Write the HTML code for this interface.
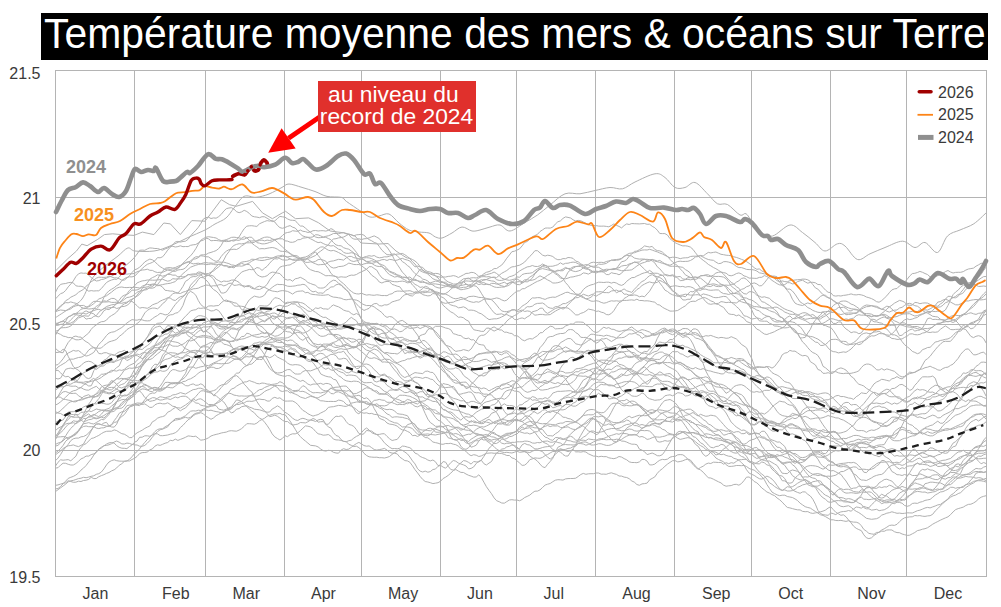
<!DOCTYPE html><html><head><meta charset="utf-8"><style>
html,body{margin:0;padding:0;background:#fff;width:1001px;height:607px;overflow:hidden;position:relative;font-family:"Liberation Sans",sans-serif}
.t{position:absolute;white-space:nowrap;line-height:1}
.m{font-size:16px;color:#3a3a3a;top:586px}
.yl{font-size:16px;color:#3a3a3a;right:960.5px}
.lg{font-size:16px;color:#3a3a3a;left:938px}
.b{font-weight:bold;font-size:18px}
</style></head><body>
<div style="position:absolute;left:41px;top:13px;width:947px;height:47px;background:#000"></div>
<div class="t" style="left:43.5px;top:11px;font-size:41px;color:#fff;line-height:47px;transform:scale(0.9965,1.04);transform-origin:0 37px">Température moyenne des mers &amp; océans sur Terre</div>
<svg width="1001" height="607" viewBox="0 0 1001 607" style="position:absolute;left:0;top:0">
<path d="M134.5 70.5V576.5 M205.5 70.5V576.5 M284.5 70.5V576.5 M361.5 70.5V576.5 M440.5 70.5V576.5 M516.5 70.5V576.5 M595.5 70.5V576.5 M674.5 70.5V576.5 M751.5 70.5V576.5 M830.5 70.5V576.5 M906.5 70.5V576.5 M55.5 197.5H986.5 M55.5 324.5H986.5 M55.5 450.5H986.5" stroke="#b4b4b4" stroke-width="1" fill="none"/>
<rect x="55.5" y="70.5" width="931" height="506" fill="none" stroke="#b4b4b4" stroke-width="1"/>
<g fill="none" stroke="#b0b0b0" stroke-width="1" stroke-linejoin="round">
<polyline points="55.5,298.9 58.0,296.2 60.6,293.6 63.1,292.8 65.7,290.4 68.2,286.9 70.8,284.0 73.3,280.9 75.9,276.6 78.5,273.8 81.0,272.9 83.5,273.3 86.1,273.1 88.7,275.2 91.2,277.5 93.8,279.5 96.3,281.0 98.8,280.6 101.4,279.5 103.9,279.1 106.5,278.1 109.0,276.9 111.6,276.1 114.2,274.7 116.7,273.3 119.2,270.7 121.8,269.0 124.3,266.7 126.9,264.5 129.4,262.4 132.0,260.0 134.6,257.2 137.1,254.0 139.6,250.3 142.2,250.1 144.8,250.3 147.3,248.9 149.8,247.9 152.4,248.1 154.9,248.5 157.5,248.5 160.1,249.4 162.6,250.2 165.1,248.9 167.7,248.0 170.2,246.5 172.8,246.3 175.3,247.0 177.9,246.6 180.4,245.8 183.0,246.7 185.5,246.5 188.1,246.6 190.6,245.3 193.2,244.8 195.8,244.5 198.3,242.9 200.8,240.9 203.4,240.1 205.9,238.2 208.5,238.8 211.0,240.8 213.6,240.5 216.1,240.5 218.7,240.8 221.2,241.2 223.8,241.2 226.3,241.6 228.9,241.3 231.4,240.5 234.0,239.9 236.5,240.2 239.1,240.3 241.6,239.2 244.2,239.2 246.8,237.9 249.3,237.2 251.8,237.3 254.4,240.1 256.9,242.6 259.5,243.2 262.0,243.9 264.6,243.8 267.1,243.3 269.7,242.4 272.2,241.6 274.8,240.0 277.4,238.7 279.9,238.8 282.4,238.8 285.0,240.8 287.5,241.1 290.1,242.2 292.6,242.3 295.2,241.6 297.8,239.7 300.3,239.6 302.9,238.1 305.4,237.9 307.9,237.4 310.5,238.8 313.0,240.0 315.6,241.5 318.1,242.6 320.7,242.2 323.2,243.5 325.8,244.7 328.3,245.3 330.9,246.0 333.4,245.6 336.0,247.3 338.5,249.2 341.1,249.8 343.6,252.4 346.2,253.3 348.8,253.3 351.3,252.7 353.8,253.2 356.4,254.4 358.9,256.6 361.5,257.6 364.0,257.9 366.6,257.7 369.1,257.9 371.7,258.7 374.2,259.8 376.8,261.4 379.3,263.5 381.9,264.8 384.4,265.7 387.0,268.7 389.5,271.0 392.1,272.2 394.6,273.0 397.2,274.8 399.8,275.5 402.3,277.0 404.8,277.2 407.4,277.5 409.9,277.0 412.5,279.3 415.0,279.2 417.6,280.6 420.1,281.4 422.7,281.0 425.2,282.7 427.8,283.9 430.3,284.5 432.9,283.9 435.4,283.9 438.0,284.3 440.5,284.8 443.1,285.3 445.6,285.9 448.2,286.5 450.8,287.2 453.3,286.7 455.8,284.6 458.4,282.9 460.9,280.8 463.5,278.8 466.0,278.6 468.6,278.7 471.1,277.9 473.7,277.7 476.2,278.0 478.8,276.7 481.3,276.0 483.9,273.7 486.4,272.3 489.0,271.6 491.5,270.5 494.1,268.6 496.6,268.5 499.2,266.7 501.7,265.1 504.3,261.9 506.8,258.2 509.4,255.0 511.9,251.7 514.5,251.2 517.0,250.1 519.6,248.8 522.1,245.9 524.7,242.4 527.2,241.5 529.8,239.1 532.3,236.7 534.9,235.6 537.5,234.3 540.0,231.5 542.5,229.9 545.1,228.1 547.6,228.0 550.2,228.1 552.8,227.1 555.3,224.1 557.8,221.8 560.4,220.9 563.0,218.4 565.5,216.9 568.0,217.4 570.6,218.0 573.1,219.8 575.7,221.0 578.2,220.4 580.8,220.8 583.3,222.0 585.9,223.2 588.4,224.7 591.0,225.3 593.5,225.6 596.1,225.6 598.6,226.1 601.2,226.2 603.8,226.1 606.3,226.4 608.8,226.8 611.4,225.5 613.9,223.9 616.5,225.4 619.0,226.4 621.6,227.9 624.1,225.6 626.7,223.9 629.2,224.5 631.8,223.5 634.3,223.7 636.9,223.8 639.4,223.9 642.0,223.7 644.5,223.5 647.1,224.3 649.6,224.2 652.2,226.3 654.8,227.7 657.3,230.2 659.8,233.5 662.4,233.6 664.9,233.6 667.5,235.1 670.0,238.7 672.6,240.8 675.1,242.7 677.7,243.9 680.2,245.0 682.8,245.9 685.3,245.8 687.9,246.2 690.4,247.1 693.0,249.4 695.5,252.8 698.1,256.1 700.6,258.2 703.2,260.3 705.8,262.2 708.3,264.4 710.8,265.8 713.4,267.5 715.9,268.7 718.5,270.3 721.0,272.1 723.6,272.6 726.1,273.2 728.7,275.3 731.2,275.8 733.8,275.0 736.3,273.6 738.9,272.9 741.4,273.9 744.0,275.9 746.5,276.6 749.1,278.1 751.6,278.1 754.2,278.3 756.8,278.4 759.3,277.4 761.8,277.3 764.4,275.6 766.9,276.5 769.5,278.1 772.0,280.4 774.6,282.0 777.1,283.7 779.7,284.9 782.2,285.0 784.8,284.6 787.3,282.7 789.9,282.7 792.4,283.9 795.0,283.5 797.5,281.6 800.1,280.8 802.6,280.2 805.2,281.9 807.8,283.2 810.3,282.4 812.8,282.3 815.4,282.8 817.9,284.5 820.5,284.6 823.0,287.4 825.6,290.2 828.1,292.3 830.7,292.6 833.2,295.6 835.8,296.1 838.3,295.7 840.9,296.0 843.4,295.4 846.0,295.1 848.5,294.6 851.1,293.9 853.6,294.7 856.2,294.9 858.8,294.5 861.3,294.9 863.8,295.6 866.4,297.0 868.9,297.7 871.5,298.6 874.0,299.9 876.6,301.7 879.1,302.2 881.7,300.6 884.2,298.3 886.8,295.8 889.3,292.7 891.9,289.9 894.4,288.9 897.0,288.5 899.5,285.9 902.1,283.9 904.6,282.0 907.2,279.3 909.7,276.0 912.3,273.6 914.8,273.3 917.4,272.5 919.9,271.4 922.5,272.3 925.0,273.5 927.6,274.6 930.1,276.9 932.7,277.5 935.2,276.8 937.8,275.6 940.3,274.5 942.9,273.4 945.4,271.6 948.0,270.5 950.5,272.0 953.1,273.0 955.6,272.4 958.2,272.3 960.7,272.3 963.3,271.6 965.8,270.1 968.4,269.0 970.9,268.6 973.5,268.1 976.0,266.2 978.6,264.8 981.1,263.3 983.7,263.4 986.2,262.7"/>
<polyline points="55.5,292.2 58.0,287.4 60.6,284.4 63.1,283.8 65.7,283.5 68.2,282.7 70.8,282.4 73.3,282.9 75.9,285.8 78.5,286.3 81.0,286.2 83.5,287.0 86.1,289.3 88.7,291.2 91.2,290.6 93.8,291.0 96.3,290.8 98.8,290.8 101.4,288.5 103.9,285.5 106.5,282.5 109.0,281.0 111.6,280.0 114.2,279.2 116.7,279.4 119.2,277.1 121.8,274.1 124.3,273.7 126.9,274.2 129.4,273.8 132.0,273.8 134.6,273.4 137.1,271.7 139.6,271.0 142.2,268.5 144.8,266.2 147.3,264.3 149.8,263.4 152.4,262.4 154.9,260.8 157.5,257.6 160.1,257.8 162.6,256.8 165.1,253.8 167.7,250.1 170.2,247.3 172.8,244.8 175.3,241.9 177.9,241.4 180.4,242.1 183.0,241.5 185.5,241.2 188.1,239.3 190.6,235.9 193.2,232.9 195.8,230.3 198.3,227.3 200.8,223.6 203.4,219.0 205.9,217.6 208.5,217.2 211.0,218.5 213.6,217.9 216.1,218.2 218.7,216.6 221.2,214.4 223.8,211.1 226.3,208.7 228.9,208.0 231.4,207.7 234.0,209.1 236.5,211.7 239.1,212.7 241.6,211.9 244.2,210.3 246.8,211.5 249.3,213.4 251.8,216.0 254.4,216.8 256.9,217.1 259.5,217.7 262.0,216.7 264.6,216.8 267.1,218.2 269.7,219.8 272.2,221.6 274.8,220.9 277.4,218.6 279.9,216.4 282.4,216.8 285.0,217.2 287.5,218.9 290.1,220.1 292.6,220.3 295.2,220.5 297.8,223.6 300.3,226.0 302.9,226.1 305.4,228.1 307.9,230.3 310.5,232.2 313.0,234.7 315.6,237.0 318.1,237.7 320.7,237.6 323.2,237.3 325.8,237.3 328.3,238.5 330.9,239.7 333.4,242.5 336.0,244.9 338.5,245.6 341.1,245.8 343.6,247.7 346.2,248.6 348.8,249.2 351.3,251.0 353.8,252.8 356.4,258.2 358.9,263.1 361.5,264.9 364.0,263.9 366.6,263.4 369.1,263.0 371.7,263.4 374.2,262.9 376.8,261.1 379.3,260.7 381.9,259.7 384.4,259.5 387.0,260.5 389.5,259.4 392.1,259.7 394.6,260.5 397.2,260.1 399.8,259.1 402.3,258.3 404.8,259.4 407.4,260.1 409.9,261.0 412.5,264.1 415.0,266.9 417.6,266.1 420.1,266.9 422.7,267.4 425.2,270.2 427.8,271.6 430.3,272.1 432.9,273.2 435.4,276.0 438.0,277.9 440.5,281.2 443.1,282.2 445.6,283.7 448.2,284.8 450.8,286.9 453.3,287.7 455.8,287.5 458.4,288.7 460.9,289.8 463.5,289.4 466.0,288.9 468.6,288.3 471.1,287.0 473.7,284.9 476.2,282.4 478.8,281.0 481.3,281.6 483.9,279.4 486.4,279.6 489.0,280.4 491.5,280.9 494.1,281.2 496.6,283.1 499.2,284.9 501.7,285.8 504.3,286.6 506.8,286.2 509.4,284.9 511.9,282.9 514.5,279.9 517.0,278.9 519.6,280.5 522.1,281.8 524.7,279.8 527.2,279.8 529.8,280.3 532.3,280.2 534.9,279.4 537.5,277.4 540.0,275.8 542.5,277.1 545.1,278.4 547.6,279.9 550.2,281.2 552.8,283.0 555.3,283.0 557.8,282.7 560.4,281.9 563.0,280.4 565.5,277.2 568.0,272.2 570.6,269.9 573.1,268.2 575.7,266.7 578.2,266.2 580.8,265.2 583.3,265.4 585.9,264.6 588.4,265.0 591.0,266.2 593.5,267.4 596.1,267.1 598.6,267.3 601.2,268.8 603.8,270.5 606.3,271.2 608.8,269.7 611.4,269.3 613.9,269.4 616.5,268.7 619.0,265.0 621.6,261.7 624.1,261.2 626.7,259.6 629.2,256.1 631.8,254.0 634.3,251.4 636.9,251.1 639.4,249.7 642.0,248.1 644.5,245.9 647.1,246.5 649.6,247.0 652.2,246.4 654.8,249.4 657.3,250.6 659.8,250.9 662.4,252.1 664.9,254.4 667.5,256.4 670.0,259.4 672.6,262.0 675.1,264.0 677.7,265.7 680.2,268.9 682.8,271.5 685.3,274.8 687.9,276.2 690.4,277.4 693.0,278.1 695.5,277.7 698.1,277.2 700.6,275.9 703.2,275.6 705.8,275.6 708.3,276.5 710.8,276.3 713.4,275.1 715.9,273.0 718.5,272.3 721.0,271.9 723.6,274.2 726.1,277.0 728.7,279.9 731.2,282.3 733.8,283.9 736.3,286.7 738.9,288.2 741.4,291.7 744.0,293.7 746.5,294.0 749.1,291.8 751.6,291.6 754.2,292.7 756.8,295.2 759.3,296.2 761.8,297.3 764.4,296.8 766.9,297.6 769.5,298.3 772.0,300.9 774.6,302.6 777.1,304.2 779.7,305.7 782.2,307.5 784.8,309.0 787.3,310.1 789.9,310.9 792.4,311.8 795.0,313.8 797.5,314.6 800.1,316.4 802.6,318.1 805.2,319.3 807.8,318.9 810.3,318.3 812.8,318.6 815.4,317.7 817.9,318.4 820.5,316.8 823.0,315.5 825.6,312.9 828.1,311.1 830.7,308.7 833.2,305.6 835.8,303.8 838.3,303.1 840.9,301.3 843.4,301.0 846.0,301.1 848.5,302.3 851.1,304.1 853.6,304.9 856.2,306.6 858.8,308.4 861.3,311.3 863.8,313.9 866.4,315.6 868.9,315.5 871.5,316.8 874.0,315.8 876.6,316.4 879.1,315.5 881.7,313.3 884.2,311.7 886.8,309.0 889.3,307.0 891.9,305.2 894.4,303.2 897.0,301.8 899.5,300.4 902.1,301.1 904.6,302.2 907.2,305.0 909.7,305.3 912.3,305.2 914.8,302.4 917.4,302.7 919.9,303.7 922.5,303.1 925.0,302.9 927.6,303.1 930.1,304.4 932.7,305.6 935.2,305.8 937.8,306.3 940.3,304.0 942.9,302.4 945.4,299.3 948.0,296.3 950.5,296.4 953.1,297.7 955.6,296.4 958.2,294.4 960.7,294.3 963.3,292.8 965.8,289.3 968.4,287.6 970.9,284.5 973.5,283.9 976.0,285.2 978.6,286.5 981.1,286.3 983.7,286.0 986.2,286.4"/>
<polyline points="55.5,311.1 58.0,309.1 60.6,306.9 63.1,304.0 65.7,300.7 68.2,299.3 70.8,297.2 73.3,296.0 75.9,294.7 78.5,292.3 81.0,290.8 83.5,289.4 86.1,286.2 88.7,284.2 91.2,281.7 93.8,280.2 96.3,278.2 98.8,277.2 101.4,277.3 103.9,277.4 106.5,277.2 109.0,276.0 111.6,277.0 114.2,277.9 116.7,277.8 119.2,278.7 121.8,280.2 124.3,280.1 126.9,278.1 129.4,275.8 132.0,272.5 134.6,269.8 137.1,268.9 139.6,267.2 142.2,264.8 144.8,261.9 147.3,260.4 149.8,259.1 152.4,259.8 154.9,261.7 157.5,264.4 160.1,266.6 162.6,268.1 165.1,269.7 167.7,268.9 170.2,269.4 172.8,268.9 175.3,268.8 177.9,267.9 180.4,266.4 183.0,263.1 185.5,260.8 188.1,257.9 190.6,255.8 193.2,252.6 195.8,248.7 198.3,244.1 200.8,240.2 203.4,238.5 205.9,237.3 208.5,236.7 211.0,237.1 213.6,237.5 216.1,238.0 218.7,239.6 221.2,240.6 223.8,240.3 226.3,240.4 228.9,241.4 231.4,240.6 234.0,241.1 236.5,239.3 239.1,236.9 241.6,232.6 244.2,228.7 246.8,226.2 249.3,225.8 251.8,225.7 254.4,226.1 256.9,226.4 259.5,223.8 262.0,222.6 264.6,221.5 267.1,220.6 269.7,221.1 272.2,220.5 274.8,222.0 277.4,225.4 279.9,227.6 282.4,228.3 285.0,227.5 287.5,226.4 290.1,225.6 292.6,227.2 295.2,228.0 297.8,230.9 300.3,234.1 302.9,236.0 305.4,236.8 307.9,237.3 310.5,237.3 313.0,236.9 315.6,234.7 318.1,234.9 320.7,235.9 323.2,237.1 325.8,236.3 328.3,235.8 330.9,234.8 333.4,233.5 336.0,233.5 338.5,233.7 341.1,233.0 343.6,232.6 346.2,233.9 348.8,234.5 351.3,237.6 353.8,239.0 356.4,239.3 358.9,238.8 361.5,239.6 364.0,238.8 366.6,238.6 369.1,237.9 371.7,236.8 374.2,235.9 376.8,237.2 379.3,238.6 381.9,242.1 384.4,244.8 387.0,247.1 389.5,250.8 392.1,254.9 394.6,260.2 397.2,264.3 399.8,268.2 402.3,272.2 404.8,274.5 407.4,277.8 409.9,281.4 412.5,285.1 415.0,287.4 417.6,290.8 420.1,292.9 422.7,292.8 425.2,292.5 427.8,292.1 430.3,292.2 432.9,291.8 435.4,292.1 438.0,293.7 440.5,293.9 443.1,294.2 445.6,293.4 448.2,291.9 450.8,289.2 453.3,287.3 455.8,286.8 458.4,287.3 460.9,285.0 463.5,281.5 466.0,278.5 468.6,278.1 471.1,279.9 473.7,281.4 476.2,280.9 478.8,282.1 481.3,282.9 483.9,282.6 486.4,283.9 489.0,284.8 491.5,283.4 494.1,283.4 496.6,284.1 499.2,284.0 501.7,283.2 504.3,282.2 506.8,283.7 509.4,283.0 511.9,282.6 514.5,282.3 517.0,281.8 519.6,281.6 522.1,282.8 524.7,281.6 527.2,281.9 529.8,280.4 532.3,278.1 534.9,273.8 537.5,271.5 540.0,268.3 542.5,265.6 545.1,265.3 547.6,266.7 550.2,269.1 552.8,271.0 555.3,271.4 557.8,270.1 560.4,270.8 563.0,270.7 565.5,268.4 568.0,268.5 570.6,268.4 573.1,266.9 575.7,266.4 578.2,266.4 580.8,266.5 583.3,268.1 585.9,269.1 588.4,269.3 591.0,271.5 593.5,272.4 596.1,271.2 598.6,271.5 601.2,270.4 603.8,269.9 606.3,269.2 608.8,269.4 611.4,269.6 613.9,269.5 616.5,268.1 619.0,267.8 621.6,266.1 624.1,265.5 626.7,265.4 629.2,263.9 631.8,263.3 634.3,262.2 636.9,262.6 639.4,264.3 642.0,266.9 644.5,269.2 647.1,271.8 649.6,273.6 652.2,273.3 654.8,273.2 657.3,273.3 659.8,274.4 662.4,275.3 664.9,274.8 667.5,274.9 670.0,275.9 672.6,275.7 675.1,277.2 677.7,276.7 680.2,276.5 682.8,279.0 685.3,279.2 687.9,277.7 690.4,277.7 693.0,277.2 695.5,276.8 698.1,277.8 700.6,278.2 703.2,280.2 705.8,282.5 708.3,284.6 710.8,284.3 713.4,283.8 715.9,284.4 718.5,285.3 721.0,284.8 723.6,285.2 726.1,286.2 728.7,288.6 731.2,291.1 733.8,293.6 736.3,292.4 738.9,291.2 741.4,289.4 744.0,288.6 746.5,286.7 749.1,285.9 751.6,283.7 754.2,282.9 756.8,283.9 759.3,285.8 761.8,285.7 764.4,282.8 766.9,279.6 769.5,276.5 772.0,276.1 774.6,276.1 777.1,276.8 779.7,279.4 782.2,283.2 784.8,287.6 787.3,290.5 789.9,293.7 792.4,299.2 795.0,303.1 797.5,304.4 800.1,305.0 802.6,305.5 805.2,304.0 807.8,302.9 810.3,303.9 812.8,302.6 815.4,300.9 817.9,298.8 820.5,296.4 823.0,295.1 825.6,295.2 828.1,297.7 830.7,298.7 833.2,300.3 835.8,302.0 838.3,304.2 840.9,309.1 843.4,312.3 846.0,314.7 848.5,314.5 851.1,314.2 853.6,313.4 856.2,312.7 858.8,310.9 861.3,309.2 863.8,307.8 866.4,306.7 868.9,306.5 871.5,305.7 874.0,306.0 876.6,306.3 879.1,307.6 881.7,309.4 884.2,307.8 886.8,306.2 889.3,306.7 891.9,309.0 894.4,311.4 897.0,312.9 899.5,313.3 902.1,313.7 904.6,314.0 907.2,313.8 909.7,313.7 912.3,315.0 914.8,316.0 917.4,315.6 919.9,314.6 922.5,313.7 925.0,312.7 927.6,311.9 930.1,312.8 932.7,310.3 935.2,307.8 937.8,307.2 940.3,306.9 942.9,305.3 945.4,302.7 948.0,301.8 950.5,299.1 953.1,297.6 955.6,297.8 958.2,296.3 960.7,292.5 963.3,289.5 965.8,285.8 968.4,282.7 970.9,282.7 973.5,280.4 976.0,278.9 978.6,277.0 981.1,274.4 983.7,270.3 986.2,267.0"/>
<polyline points="55.5,311.2 58.0,308.5 60.6,305.7 63.1,304.1 65.7,302.6 68.2,302.8 70.8,301.9 73.3,302.7 75.9,303.3 78.5,304.8 81.0,307.3 83.5,308.1 86.1,308.1 88.7,306.2 91.2,303.3 93.8,301.4 96.3,301.3 98.8,301.5 101.4,302.3 103.9,302.0 106.5,302.0 109.0,301.7 111.6,302.4 114.2,302.4 116.7,302.2 119.2,302.9 121.8,301.3 124.3,299.5 126.9,297.5 129.4,297.2 132.0,296.3 134.6,294.7 137.1,292.2 139.6,291.2 142.2,290.5 144.8,290.0 147.3,289.5 149.8,287.2 152.4,286.8 154.9,283.7 157.5,279.3 160.1,274.6 162.6,271.3 165.1,268.3 167.7,267.7 170.2,267.6 172.8,268.1 175.3,267.5 177.9,266.3 180.4,265.4 183.0,264.1 185.5,262.5 188.1,261.8 190.6,262.9 193.2,263.9 195.8,263.5 198.3,263.2 200.8,263.8 203.4,262.9 205.9,262.6 208.5,263.0 211.0,263.0 213.6,263.3 216.1,262.8 218.7,261.9 221.2,262.3 223.8,262.1 226.3,262.9 228.9,263.6 231.4,264.9 234.0,265.2 236.5,266.3 239.1,265.9 241.6,266.2 244.2,265.5 246.8,264.1 249.3,262.9 251.8,261.1 254.4,259.9 256.9,258.9 259.5,257.8 262.0,257.9 264.6,257.4 267.1,257.2 269.7,257.8 272.2,258.1 274.8,257.9 277.4,257.4 279.9,258.6 282.4,259.8 285.0,260.1 287.5,260.0 290.1,258.9 292.6,260.1 295.2,260.4 297.8,260.4 300.3,260.1 302.9,259.8 305.4,259.8 307.9,258.1 310.5,257.8 313.0,256.6 315.6,255.5 318.1,252.9 320.7,251.1 323.2,249.2 325.8,246.6 328.3,244.9 330.9,241.3 333.4,239.0 336.0,238.7 338.5,237.9 341.1,237.6 343.6,237.0 346.2,235.7 348.8,234.1 351.3,234.7 353.8,235.9 356.4,234.8 358.9,234.6 361.5,234.3 364.0,235.2 366.6,237.7 369.1,239.6 371.7,240.8 374.2,242.4 376.8,243.3 379.3,246.5 381.9,250.2 384.4,252.5 387.0,254.7 389.5,254.7 392.1,254.2 394.6,253.9 397.2,255.9 399.8,258.3 402.3,261.6 404.8,263.1 407.4,265.5 409.9,267.3 412.5,270.8 415.0,273.6 417.6,275.5 420.1,276.7 422.7,279.1 425.2,279.7 427.8,281.0 430.3,283.3 432.9,285.0 435.4,286.8 438.0,287.8 440.5,288.1 443.1,287.3 445.6,286.6 448.2,285.1 450.8,284.8 453.3,286.5 455.8,287.0 458.4,288.0 460.9,287.8 463.5,287.3 466.0,287.2 468.6,286.1 471.1,285.4 473.7,284.6 476.2,283.3 478.8,284.6 481.3,283.9 483.9,284.7 486.4,284.3 489.0,284.4 491.5,285.6 494.1,286.9 496.6,287.4 499.2,287.4 501.7,287.1 504.3,287.0 506.8,285.1 509.4,282.6 511.9,281.5 514.5,283.4 517.0,284.5 519.6,284.7 522.1,283.1 524.7,281.5 527.2,279.3 529.8,277.1 532.3,275.6 534.9,273.0 537.5,270.5 540.0,269.3 542.5,268.6 545.1,269.2 547.6,269.8 550.2,270.4 552.8,271.5 555.3,273.8 557.8,275.2 560.4,278.1 563.0,278.5 565.5,278.8 568.0,278.1 570.6,277.1 573.1,276.9 575.7,276.2 578.2,275.6 580.8,274.8 583.3,272.9 585.9,273.3 588.4,274.1 591.0,272.7 593.5,271.2 596.1,271.7 598.6,271.8 601.2,271.8 603.8,271.2 606.3,270.9 608.8,269.5 611.4,269.3 613.9,268.4 616.5,269.3 619.0,270.0 621.6,270.7 624.1,270.7 626.7,270.3 629.2,270.2 631.8,269.8 634.3,268.0 636.9,266.0 639.4,264.4 642.0,263.1 644.5,262.4 647.1,261.3 649.6,261.2 652.2,259.6 654.8,260.1 657.3,261.1 659.8,260.4 662.4,262.2 664.9,263.7 667.5,264.5 670.0,265.3 672.6,263.9 675.1,262.6 677.7,261.5 680.2,261.2 682.8,261.5 685.3,261.4 687.9,261.3 690.4,260.5 693.0,259.0 695.5,256.9 698.1,256.6 700.6,255.4 703.2,256.0 705.8,254.0 708.3,252.4 710.8,252.9 713.4,252.4 715.9,252.0 718.5,253.2 721.0,254.3 723.6,254.7 726.1,255.2 728.7,255.4 731.2,255.8 733.8,256.8 736.3,257.4 738.9,258.3 741.4,259.3 744.0,260.3 746.5,261.6 749.1,263.3 751.6,265.4 754.2,267.7 756.8,269.3 759.3,268.9 761.8,270.9 764.4,272.2 766.9,275.0 769.5,275.8 772.0,276.4 774.6,277.0 777.1,278.7 779.7,282.0 782.2,285.6 784.8,286.5 787.3,289.2 789.9,289.1 792.4,291.0 795.0,294.2 797.5,298.0 800.1,301.9 802.6,303.5 805.2,305.2 807.8,307.6 810.3,308.7 812.8,310.4 815.4,311.4 817.9,312.3 820.5,312.5 823.0,312.0 825.6,311.6 828.1,311.4 830.7,311.5 833.2,310.3 835.8,309.6 838.3,307.5 840.9,307.6 843.4,307.2 846.0,308.4 848.5,310.7 851.1,310.9 853.6,309.5 856.2,309.9 858.8,310.1 861.3,310.6 863.8,313.2 866.4,313.7 868.9,313.7 871.5,314.2 874.0,315.6 876.6,316.0 879.1,315.8 881.7,314.5 884.2,314.3 886.8,315.4 889.3,317.1 891.9,319.2 894.4,320.8 897.0,321.9 899.5,323.3 902.1,322.7 904.6,323.0 907.2,325.1 909.7,325.5 912.3,326.6 914.8,326.5 917.4,326.5 919.9,327.6 922.5,328.9 925.0,330.7 927.6,332.2 930.1,332.5 932.7,332.0 935.2,332.3 937.8,331.8 940.3,329.4 942.9,327.5 945.4,325.9 948.0,327.6 950.5,329.5 953.1,329.7 955.6,329.4 958.2,329.3 960.7,329.5 963.3,328.4 965.8,327.3 968.4,325.1 970.9,323.3 973.5,323.3 976.0,321.4 978.6,319.0 981.1,314.8 983.7,310.8 986.2,309.9"/>
<polyline points="55.5,323.4 58.0,323.1 60.6,322.0 63.1,320.8 65.7,318.8 68.2,317.0 70.8,315.8 73.3,313.7 75.9,313.5 78.5,311.7 81.0,309.2 83.5,308.6 86.1,308.5 88.7,309.0 91.2,308.8 93.8,308.3 96.3,308.9 98.8,306.6 101.4,303.3 103.9,297.5 106.5,293.3 109.0,290.8 111.6,289.2 114.2,287.7 116.7,285.6 119.2,284.3 121.8,280.6 124.3,278.7 126.9,277.4 129.4,276.8 132.0,276.9 134.6,276.1 137.1,273.8 139.6,270.8 142.2,270.0 144.8,269.8 147.3,269.2 149.8,270.3 152.4,270.4 154.9,271.8 157.5,272.5 160.1,272.3 162.6,272.3 165.1,271.2 167.7,270.1 170.2,270.5 172.8,271.1 175.3,271.4 177.9,270.0 180.4,269.6 183.0,269.3 185.5,267.9 188.1,264.9 190.6,262.4 193.2,259.2 195.8,258.8 198.3,257.6 200.8,255.7 203.4,256.1 205.9,256.7 208.5,256.9 211.0,258.6 213.6,260.4 216.1,261.4 218.7,260.4 221.2,256.5 223.8,253.4 226.3,251.2 228.9,249.7 231.4,249.6 234.0,249.2 236.5,249.5 239.1,248.1 241.6,245.9 244.2,244.3 246.8,242.1 249.3,240.8 251.8,241.0 254.4,240.8 256.9,241.2 259.5,240.4 262.0,240.1 264.6,240.9 267.1,240.1 269.7,240.5 272.2,239.9 274.8,239.4 277.4,239.2 279.9,237.8 282.4,235.6 285.0,233.2 287.5,232.5 290.1,232.0 292.6,230.7 295.2,231.1 297.8,231.3 300.3,230.0 302.9,231.3 305.4,231.6 307.9,232.5 310.5,231.9 313.0,230.7 315.6,230.5 318.1,231.0 320.7,230.7 323.2,230.7 325.8,231.1 328.3,230.4 330.9,228.6 333.4,229.7 336.0,232.6 338.5,235.4 341.1,237.0 343.6,238.9 346.2,242.1 348.8,244.7 351.3,246.3 353.8,249.1 356.4,252.3 358.9,256.1 361.5,258.1 364.0,260.1 366.6,261.4 369.1,261.4 371.7,260.7 374.2,261.5 376.8,262.1 379.3,263.8 381.9,266.4 384.4,268.9 387.0,272.4 389.5,274.6 392.1,275.9 394.6,277.1 397.2,276.5 399.8,277.2 402.3,277.9 404.8,277.5 407.4,278.1 409.9,279.4 412.5,280.2 415.0,280.3 417.6,280.8 420.1,282.4 422.7,282.3 425.2,282.5 427.8,283.2 430.3,282.8 432.9,282.0 435.4,281.1 438.0,281.4 440.5,282.8 443.1,282.2 445.6,282.3 448.2,284.4 450.8,284.5 453.3,285.6 455.8,285.8 458.4,286.0 460.9,285.5 463.5,285.0 466.0,284.3 468.6,284.9 471.1,284.6 473.7,281.9 476.2,279.9 478.8,278.0 481.3,276.8 483.9,276.6 486.4,276.9 489.0,276.6 491.5,277.4 494.1,277.4 496.6,279.7 499.2,280.4 501.7,280.4 504.3,279.7 506.8,278.5 509.4,276.7 511.9,276.1 514.5,275.0 517.0,273.0 519.6,271.0 522.1,269.5 524.7,268.2 527.2,266.9 529.8,266.5 532.3,265.5 534.9,266.4 537.5,266.5 540.0,265.8 542.5,264.0 545.1,265.3 547.6,266.3 550.2,266.3 552.8,266.2 555.3,265.5 557.8,264.7 560.4,262.8 563.0,264.4 565.5,263.3 568.0,263.2 570.6,262.5 573.1,262.1 575.7,262.5 578.2,263.8 580.8,264.7 583.3,266.8 585.9,268.2 588.4,267.7 591.0,266.3 593.5,266.3 596.1,265.9 598.6,264.0 601.2,264.4 603.8,264.0 606.3,263.4 608.8,261.7 611.4,260.1 613.9,260.5 616.5,260.2 619.0,259.9 621.6,258.7 624.1,256.5 626.7,255.3 629.2,255.5 631.8,256.1 634.3,258.0 636.9,258.7 639.4,259.1 642.0,259.0 644.5,259.2 647.1,260.3 649.6,259.8 652.2,259.4 654.8,261.1 657.3,261.7 659.8,262.4 662.4,263.3 664.9,264.0 667.5,265.3 670.0,266.2 672.6,266.3 675.1,266.2 677.7,266.6 680.2,266.9 682.8,267.4 685.3,269.5 687.9,271.0 690.4,273.1 693.0,277.2 695.5,282.1 698.1,284.9 700.6,288.4 703.2,289.2 705.8,289.1 708.3,290.0 710.8,290.3 713.4,290.1 715.9,289.9 718.5,290.0 721.0,292.3 723.6,293.6 726.1,293.8 728.7,294.5 731.2,293.5 733.8,293.4 736.3,293.6 738.9,294.1 741.4,297.0 744.0,297.8 746.5,298.1 749.1,299.5 751.6,299.9 754.2,301.6 756.8,303.5 759.3,305.8 761.8,307.7 764.4,308.1 766.9,309.1 769.5,310.6 772.0,311.6 774.6,312.3 777.1,314.2 779.7,316.9 782.2,317.6 784.8,319.5 787.3,322.4 789.9,325.6 792.4,329.8 795.0,332.4 797.5,333.5 800.1,333.7 802.6,334.5 805.2,335.3 807.8,336.1 810.3,336.4 812.8,336.8 815.4,338.0 817.9,339.1 820.5,341.0 823.0,343.1 825.6,344.7 828.1,347.9 830.7,350.5 833.2,351.6 835.8,351.9 838.3,352.9 840.9,352.4 843.4,351.9 846.0,352.3 848.5,350.8 851.1,349.0 853.6,346.3 856.2,343.8 858.8,342.4 861.3,341.8 863.8,340.8 866.4,339.6 868.9,337.2 871.5,335.8 874.0,336.0 876.6,335.0 879.1,333.5 881.7,333.7 884.2,333.7 886.8,336.0 889.3,336.6 891.9,338.5 894.4,338.7 897.0,339.4 899.5,339.3 902.1,338.9 904.6,337.4 907.2,336.1 909.7,334.0 912.3,333.8 914.8,334.6 917.4,334.8 919.9,334.4 922.5,333.1 925.0,332.6 927.6,331.2 930.1,328.8 932.7,326.8 935.2,324.9 937.8,323.2 940.3,323.2 942.9,322.4 945.4,321.8 948.0,321.4 950.5,321.5 953.1,322.5 955.6,321.2 958.2,318.9 960.7,316.8 963.3,315.0 965.8,312.8 968.4,310.5 970.9,308.5 973.5,306.6 976.0,303.7 978.6,300.4 981.1,296.7 983.7,293.8 986.2,291.5"/>
<polyline points="55.5,331.6 58.0,333.3 60.6,334.4 63.1,336.1 65.7,336.6 68.2,337.6 70.8,337.5 73.3,338.6 75.9,339.8 78.5,339.8 81.0,339.3 83.5,337.3 86.1,335.1 88.7,333.0 91.2,329.3 93.8,326.6 96.3,324.9 98.8,322.9 101.4,321.7 103.9,321.5 106.5,320.1 109.0,317.2 111.6,315.5 114.2,314.0 116.7,312.0 119.2,309.0 121.8,305.6 124.3,303.9 126.9,303.1 129.4,300.3 132.0,299.2 134.6,297.8 137.1,296.1 139.6,294.4 142.2,291.1 144.8,289.1 147.3,288.2 149.8,288.1 152.4,288.2 154.9,287.4 157.5,284.5 160.1,281.3 162.6,277.7 165.1,276.5 167.7,274.1 170.2,273.0 172.8,271.1 175.3,269.8 177.9,268.7 180.4,265.7 183.0,264.0 185.5,263.2 188.1,262.0 190.6,261.0 193.2,258.4 195.8,256.8 198.3,256.8 200.8,255.0 203.4,254.8 205.9,254.6 208.5,253.1 211.0,252.4 213.6,251.5 216.1,250.6 218.7,248.6 221.2,245.4 223.8,240.6 226.3,239.6 228.9,238.6 231.4,237.4 234.0,237.2 236.5,237.5 239.1,238.0 241.6,238.3 244.2,236.6 246.8,237.9 249.3,240.1 251.8,243.1 254.4,245.3 256.9,246.9 259.5,248.9 262.0,248.6 264.6,248.8 267.1,248.3 269.7,247.8 272.2,247.5 274.8,248.0 277.4,249.2 279.9,251.0 282.4,251.4 285.0,251.4 287.5,252.2 290.1,253.5 292.6,254.8 295.2,256.2 297.8,258.0 300.3,258.0 302.9,257.4 305.4,257.0 307.9,256.0 310.5,254.2 313.0,252.5 315.6,250.4 318.1,248.7 320.7,247.0 323.2,246.9 325.8,248.7 328.3,250.2 330.9,250.9 333.4,250.4 336.0,251.3 338.5,252.5 341.1,253.9 343.6,255.3 346.2,256.5 348.8,259.3 351.3,260.9 353.8,261.5 356.4,260.8 358.9,260.1 361.5,258.6 364.0,257.1 366.6,256.4 369.1,255.7 371.7,256.2 374.2,255.5 376.8,257.1 379.3,257.8 381.9,257.5 384.4,256.8 387.0,256.9 389.5,256.2 392.1,255.4 394.6,254.6 397.2,254.1 399.8,254.0 402.3,253.4 404.8,254.7 407.4,256.5 409.9,258.6 412.5,261.8 415.0,264.0 417.6,267.8 420.1,270.7 422.7,272.0 425.2,272.9 427.8,273.2 430.3,273.8 432.9,273.9 435.4,273.4 438.0,273.6 440.5,274.7 443.1,277.2 445.6,280.2 448.2,281.9 450.8,282.9 453.3,284.1 455.8,284.0 458.4,284.1 460.9,283.6 463.5,281.6 466.0,280.9 468.6,281.1 471.1,281.3 473.7,281.1 476.2,280.7 478.8,281.1 481.3,279.7 483.9,280.2 486.4,279.5 489.0,278.2 491.5,277.5 494.1,277.1 496.6,277.6 499.2,275.3 501.7,273.3 504.3,271.9 506.8,270.5 509.4,268.4 511.9,266.9 514.5,266.6 517.0,265.8 519.6,265.2 522.1,263.8 524.7,262.0 527.2,259.2 529.8,256.4 532.3,253.9 534.9,250.7 537.5,250.7 540.0,252.9 542.5,255.1 545.1,256.0 547.6,255.2 550.2,255.6 552.8,256.5 555.3,258.6 557.8,259.7 560.4,259.6 563.0,258.6 565.5,258.7 568.0,257.5 570.6,257.7 573.1,258.4 575.7,261.1 578.2,261.8 580.8,263.9 583.3,265.1 585.9,267.6 588.4,269.0 591.0,270.3 593.5,272.0 596.1,273.0 598.6,271.8 601.2,271.5 603.8,272.3 606.3,274.5 608.8,274.6 611.4,272.7 613.9,273.4 616.5,273.7 619.0,274.8 621.6,273.2 624.1,270.2 626.7,268.1 629.2,264.9 631.8,263.5 634.3,262.1 636.9,262.2 639.4,262.0 642.0,260.0 644.5,259.4 647.1,259.3 649.6,259.7 652.2,260.9 654.8,262.9 657.3,266.8 659.8,268.8 662.4,271.9 664.9,274.5 667.5,275.9 670.0,275.5 672.6,274.8 675.1,275.9 677.7,278.2 680.2,280.6 682.8,280.5 685.3,279.6 687.9,279.3 690.4,279.8 693.0,279.3 695.5,279.5 698.1,278.3 700.6,275.6 703.2,275.5 705.8,274.8 708.3,274.8 710.8,276.1 713.4,277.9 715.9,280.0 718.5,282.3 721.0,284.2 723.6,285.1 726.1,287.6 728.7,291.5 731.2,294.0 733.8,296.0 736.3,298.0 738.9,300.4 741.4,301.7 744.0,302.6 746.5,303.1 749.1,304.0 751.6,305.5 754.2,306.6 756.8,306.7 759.3,307.1 761.8,307.6 764.4,308.1 766.9,308.0 769.5,307.8 772.0,308.1 774.6,307.2 777.1,307.2 779.7,308.8 782.2,310.1 784.8,312.1 787.3,313.1 789.9,314.2 792.4,314.4 795.0,314.4 797.5,317.2 800.1,318.6 802.6,319.6 805.2,320.5 807.8,322.2 810.3,323.8 812.8,323.7 815.4,323.2 817.9,323.5 820.5,323.5 823.0,323.3 825.6,321.8 828.1,320.2 830.7,318.7 833.2,318.9 835.8,319.8 838.3,320.5 840.9,320.4 843.4,319.7 846.0,318.9 848.5,319.5 851.1,318.7 853.6,318.1 856.2,315.7 858.8,314.7 861.3,315.2 863.8,315.1 866.4,315.5 868.9,315.8 871.5,316.4 874.0,315.7 876.6,315.8 879.1,315.5 881.7,315.1 884.2,315.4 886.8,317.6 889.3,317.8 891.9,317.7 894.4,317.0 897.0,316.5 899.5,315.3 902.1,314.4 904.6,313.0 907.2,312.2 909.7,311.9 912.3,311.3 914.8,312.0 917.4,311.6 919.9,309.9 922.5,309.9 925.0,309.9 927.6,310.1 930.1,308.8 932.7,307.4 935.2,305.5 937.8,302.1 940.3,301.6 942.9,300.1 945.4,299.2 948.0,300.2 950.5,302.0 953.1,303.5 955.6,304.8 958.2,304.9 960.7,303.8 963.3,303.7 965.8,300.9 968.4,301.0 970.9,300.2 973.5,299.8 976.0,299.5 978.6,299.8 981.1,299.9 983.7,299.6 986.2,299.0"/>
<polyline points="55.5,311.8 58.0,310.7 60.6,310.0 63.1,310.3 65.7,310.6 68.2,309.8 70.8,308.8 73.3,306.8 75.9,305.8 78.5,305.4 81.0,305.6 83.5,305.4 86.1,306.8 88.7,306.8 91.2,305.5 93.8,303.6 96.3,301.3 98.8,299.0 101.4,298.0 103.9,296.6 106.5,295.8 109.0,293.9 111.6,292.1 114.2,289.9 116.7,288.2 119.2,287.3 121.8,287.0 124.3,287.5 126.9,287.6 129.4,287.4 132.0,287.5 134.6,287.2 137.1,287.6 139.6,288.0 142.2,287.7 144.8,287.4 147.3,286.8 149.8,285.8 152.4,284.8 154.9,284.8 157.5,285.2 160.1,285.1 162.6,284.6 165.1,284.0 167.7,283.6 170.2,283.3 172.8,282.4 175.3,281.6 177.9,278.7 180.4,276.2 183.0,273.6 185.5,271.5 188.1,269.3 190.6,267.2 193.2,266.2 195.8,265.2 198.3,264.5 200.8,264.0 203.4,264.1 205.9,264.6 208.5,264.5 211.0,263.9 213.6,264.5 216.1,264.8 218.7,264.5 221.2,264.8 223.8,265.5 226.3,265.5 228.9,266.4 231.4,266.8 234.0,266.3 236.5,265.1 239.1,263.6 241.6,262.2 244.2,261.7 246.8,261.4 249.3,260.7 251.8,259.2 254.4,259.4 256.9,259.7 259.5,260.3 262.0,260.5 264.6,260.2 267.1,259.5 269.7,259.1 272.2,258.1 274.8,256.9 277.4,256.0 279.9,255.8 282.4,255.2 285.0,256.4 287.5,257.3 290.1,259.0 292.6,259.5 295.2,259.1 297.8,259.2 300.3,258.5 302.9,258.1 305.4,258.2 307.9,259.3 310.5,261.0 313.0,262.8 315.6,263.8 318.1,264.9 320.7,264.6 323.2,264.5 325.8,264.1 328.3,262.1 330.9,261.2 333.4,260.9 336.0,260.1 338.5,259.3 341.1,259.6 343.6,260.1 346.2,257.9 348.8,256.4 351.3,256.4 353.8,257.7 356.4,258.1 358.9,258.7 361.5,259.0 364.0,259.7 366.6,261.9 369.1,262.8 371.7,263.3 374.2,265.1 376.8,266.2 379.3,266.5 381.9,266.6 384.4,268.4 387.0,269.5 389.5,271.8 392.1,273.0 394.6,274.4 397.2,275.1 399.8,276.8 402.3,278.7 404.8,279.8 407.4,281.6 409.9,281.5 412.5,282.0 415.0,284.4 417.6,285.6 420.1,287.4 422.7,286.9 425.2,288.1 427.8,288.6 430.3,289.4 432.9,290.5 435.4,291.7 438.0,292.3 440.5,293.3 443.1,293.8 445.6,294.2 448.2,295.3 450.8,297.0 453.3,298.3 455.8,298.8 458.4,298.3 460.9,297.3 463.5,298.3 466.0,298.4 468.6,296.7 471.1,296.4 473.7,296.2 476.2,296.6 478.8,297.4 481.3,297.5 483.9,297.8 486.4,298.4 489.0,299.4 491.5,299.2 494.1,298.6 496.6,297.9 499.2,298.5 501.7,299.9 504.3,300.9 506.8,300.2 509.4,297.5 511.9,295.3 514.5,293.0 517.0,291.1 519.6,290.8 522.1,288.8 524.7,288.6 527.2,286.9 529.8,285.6 532.3,284.2 534.9,282.6 537.5,281.3 540.0,280.4 542.5,279.0 545.1,277.2 547.6,275.3 550.2,273.8 552.8,271.9 555.3,271.3 557.8,270.9 560.4,270.2 563.0,269.1 565.5,267.4 568.0,268.6 570.6,270.0 573.1,271.1 575.7,271.6 578.2,271.0 580.8,270.0 583.3,267.8 585.9,266.1 588.4,264.4 591.0,262.7 593.5,262.2 596.1,262.7 598.6,262.4 601.2,262.3 603.8,262.6 606.3,261.5 608.8,260.9 611.4,260.3 613.9,259.7 616.5,259.5 619.0,259.2 621.6,258.3 624.1,256.2 626.7,254.7 629.2,253.4 631.8,253.0 634.3,252.8 636.9,251.8 639.4,251.0 642.0,250.1 644.5,249.9 647.1,250.0 649.6,249.3 652.2,250.1 654.8,251.1 657.3,251.9 659.8,253.0 662.4,254.0 664.9,255.3 667.5,256.6 670.0,257.8 672.6,257.2 675.1,257.3 677.7,257.8 680.2,258.7 682.8,258.0 685.3,257.8 687.9,257.7 690.4,256.5 693.0,256.2 695.5,256.2 698.1,255.9 700.6,255.8 703.2,257.2 705.8,258.5 708.3,259.5 710.8,260.0 713.4,260.3 715.9,262.1 718.5,263.6 721.0,263.3 723.6,261.7 726.1,261.6 728.7,262.1 731.2,262.9 733.8,264.4 736.3,266.4 738.9,267.6 741.4,267.6 744.0,268.4 746.5,269.4 749.1,269.6 751.6,269.6 754.2,270.0 756.8,271.0 759.3,272.8 761.8,273.3 764.4,273.9 766.9,274.0 769.5,275.5 772.0,276.1 774.6,278.6 777.1,280.7 779.7,281.7 782.2,280.9 784.8,281.6 787.3,281.8 789.9,280.6 792.4,280.4 795.0,280.0 797.5,279.7 800.1,279.6 802.6,279.1 805.2,279.2 807.8,279.8 810.3,281.4 812.8,284.6 815.4,287.9 817.9,289.1 820.5,292.0 823.0,294.6 825.6,296.6 828.1,297.7 830.7,298.4 833.2,300.8 835.8,302.6 838.3,303.3 840.9,303.9 843.4,305.5 846.0,306.9 848.5,307.9 851.1,308.8 853.6,309.0 856.2,309.3 858.8,310.4 861.3,312.2 863.8,313.4 866.4,315.5 868.9,317.6 871.5,320.1 874.0,321.8 876.6,321.9 879.1,322.7 881.7,323.2 884.2,324.8 886.8,325.8 889.3,325.7 891.9,325.2 894.4,325.3 897.0,324.7 899.5,324.6 902.1,325.2 904.6,326.1 907.2,326.8 909.7,327.1 912.3,327.3 914.8,327.9 917.4,328.6 919.9,329.4 922.5,329.1 925.0,328.5 927.6,328.6 930.1,328.0 932.7,327.2 935.2,324.9 937.8,324.0 940.3,323.2 942.9,321.8 945.4,320.1 948.0,318.4 950.5,316.4 953.1,315.6 955.6,315.2 958.2,315.6 960.7,315.5 963.3,314.3 965.8,312.9 968.4,310.4 970.9,307.1 973.5,304.3 976.0,302.0 978.6,299.3 981.1,298.4 983.7,296.5 986.2,293.7"/>
<polyline points="55.5,325.3 58.0,325.3 60.6,324.4 63.1,324.1 65.7,321.2 68.2,316.8 70.8,315.8 73.3,314.6 75.9,314.0 78.5,313.3 81.0,313.2 83.5,313.4 86.1,314.1 88.7,312.7 91.2,311.6 93.8,310.5 96.3,309.7 98.8,309.3 101.4,310.4 103.9,308.6 106.5,306.5 109.0,305.7 111.6,304.8 114.2,304.5 116.7,303.8 119.2,302.8 121.8,300.2 124.3,297.3 126.9,293.9 129.4,290.5 132.0,288.1 134.6,285.8 137.1,282.9 139.6,281.8 142.2,280.9 144.8,280.6 147.3,280.0 149.8,280.0 152.4,280.2 154.9,280.2 157.5,279.9 160.1,279.7 162.6,279.2 165.1,280.3 167.7,281.2 170.2,280.6 172.8,278.7 175.3,279.0 177.9,278.9 180.4,278.8 183.0,278.0 185.5,276.7 188.1,274.8 190.6,274.3 193.2,273.9 195.8,273.8 198.3,272.0 200.8,272.2 203.4,273.9 205.9,273.8 208.5,273.5 211.0,272.2 213.6,270.9 216.1,268.8 218.7,266.8 221.2,264.4 223.8,260.0 226.3,255.1 228.9,251.8 231.4,247.7 234.0,245.4 236.5,244.4 239.1,243.7 241.6,243.9 244.2,243.4 246.8,242.8 249.3,242.8 251.8,242.8 254.4,242.3 256.9,240.6 259.5,239.5 262.0,238.2 264.6,237.3 267.1,237.0 269.7,237.4 272.2,238.8 274.8,239.9 277.4,242.3 279.9,244.6 282.4,246.9 285.0,249.4 287.5,251.3 290.1,253.5 292.6,256.0 295.2,256.9 297.8,258.2 300.3,259.4 302.9,261.0 305.4,264.6 307.9,267.9 310.5,269.7 313.0,270.6 315.6,271.5 318.1,271.7 320.7,272.9 323.2,274.4 325.8,275.8 328.3,275.6 330.9,275.7 333.4,276.0 336.0,276.6 338.5,279.3 341.1,281.9 343.6,283.7 346.2,286.4 348.8,289.4 351.3,291.3 353.8,293.1 356.4,293.8 358.9,294.0 361.5,293.2 364.0,294.3 366.6,295.1 369.1,294.7 371.7,295.1 374.2,295.3 376.8,294.8 379.3,295.1 381.9,295.6 384.4,295.5 387.0,295.7 389.5,294.3 392.1,293.7 394.6,291.8 397.2,291.1 399.8,291.1 402.3,291.3 404.8,291.1 407.4,290.9 409.9,290.7 412.5,291.6 415.0,292.9 417.6,293.2 420.1,292.6 422.7,294.6 425.2,295.3 427.8,295.9 430.3,295.6 432.9,293.5 435.4,293.9 438.0,294.4 440.5,296.6 443.1,297.6 445.6,299.6 448.2,303.1 450.8,304.9 453.3,305.7 455.8,306.2 458.4,307.8 460.9,307.5 463.5,306.8 466.0,308.0 468.6,310.2 471.1,310.1 473.7,310.4 476.2,311.3 478.8,312.9 481.3,313.8 483.9,315.7 486.4,317.7 489.0,319.6 491.5,319.2 494.1,318.8 496.6,318.8 499.2,318.1 501.7,316.9 504.3,315.6 506.8,312.9 509.4,311.9 511.9,309.7 514.5,309.8 517.0,310.4 519.6,308.9 522.1,306.1 524.7,304.6 527.2,303.0 529.8,300.1 532.3,297.9 534.9,298.0 537.5,297.6 540.0,297.7 542.5,298.6 545.1,299.4 547.6,298.2 550.2,297.5 552.8,297.1 555.3,297.3 557.8,296.2 560.4,294.9 563.0,293.8 565.5,292.5 568.0,292.2 570.6,293.5 573.1,293.9 575.7,294.5 578.2,295.2 580.8,296.6 583.3,297.7 585.9,298.8 588.4,299.8 591.0,301.1 593.5,301.3 596.1,300.7 598.6,301.2 601.2,302.4 603.8,303.2 606.3,302.7 608.8,301.6 611.4,300.8 613.9,301.1 616.5,300.8 619.0,301.2 621.6,300.7 624.1,300.4 626.7,300.4 629.2,300.1 631.8,299.9 634.3,300.3 636.9,299.2 639.4,300.5 642.0,300.5 644.5,300.9 647.1,300.8 649.6,301.1 652.2,301.7 654.8,302.2 657.3,304.5 659.8,305.1 662.4,307.2 664.9,308.6 667.5,309.8 670.0,311.1 672.6,311.1 675.1,310.9 677.7,310.5 680.2,308.9 682.8,307.3 685.3,305.9 687.9,303.4 690.4,301.7 693.0,301.2 695.5,301.4 698.1,299.7 700.6,298.7 703.2,297.4 705.8,298.0 708.3,299.3 710.8,300.9 713.4,301.8 715.9,303.9 718.5,304.5 721.0,306.1 723.6,307.4 726.1,310.8 728.7,313.8 731.2,314.4 733.8,314.5 736.3,315.8 738.9,314.9 741.4,316.8 744.0,318.3 746.5,321.5 749.1,322.5 751.6,323.5 754.2,326.0 756.8,329.1 759.3,330.2 761.8,332.3 764.4,334.0 766.9,334.5 769.5,333.5 772.0,332.7 774.6,331.6 777.1,330.2 779.7,329.0 782.2,328.0 784.8,326.2 787.3,323.3 789.9,321.0 792.4,319.0 795.0,317.8 797.5,315.4 800.1,314.0 802.6,312.9 805.2,312.7 807.8,313.7 810.3,315.8 812.8,317.5 815.4,318.3 817.9,319.0 820.5,318.9 823.0,317.1 825.6,315.8 828.1,314.0 830.7,312.3 833.2,312.5 835.8,312.3 838.3,313.8 840.9,314.6 843.4,314.0 846.0,313.1 848.5,313.0 851.1,313.0 853.6,313.1 856.2,313.6 858.8,311.7 861.3,307.9 863.8,306.1 866.4,305.0 868.9,305.3 871.5,305.7 874.0,306.6 876.6,307.4 879.1,308.4 881.7,309.2 884.2,309.8 886.8,311.2 889.3,312.1 891.9,310.9 894.4,310.2 897.0,310.0 899.5,308.0 902.1,307.3 904.6,305.4 907.2,303.7 909.7,303.3 912.3,304.3 914.8,305.7 917.4,306.2 919.9,308.0 922.5,310.5 925.0,312.1 927.6,313.2 930.1,314.6 932.7,316.3 935.2,316.6 937.8,317.0 940.3,319.2 942.9,320.1 945.4,321.1 948.0,321.9 950.5,321.0 953.1,319.9 955.6,319.4 958.2,317.6 960.7,315.6 963.3,314.3 965.8,314.6 968.4,313.4 970.9,312.8 973.5,313.8 976.0,314.4 978.6,313.3 981.1,313.0 983.7,312.5 986.2,310.5"/>
<polyline points="55.5,324.5 58.0,323.2 60.6,321.8 63.1,321.6 65.7,321.8 68.2,323.4 70.8,323.1 73.3,321.7 75.9,319.2 78.5,316.6 81.0,315.0 83.5,312.1 86.1,310.9 88.7,312.1 91.2,313.0 93.8,313.9 96.3,316.3 98.8,317.0 101.4,314.4 103.9,310.7 106.5,309.3 109.0,309.6 111.6,307.7 114.2,307.2 116.7,308.5 119.2,307.8 121.8,306.6 124.3,306.4 126.9,305.4 129.4,303.5 132.0,299.5 134.6,297.9 137.1,295.1 139.6,292.1 142.2,288.7 144.8,285.3 147.3,282.9 149.8,279.2 152.4,277.6 154.9,276.5 157.5,274.8 160.1,275.4 162.6,276.2 165.1,275.5 167.7,274.4 170.2,274.4 172.8,275.2 175.3,275.1 177.9,276.9 180.4,276.4 183.0,277.0 185.5,276.3 188.1,274.4 190.6,275.0 193.2,274.9 195.8,274.7 198.3,273.5 200.8,272.9 203.4,273.3 205.9,275.4 208.5,275.4 211.0,275.2 213.6,276.2 216.1,279.2 218.7,280.6 221.2,282.1 223.8,281.0 226.3,281.4 228.9,281.2 231.4,280.1 234.0,280.0 236.5,280.9 239.1,282.4 241.6,285.1 244.2,287.2 246.8,285.8 249.3,285.5 251.8,286.9 254.4,288.7 256.9,289.3 259.5,289.5 262.0,288.3 264.6,286.7 267.1,284.4 269.7,279.9 272.2,276.9 274.8,274.0 277.4,270.4 279.9,267.2 282.4,266.2 285.0,265.8 287.5,265.2 290.1,264.9 292.6,263.3 295.2,262.2 297.8,259.5 300.3,258.4 302.9,259.3 305.4,260.1 307.9,257.4 310.5,256.0 313.0,253.4 315.6,251.9 318.1,255.3 320.7,258.6 323.2,262.1 325.8,265.6 328.3,268.7 330.9,273.3 333.4,275.6 336.0,276.6 338.5,277.3 341.1,276.8 343.6,277.1 346.2,277.2 348.8,275.8 351.3,275.1 353.8,275.3 356.4,274.5 358.9,273.0 361.5,271.8 364.0,270.6 366.6,269.3 369.1,266.7 371.7,266.7 374.2,268.5 376.8,270.2 379.3,274.5 381.9,277.9 384.4,279.4 387.0,280.1 389.5,280.4 392.1,281.4 394.6,281.7 397.2,281.8 399.8,281.4 402.3,281.1 404.8,281.6 407.4,282.8 409.9,282.5 412.5,279.6 415.0,276.2 417.6,272.8 420.1,269.1 422.7,270.5 425.2,271.8 427.8,272.6 430.3,274.0 432.9,275.0 435.4,275.8 438.0,276.6 440.5,277.3 443.1,277.0 445.6,277.0 448.2,276.4 450.8,276.2 453.3,275.6 455.8,276.2 458.4,277.5 460.9,276.2 463.5,274.8 466.0,273.4 468.6,273.3 471.1,272.4 473.7,272.6 476.2,273.9 478.8,276.5 481.3,275.6 483.9,275.4 486.4,274.7 489.0,274.0 491.5,273.3 494.1,272.0 496.6,273.5 499.2,275.5 501.7,278.2 504.3,279.1 506.8,279.9 509.4,280.3 511.9,279.8 514.5,279.0 517.0,276.9 519.6,277.3 522.1,274.6 524.7,273.7 527.2,273.4 529.8,273.2 532.3,272.7 534.9,270.7 537.5,268.9 540.0,267.6 542.5,266.6 545.1,267.0 547.6,268.0 550.2,270.2 552.8,270.4 555.3,272.5 557.8,274.1 560.4,276.4 563.0,278.7 565.5,282.6 568.0,285.3 570.6,289.0 573.1,291.0 575.7,293.9 578.2,294.4 580.8,293.3 583.3,289.6 585.9,287.3 588.4,285.9 591.0,284.9 593.5,284.3 596.1,283.1 598.6,282.2 601.2,282.3 603.8,282.5 606.3,282.2 608.8,282.2 611.4,283.1 613.9,282.3 616.5,283.1 619.0,284.6 621.6,285.4 624.1,284.2 626.7,281.3 629.2,279.4 631.8,277.6 634.3,277.5 636.9,276.0 639.4,274.9 642.0,273.6 644.5,272.8 647.1,272.2 649.6,270.4 652.2,272.2 654.8,275.4 657.3,279.6 659.8,283.0 662.4,286.3 664.9,290.1 667.5,291.5 670.0,293.5 672.6,294.8 675.1,295.5 677.7,296.3 680.2,295.4 682.8,294.9 685.3,294.2 687.9,294.6 690.4,295.1 693.0,295.1 695.5,294.8 698.1,294.7 700.6,295.6 703.2,293.9 705.8,294.5 708.3,295.2 710.8,296.1 713.4,297.4 715.9,297.7 718.5,297.5 721.0,296.9 723.6,296.4 726.1,296.6 728.7,299.1 731.2,302.3 733.8,304.0 736.3,306.5 738.9,308.7 741.4,311.9 744.0,315.8 746.5,316.3 749.1,317.5 751.6,319.1 754.2,318.6 756.8,317.9 759.3,318.4 761.8,319.6 764.4,317.7 766.9,316.6 769.5,316.6 772.0,318.3 774.6,319.0 777.1,320.6 779.7,320.8 782.2,321.8 784.8,321.6 787.3,322.0 789.9,321.6 792.4,322.0 795.0,322.7 797.5,325.2 800.1,326.6 802.6,329.8 805.2,334.0 807.8,335.6 810.3,338.1 812.8,340.0 815.4,342.1 817.9,342.5 820.5,345.5 823.0,345.4 825.6,344.4 828.1,342.2 830.7,339.6 833.2,339.4 835.8,339.3 838.3,340.0 840.9,342.1 843.4,343.5 846.0,344.7 848.5,345.0 851.1,343.9 853.6,342.5 856.2,340.7 858.8,337.6 861.3,334.7 863.8,333.4 866.4,332.9 868.9,333.6 871.5,333.6 874.0,331.1 876.6,330.0 879.1,329.5 881.7,328.9 884.2,328.1 886.8,329.0 889.3,331.9 891.9,334.8 894.4,334.8 897.0,335.9 899.5,337.9 902.1,341.6 904.6,344.7 907.2,346.8 909.7,348.7 912.3,351.4 914.8,352.4 917.4,353.7 919.9,352.8 922.5,349.6 925.0,348.8 927.6,347.5 930.1,347.3 932.7,344.8 935.2,342.0 937.8,341.5 940.3,340.5 942.9,340.0 945.4,339.3 948.0,338.9 950.5,337.6 953.1,335.4 955.6,332.5 958.2,331.4 960.7,331.1 963.3,328.4 965.8,326.2 968.4,324.5 970.9,322.9 973.5,322.0 976.0,320.8 978.6,320.1 981.1,318.4 983.7,315.5 986.2,314.1"/>
<polyline points="55.5,331.2 58.0,330.4 60.6,327.9 63.1,327.7 65.7,327.6 68.2,327.1 70.8,326.0 73.3,323.2 75.9,320.6 78.5,318.0 81.0,317.0 83.5,315.6 86.1,316.0 88.7,316.2 91.2,312.6 93.8,308.8 96.3,306.4 98.8,305.0 101.4,302.1 103.9,300.8 106.5,301.3 109.0,299.7 111.6,298.4 114.2,298.5 116.7,300.1 119.2,303.0 121.8,303.3 124.3,302.5 126.9,302.2 129.4,301.1 132.0,301.4 134.6,303.5 137.1,305.7 139.6,308.2 142.2,307.5 144.8,307.8 147.3,308.3 149.8,307.0 152.4,304.9 154.9,303.9 157.5,303.0 160.1,301.2 162.6,300.0 165.1,299.1 167.7,297.7 170.2,298.0 172.8,299.9 175.3,300.5 177.9,298.3 180.4,296.7 183.0,296.1 185.5,294.3 188.1,290.5 190.6,285.2 193.2,282.3 195.8,279.7 198.3,277.2 200.8,274.9 203.4,273.3 205.9,274.5 208.5,275.3 211.0,276.7 213.6,279.0 216.1,284.1 218.7,288.6 221.2,293.0 223.8,293.0 226.3,291.9 228.9,288.1 231.4,284.6 234.0,280.7 236.5,277.2 239.1,274.8 241.6,272.1 244.2,271.0 246.8,270.3 249.3,269.4 251.8,269.7 254.4,269.3 256.9,267.5 259.5,268.2 262.0,270.4 264.6,268.2 267.1,266.3 269.7,263.2 272.2,260.4 274.8,258.7 277.4,259.0 279.9,256.6 282.4,256.5 285.0,256.2 287.5,256.9 290.1,256.5 292.6,255.9 295.2,255.4 297.8,256.1 300.3,258.8 302.9,260.1 305.4,262.3 307.9,262.4 310.5,261.9 313.0,262.1 315.6,261.3 318.1,259.6 320.7,259.3 323.2,260.1 325.8,261.2 328.3,264.5 330.9,267.0 333.4,268.0 336.0,267.7 338.5,266.6 341.1,266.4 343.6,266.0 346.2,264.8 348.8,263.1 351.3,263.7 353.8,264.5 356.4,264.6 358.9,264.5 361.5,265.5 364.0,267.7 366.6,269.4 369.1,272.0 371.7,275.2 374.2,276.9 376.8,278.9 379.3,282.0 381.9,283.0 384.4,281.9 387.0,281.4 389.5,281.6 392.1,284.4 394.6,285.2 397.2,286.2 399.8,286.8 402.3,290.2 404.8,292.7 407.4,294.2 409.9,295.6 412.5,296.0 415.0,293.6 417.6,292.0 420.1,290.5 422.7,288.6 425.2,286.1 427.8,287.2 430.3,289.5 432.9,291.3 435.4,293.0 438.0,297.3 440.5,301.0 443.1,302.7 445.6,303.4 448.2,302.7 450.8,302.4 453.3,302.2 455.8,300.9 458.4,300.3 460.9,299.4 463.5,299.0 466.0,299.9 468.6,301.1 471.1,301.9 473.7,302.4 476.2,301.7 478.8,302.2 481.3,300.8 483.9,299.2 486.4,299.2 489.0,298.9 491.5,299.8 494.1,302.1 496.6,305.1 499.2,308.4 501.7,310.9 504.3,311.6 506.8,311.7 509.4,310.9 511.9,310.1 514.5,309.8 517.0,311.8 519.6,310.8 522.1,310.0 524.7,311.5 527.2,310.9 529.8,311.4 532.3,313.1 534.9,315.2 537.5,314.8 540.0,314.4 542.5,314.4 545.1,314.9 547.6,314.8 550.2,314.6 552.8,312.8 555.3,311.2 557.8,309.8 560.4,308.5 563.0,307.4 565.5,307.8 568.0,308.0 570.6,310.0 573.1,312.4 575.7,314.9 578.2,314.9 580.8,313.3 583.3,312.6 585.9,311.1 588.4,309.1 591.0,309.6 593.5,310.2 596.1,311.4 598.6,311.0 601.2,312.2 603.8,312.8 606.3,314.5 608.8,314.8 611.4,313.4 613.9,310.6 616.5,306.4 619.0,302.7 621.6,301.4 624.1,298.5 626.7,297.0 629.2,295.2 631.8,294.6 634.3,292.3 636.9,289.5 639.4,288.0 642.0,285.5 644.5,284.1 647.1,282.8 649.6,281.9 652.2,282.7 654.8,282.9 657.3,282.3 659.8,280.4 662.4,281.7 664.9,283.0 667.5,283.7 670.0,286.6 672.6,286.2 675.1,285.7 677.7,286.2 680.2,286.7 682.8,286.4 685.3,287.2 687.9,286.6 690.4,286.8 693.0,287.8 695.5,289.7 698.1,292.8 700.6,295.6 703.2,298.5 705.8,301.7 708.3,303.7 710.8,304.3 713.4,303.8 715.9,303.7 718.5,303.3 721.0,301.6 723.6,302.0 726.1,302.6 728.7,302.3 731.2,302.5 733.8,302.7 736.3,303.0 738.9,301.3 741.4,299.4 744.0,299.5 746.5,302.5 749.1,304.8 751.6,307.3 754.2,308.4 756.8,310.1 759.3,310.8 761.8,313.3 764.4,314.9 766.9,316.0 769.5,316.5 772.0,319.9 774.6,321.6 777.1,322.1 779.7,321.8 782.2,322.0 784.8,319.3 787.3,317.2 789.9,315.9 792.4,318.4 795.0,318.8 797.5,317.9 800.1,317.3 802.6,316.6 805.2,315.0 807.8,314.9 810.3,315.3 812.8,314.5 815.4,316.4 817.9,318.5 820.5,322.5 823.0,325.2 825.6,325.6 828.1,326.8 830.7,327.4 833.2,330.3 835.8,334.3 838.3,338.5 840.9,341.3 843.4,341.3 846.0,341.6 848.5,343.9 851.1,344.5 853.6,344.1 856.2,343.6 858.8,344.7 861.3,343.8 863.8,341.4 866.4,338.1 868.9,335.6 871.5,333.2 874.0,332.0 876.6,331.9 879.1,331.2 881.7,333.0 884.2,334.3 886.8,334.9 889.3,335.3 891.9,333.9 894.4,331.4 897.0,328.3 899.5,325.0 902.1,321.9 904.6,319.9 907.2,318.8 909.7,319.6 912.3,319.1 914.8,318.1 917.4,317.4 919.9,315.4 922.5,314.4 925.0,313.2 927.6,311.6 930.1,311.5 932.7,311.3 935.2,311.6 937.8,311.2 940.3,311.4 942.9,311.6 945.4,310.0 948.0,305.4 950.5,299.9 953.1,294.6 955.6,292.0 958.2,290.1 960.7,287.2 963.3,285.2 965.8,284.8 968.4,283.3 970.9,282.9 973.5,281.6 976.0,281.6 978.6,279.9 981.1,278.1 983.7,276.6 986.2,276.5"/>
<polyline points="55.5,335.0 58.0,331.1 60.6,328.0 63.1,325.6 65.7,324.3 68.2,322.5 70.8,319.8 73.3,317.4 75.9,314.7 78.5,315.2 81.0,315.8 83.5,316.6 86.1,319.1 88.7,318.5 91.2,318.4 93.8,316.4 96.3,315.7 98.8,312.3 101.4,310.1 103.9,308.6 106.5,308.1 109.0,307.8 111.6,307.5 114.2,306.2 116.7,303.2 119.2,300.2 121.8,296.7 124.3,295.2 126.9,294.5 129.4,292.9 132.0,290.1 134.6,290.2 137.1,289.9 139.6,288.9 142.2,286.1 144.8,285.2 147.3,284.3 149.8,284.7 152.4,284.1 154.9,283.9 157.5,285.7 160.1,285.5 162.6,287.2 165.1,290.3 167.7,290.6 170.2,291.1 172.8,291.1 175.3,292.3 177.9,293.0 180.4,290.3 183.0,286.3 185.5,281.3 188.1,279.8 190.6,277.3 193.2,276.6 195.8,276.6 198.3,275.1 200.8,274.8 203.4,277.0 205.9,276.3 208.5,275.2 211.0,273.0 213.6,269.6 216.1,266.5 218.7,264.2 221.2,264.2 223.8,266.0 226.3,266.1 228.9,267.7 231.4,267.2 234.0,267.9 236.5,265.6 239.1,264.6 241.6,263.3 244.2,264.4 246.8,264.4 249.3,264.6 251.8,267.0 254.4,271.0 256.9,274.5 259.5,276.2 262.0,277.0 264.6,276.6 267.1,275.7 269.7,273.3 272.2,272.1 274.8,272.4 277.4,273.1 279.9,273.6 282.4,276.4 285.0,279.1 287.5,280.1 290.1,279.6 292.6,281.2 295.2,278.8 297.8,278.3 300.3,277.3 302.9,278.6 305.4,280.1 307.9,282.5 310.5,283.5 313.0,284.5 315.6,285.2 318.1,287.8 320.7,288.1 323.2,288.0 325.8,286.7 328.3,283.7 330.9,281.6 333.4,280.2 336.0,280.7 338.5,283.3 341.1,284.5 343.6,288.0 346.2,289.9 348.8,292.2 351.3,296.5 353.8,301.2 356.4,303.8 358.9,306.6 361.5,308.6 364.0,310.4 366.6,309.4 369.1,308.3 371.7,305.3 374.2,303.7 376.8,303.5 379.3,305.6 381.9,306.0 384.4,304.8 387.0,305.0 389.5,303.8 392.1,301.9 394.6,301.2 397.2,300.4 399.8,299.7 402.3,296.6 404.8,294.8 407.4,294.2 409.9,293.8 412.5,293.9 415.0,291.8 417.6,292.0 420.1,292.1 422.7,291.4 425.2,291.1 427.8,291.5 430.3,289.1 432.9,289.8 435.4,292.6 438.0,297.3 440.5,301.0 443.1,305.2 445.6,307.5 448.2,309.8 450.8,311.9 453.3,313.1 455.8,315.1 458.4,317.3 460.9,317.0 463.5,317.8 466.0,319.9 468.6,321.1 471.1,326.1 473.7,329.7 476.2,330.3 478.8,330.7 481.3,331.4 483.9,331.3 486.4,328.2 489.0,328.1 491.5,329.6 494.1,331.1 496.6,329.9 499.2,328.7 501.7,326.1 504.3,324.3 506.8,321.1 509.4,318.8 511.9,317.0 514.5,315.5 517.0,314.3 519.6,312.1 522.1,311.3 524.7,308.7 527.2,306.7 529.8,306.8 532.3,306.2 534.9,304.2 537.5,303.4 540.0,303.3 542.5,303.0 545.1,304.5 547.6,307.1 550.2,308.1 552.8,308.4 555.3,306.7 557.8,306.6 560.4,305.3 563.0,303.6 565.5,303.6 568.0,302.3 570.6,300.5 573.1,299.7 575.7,297.7 578.2,297.6 580.8,296.0 583.3,294.2 585.9,295.2 588.4,296.0 591.0,294.9 593.5,293.9 596.1,291.9 598.6,291.8 601.2,291.7 603.8,292.6 606.3,292.6 608.8,292.7 611.4,291.0 613.9,290.6 616.5,290.1 619.0,291.3 621.6,290.4 624.1,288.9 626.7,290.8 629.2,291.5 631.8,292.4 634.3,289.3 636.9,286.7 639.4,283.8 642.0,281.5 644.5,280.4 647.1,277.7 649.6,275.7 652.2,274.6 654.8,276.4 657.3,276.5 659.8,277.5 662.4,279.2 664.9,282.1 667.5,285.7 670.0,288.1 672.6,291.3 675.1,292.2 677.7,294.3 680.2,296.5 682.8,296.0 685.3,296.8 687.9,294.0 690.4,291.5 693.0,291.9 695.5,290.2 698.1,288.9 700.6,288.6 703.2,286.8 705.8,285.6 708.3,286.4 710.8,286.5 713.4,285.1 715.9,286.3 718.5,286.6 721.0,286.5 723.6,285.3 726.1,285.1 728.7,285.4 731.2,284.3 733.8,284.4 736.3,282.2 738.9,280.8 741.4,278.5 744.0,277.9 746.5,279.3 749.1,282.0 751.6,284.6 754.2,289.5 756.8,293.5 759.3,298.1 761.8,301.7 764.4,302.3 766.9,304.0 769.5,305.5 772.0,307.6 774.6,309.6 777.1,311.8 779.7,316.3 782.2,317.8 784.8,321.0 787.3,324.6 789.9,326.2 792.4,328.9 795.0,331.5 797.5,333.5 800.1,337.8 802.6,342.0 805.2,344.3 807.8,347.7 810.3,350.5 812.8,352.6 815.4,353.6 817.9,355.5 820.5,359.7 823.0,366.3 825.6,367.9 828.1,370.1 830.7,372.4 833.2,371.8 835.8,371.6 838.3,372.8 840.9,373.4 843.4,373.6 846.0,373.2 848.5,373.5 851.1,373.3 853.6,372.7 856.2,372.0 858.8,370.9 861.3,367.7 863.8,365.1 866.4,364.1 868.9,364.1 871.5,365.2 874.0,367.1 876.6,369.8 879.1,370.0 881.7,368.6 884.2,370.1 886.8,368.9 889.3,369.6 891.9,370.5 894.4,371.3 897.0,373.7 899.5,375.8 902.1,377.0 904.6,376.4 907.2,374.2 909.7,372.1 912.3,372.6 914.8,372.3 917.4,371.1 919.9,369.7 922.5,365.1 925.0,360.5 927.6,358.6 930.1,356.3 932.7,352.8 935.2,349.8 937.8,346.6 940.3,344.4 942.9,341.8 945.4,341.3 948.0,341.4 950.5,341.3 953.1,338.4 955.6,335.3 958.2,331.7 960.7,327.9 963.3,325.3 965.8,326.7 968.4,326.6 970.9,328.9 973.5,327.9 976.0,325.5 978.6,322.6 981.1,319.3 983.7,313.8 986.2,310.3"/>
<polyline points="55.5,370.0 58.0,367.0 60.6,365.4 63.1,363.9 65.7,362.4 68.2,360.1 70.8,359.1 73.3,359.2 75.9,358.3 78.5,357.5 81.0,357.2 83.5,356.3 86.1,353.5 88.7,350.1 91.2,348.3 93.8,347.7 96.3,348.0 98.8,348.3 101.4,348.0 103.9,345.5 106.5,343.6 109.0,341.9 111.6,341.1 114.2,340.4 116.7,339.3 119.2,336.5 121.8,334.5 124.3,332.4 126.9,329.6 129.4,328.0 132.0,326.9 134.6,325.3 137.1,323.5 139.6,321.5 142.2,317.5 144.8,312.9 147.3,310.4 149.8,308.9 152.4,308.1 154.9,308.1 157.5,308.8 160.1,306.7 162.6,303.6 165.1,301.8 167.7,298.4 170.2,296.5 172.8,293.6 175.3,293.0 177.9,293.2 180.4,293.5 183.0,292.1 185.5,291.5 188.1,290.1 190.6,290.0 193.2,288.8 195.8,288.6 198.3,288.2 200.8,286.9 203.4,286.0 205.9,285.0 208.5,285.3 211.0,286.3 213.6,285.7 216.1,285.9 218.7,284.8 221.2,284.6 223.8,285.9 226.3,285.0 228.9,283.4 231.4,283.2 234.0,285.4 236.5,285.2 239.1,284.6 241.6,285.6 244.2,285.9 246.8,286.6 249.3,286.5 251.8,288.3 254.4,288.9 256.9,287.0 259.5,286.1 262.0,287.1 264.6,287.3 267.1,288.7 269.7,290.1 272.2,291.0 274.8,291.4 277.4,291.8 279.9,291.0 282.4,290.6 285.0,290.9 287.5,291.4 290.1,292.6 292.6,294.1 295.2,292.2 297.8,291.3 300.3,291.1 302.9,290.9 305.4,292.7 307.9,292.4 310.5,293.9 313.0,294.5 315.6,294.7 318.1,295.0 320.7,295.2 323.2,295.3 325.8,295.0 328.3,294.6 330.9,296.2 333.4,297.1 336.0,297.3 338.5,297.8 341.1,298.2 343.6,299.4 346.2,299.8 348.8,299.4 351.3,299.1 353.8,299.8 356.4,300.1 358.9,301.2 361.5,303.5 364.0,304.7 366.6,305.6 369.1,305.5 371.7,305.8 374.2,306.9 376.8,308.9 379.3,310.6 381.9,312.6 384.4,315.6 387.0,317.4 389.5,316.5 392.1,317.0 394.6,319.1 397.2,321.6 399.8,323.6 402.3,325.6 404.8,326.8 407.4,326.5 409.9,325.7 412.5,325.5 415.0,325.4 417.6,325.7 420.1,324.7 422.7,325.3 425.2,325.7 427.8,327.5 430.3,328.8 432.9,329.4 435.4,331.3 438.0,334.2 440.5,337.7 443.1,341.0 445.6,344.7 448.2,348.0 450.8,351.7 453.3,355.6 455.8,358.7 458.4,360.0 460.9,360.5 463.5,359.4 466.0,359.6 468.6,359.1 471.1,358.5 473.7,357.4 476.2,355.2 478.8,354.4 481.3,353.3 483.9,353.0 486.4,353.1 489.0,353.0 491.5,352.5 494.1,352.3 496.6,351.7 499.2,352.1 501.7,352.4 504.3,351.2 506.8,350.9 509.4,352.2 511.9,354.5 514.5,355.6 517.0,358.5 519.6,359.7 522.1,359.6 524.7,358.8 527.2,358.5 529.8,357.3 532.3,354.6 534.9,353.0 537.5,354.3 540.0,358.3 542.5,360.2 545.1,360.1 547.6,359.8 550.2,359.2 552.8,358.5 555.3,357.2 557.8,355.0 560.4,353.5 563.0,351.8 565.5,351.1 568.0,351.1 570.6,350.9 573.1,351.8 575.7,351.5 578.2,350.1 580.8,347.1 583.3,342.6 585.9,338.9 588.4,336.2 591.0,334.2 593.5,334.3 596.1,335.0 598.6,335.3 601.2,335.5 603.8,336.2 606.3,335.2 608.8,335.7 611.4,336.6 613.9,337.0 616.5,338.3 619.0,337.8 621.6,337.7 624.1,337.3 626.7,335.7 629.2,333.8 631.8,334.0 634.3,333.4 636.9,332.2 639.4,330.7 642.0,329.6 644.5,330.2 647.1,331.1 649.6,332.1 652.2,334.3 654.8,334.7 657.3,333.6 659.8,332.2 662.4,333.0 664.9,332.1 667.5,330.9 670.0,329.4 672.6,329.0 675.1,329.5 677.7,332.0 680.2,333.6 682.8,333.4 685.3,334.0 687.9,334.6 690.4,334.2 693.0,333.7 695.5,334.7 698.1,335.4 700.6,337.2 703.2,339.5 705.8,342.3 708.3,345.5 710.8,348.7 713.4,351.6 715.9,354.8 718.5,356.9 721.0,357.7 723.6,359.2 726.1,360.9 728.7,362.0 731.2,363.1 733.8,364.4 736.3,365.9 738.9,367.2 741.4,368.9 744.0,369.7 746.5,373.1 749.1,375.3 751.6,376.6 754.2,377.6 756.8,378.1 759.3,379.4 761.8,379.8 764.4,379.4 766.9,381.9 769.5,383.9 772.0,386.5 774.6,387.6 777.1,388.3 779.7,387.1 782.2,386.6 784.8,387.3 787.3,388.0 789.9,388.4 792.4,389.5 795.0,389.7 797.5,390.2 800.1,391.4 802.6,392.5 805.2,391.9 807.8,391.5 810.3,392.0 812.8,393.1 815.4,393.7 817.9,394.4 820.5,393.6 823.0,393.1 825.6,392.9 828.1,393.5 830.7,395.8 833.2,398.4 835.8,401.0 838.3,403.5 840.9,406.1 843.4,408.3 846.0,410.1 848.5,411.8 851.1,414.0 853.6,416.2 856.2,416.5 858.8,415.5 861.3,414.9 863.8,414.6 866.4,413.4 868.9,411.7 871.5,409.1 874.0,407.2 876.6,406.6 879.1,405.9 881.7,407.2 884.2,407.3 886.8,408.7 889.3,410.7 891.9,411.9 894.4,412.0 897.0,413.3 899.5,414.9 902.1,415.2 904.6,416.0 907.2,416.6 909.7,415.4 912.3,415.0 914.8,415.8 917.4,417.4 919.9,416.9 922.5,417.9 925.0,418.8 927.6,417.3 930.1,416.2 932.7,415.1 935.2,415.9 937.8,417.9 940.3,417.7 942.9,415.4 945.4,414.1 948.0,412.9 950.5,411.5 953.1,409.6 955.6,408.6 958.2,408.7 960.7,407.5 963.3,406.4 965.8,405.8 968.4,403.6 970.9,400.3 973.5,398.8 976.0,397.5 978.6,396.4 981.1,396.3 983.7,397.6 986.2,398.5"/>
<polyline points="55.5,365.1 58.0,364.6 60.6,361.8 63.1,358.8 65.7,354.8 68.2,353.0 70.8,351.8 73.3,350.4 75.9,351.1 78.5,350.6 81.0,352.4 83.5,354.9 86.1,356.1 88.7,355.4 91.2,354.0 93.8,352.4 96.3,348.5 98.8,344.3 101.4,341.9 103.9,338.9 106.5,335.5 109.0,333.1 111.6,332.2 114.2,331.8 116.7,330.5 119.2,329.0 121.8,327.5 124.3,325.4 126.9,323.0 129.4,321.3 132.0,319.6 134.6,320.0 137.1,320.2 139.6,319.4 142.2,319.9 144.8,320.7 147.3,320.9 149.8,320.7 152.4,318.7 154.9,316.9 157.5,315.5 160.1,313.4 162.6,313.9 165.1,314.9 167.7,314.4 170.2,312.0 172.8,307.9 175.3,304.5 177.9,301.5 180.4,299.1 183.0,296.8 185.5,294.5 188.1,290.0 190.6,288.7 193.2,286.0 195.8,283.3 198.3,279.5 200.8,277.3 203.4,277.8 205.9,279.8 208.5,282.7 211.0,286.9 213.6,289.6 216.1,291.1 218.7,293.6 221.2,296.8 223.8,300.4 226.3,301.4 228.9,301.5 231.4,302.6 234.0,305.7 236.5,306.3 239.1,306.0 241.6,306.3 244.2,306.7 246.8,308.4 249.3,308.7 251.8,309.7 254.4,308.0 256.9,310.1 259.5,310.6 262.0,311.3 264.6,314.5 267.1,315.6 269.7,318.2 272.2,322.5 274.8,324.6 277.4,325.9 279.9,326.7 282.4,327.2 285.0,326.8 287.5,327.5 290.1,327.9 292.6,328.8 295.2,330.0 297.8,330.3 300.3,331.7 302.9,333.2 305.4,332.5 307.9,331.2 310.5,329.3 313.0,326.4 315.6,325.4 318.1,325.7 320.7,324.2 323.2,322.9 325.8,323.8 328.3,324.0 330.9,324.6 333.4,325.4 336.0,327.7 338.5,329.0 341.1,329.1 343.6,328.5 346.2,327.7 348.8,327.4 351.3,327.2 353.8,327.7 356.4,329.0 358.9,329.7 361.5,329.7 364.0,330.6 366.6,332.1 369.1,334.4 371.7,336.1 374.2,338.9 376.8,342.2 379.3,344.9 381.9,345.4 384.4,344.4 387.0,343.9 389.5,344.6 392.1,344.6 394.6,343.7 397.2,343.3 399.8,342.7 402.3,342.2 404.8,343.9 407.4,344.7 409.9,343.3 412.5,343.3 415.0,343.5 417.6,344.3 420.1,346.6 422.7,348.5 425.2,349.3 427.8,351.5 430.3,353.1 432.9,354.9 435.4,356.3 438.0,357.3 440.5,358.3 443.1,360.5 445.6,362.1 448.2,362.5 450.8,363.8 453.3,363.9 455.8,362.1 458.4,361.1 460.9,359.0 463.5,356.8 466.0,357.3 468.6,359.2 471.1,360.8 473.7,361.6 476.2,361.5 478.8,361.3 481.3,360.4 483.9,359.5 486.4,359.3 489.0,360.8 491.5,362.3 494.1,361.6 496.6,361.3 499.2,360.4 501.7,359.5 504.3,358.0 506.8,357.1 509.4,356.6 511.9,358.6 514.5,361.1 517.0,365.0 519.6,367.2 522.1,368.6 524.7,369.3 527.2,369.1 529.8,367.0 532.3,364.9 534.9,361.9 537.5,357.4 540.0,356.8 542.5,355.2 545.1,353.4 547.6,351.5 550.2,350.9 552.8,350.3 555.3,348.3 557.8,346.4 560.4,342.7 563.0,341.3 565.5,339.7 568.0,338.5 570.6,338.6 573.1,340.7 575.7,343.8 578.2,344.4 580.8,345.1 583.3,344.0 585.9,342.4 588.4,340.5 591.0,339.3 593.5,341.0 596.1,343.1 598.6,342.1 601.2,338.8 603.8,339.0 606.3,338.3 608.8,339.8 611.4,341.5 613.9,340.1 616.5,338.4 619.0,335.5 621.6,333.8 624.1,331.3 626.7,330.1 629.2,328.1 631.8,326.9 634.3,329.0 636.9,330.9 639.4,332.4 642.0,332.8 644.5,335.3 647.1,336.2 649.6,336.1 652.2,335.2 654.8,335.3 657.3,334.5 659.8,333.2 662.4,332.0 664.9,330.5 667.5,332.4 670.0,333.8 672.6,334.7 675.1,333.5 677.7,330.9 680.2,330.3 682.8,328.6 685.3,328.5 687.9,328.9 690.4,331.0 693.0,332.9 695.5,332.6 698.1,334.0 700.6,336.3 703.2,336.7 705.8,335.7 708.3,336.0 710.8,335.4 713.4,336.4 715.9,337.3 718.5,338.0 721.0,337.4 723.6,337.7 726.1,338.3 728.7,338.0 731.2,336.7 733.8,337.8 736.3,338.9 738.9,341.4 741.4,344.4 744.0,346.0 746.5,347.8 749.1,353.6 751.6,358.2 754.2,365.2 756.8,370.7 759.3,375.0 761.8,376.9 764.4,379.3 766.9,383.3 769.5,385.0 772.0,386.4 774.6,390.3 777.1,392.2 779.7,392.9 782.2,392.8 784.8,392.3 787.3,391.5 789.9,390.2 792.4,388.7 795.0,389.8 797.5,392.1 800.1,393.7 802.6,395.2 805.2,395.6 807.8,395.6 810.3,397.5 812.8,398.9 815.4,399.8 817.9,400.4 820.5,401.7 823.0,400.9 825.6,399.8 828.1,399.8 830.7,398.6 833.2,397.6 835.8,395.9 838.3,395.4 840.9,396.6 843.4,396.5 846.0,397.2 848.5,398.0 851.1,398.3 853.6,399.4 856.2,396.7 858.8,395.2 861.3,392.8 863.8,393.3 866.4,393.6 868.9,390.9 871.5,387.5 874.0,383.9 876.6,382.0 879.1,380.9 881.7,379.3 884.2,379.7 886.8,380.4 889.3,381.0 891.9,378.8 894.4,378.2 897.0,376.6 899.5,378.2 902.1,378.9 904.6,376.9 907.2,374.9 909.7,373.6 912.3,373.0 914.8,372.3 917.4,370.5 919.9,369.4 922.5,368.9 925.0,367.7 927.6,367.2 930.1,366.2 932.7,367.5 935.2,368.4 937.8,369.9 940.3,370.3 942.9,368.5 945.4,367.5 948.0,367.1 950.5,365.4 953.1,364.1 955.6,361.3 958.2,358.3 960.7,354.3 963.3,351.4 965.8,349.2 968.4,348.9 970.9,351.8 973.5,354.8 976.0,354.8 978.6,353.8 981.1,352.7 983.7,352.1 986.2,354.8"/>
<polyline points="55.5,348.4 58.0,350.7 60.6,352.5 63.1,352.7 65.7,346.9 68.2,342.5 70.8,339.5 73.3,336.7 75.9,336.1 78.5,337.0 81.0,337.1 83.5,339.9 86.1,341.7 88.7,343.1 91.2,345.9 93.8,347.5 96.3,349.6 98.8,353.5 101.4,353.8 103.9,352.8 106.5,352.7 109.0,353.9 111.6,354.3 114.2,355.1 116.7,356.2 119.2,357.4 121.8,358.3 124.3,358.4 126.9,357.9 129.4,357.3 132.0,356.2 134.6,354.0 137.1,350.9 139.6,348.7 142.2,344.5 144.8,340.3 147.3,337.0 149.8,334.5 152.4,330.4 154.9,327.5 157.5,326.7 160.1,326.0 162.6,328.9 165.1,330.4 167.7,330.6 170.2,331.0 172.8,331.1 175.3,333.2 177.9,332.3 180.4,330.8 183.0,328.1 185.5,327.4 188.1,327.1 190.6,327.7 193.2,325.2 195.8,324.0 198.3,324.9 200.8,328.1 203.4,332.1 205.9,331.0 208.5,332.6 211.0,334.6 213.6,337.5 216.1,339.0 218.7,339.9 221.2,339.8 223.8,339.2 226.3,340.8 228.9,341.2 231.4,341.4 234.0,340.5 236.5,336.1 239.1,330.0 241.6,327.3 244.2,324.1 246.8,321.5 249.3,321.4 251.8,319.7 254.4,317.6 256.9,316.4 259.5,313.7 262.0,312.5 264.6,313.3 267.1,313.2 269.7,314.6 272.2,318.5 274.8,319.1 277.4,316.5 279.9,312.7 282.4,307.9 285.0,303.9 287.5,303.2 290.1,302.3 292.6,301.9 295.2,301.7 297.8,302.1 300.3,306.1 302.9,307.3 305.4,309.1 307.9,311.0 310.5,311.5 313.0,310.1 315.6,307.9 318.1,308.5 320.7,307.5 323.2,308.9 325.8,308.9 328.3,309.3 330.9,306.7 333.4,304.9 336.0,306.0 338.5,306.8 341.1,308.3 343.6,310.1 346.2,311.0 348.8,311.4 351.3,313.5 353.8,314.8 356.4,313.5 358.9,314.8 361.5,319.0 364.0,321.6 366.6,322.8 369.1,324.0 371.7,323.4 374.2,323.6 376.8,324.0 379.3,324.6 381.9,324.1 384.4,325.5 387.0,326.2 389.5,328.8 392.1,329.4 394.6,328.9 397.2,330.0 399.8,331.8 402.3,331.2 404.8,329.1 407.4,327.5 409.9,328.3 412.5,328.2 415.0,327.8 417.6,327.1 420.1,328.6 422.7,327.4 425.2,326.3 427.8,325.9 430.3,326.7 432.9,328.9 435.4,333.4 438.0,336.9 440.5,339.4 443.1,342.5 445.6,345.2 448.2,346.0 450.8,347.0 453.3,349.7 455.8,351.4 458.4,350.9 460.9,350.6 463.5,349.6 466.0,350.2 468.6,350.9 471.1,349.0 473.7,345.0 476.2,341.1 478.8,336.6 481.3,335.3 483.9,335.2 486.4,333.6 489.0,330.6 491.5,328.0 494.1,326.9 496.6,328.4 499.2,329.9 501.7,330.0 504.3,332.2 506.8,332.2 509.4,333.2 511.9,333.5 514.5,335.7 517.0,335.7 519.6,337.5 522.1,339.8 524.7,340.8 527.2,339.4 529.8,338.6 532.3,339.0 534.9,337.3 537.5,335.7 540.0,332.8 542.5,332.6 545.1,329.8 547.6,328.2 550.2,326.2 552.8,326.7 555.3,328.9 557.8,328.7 560.4,328.6 563.0,328.1 565.5,326.0 568.0,325.0 570.6,323.9 573.1,324.2 575.7,322.1 578.2,322.0 580.8,322.1 583.3,322.3 585.9,324.8 588.4,326.3 591.0,329.3 593.5,331.5 596.1,332.5 598.6,331.8 601.2,329.2 603.8,327.2 606.3,328.3 608.8,327.6 611.4,329.2 613.9,329.4 616.5,330.7 619.0,331.4 621.6,331.0 624.1,330.2 626.7,330.1 629.2,329.8 631.8,329.9 634.3,331.5 636.9,334.5 639.4,335.2 642.0,338.4 644.5,336.9 647.1,336.7 649.6,335.9 652.2,333.8 654.8,333.3 657.3,331.9 659.8,330.1 662.4,328.6 664.9,328.1 667.5,330.1 670.0,331.7 672.6,332.0 675.1,330.4 677.7,331.7 680.2,333.3 682.8,334.1 685.3,332.3 687.9,334.1 690.4,334.4 693.0,335.4 695.5,338.1 698.1,338.6 700.6,339.6 703.2,340.9 705.8,344.1 708.3,348.5 710.8,350.6 713.4,354.2 715.9,357.8 718.5,362.6 721.0,365.9 723.6,370.0 726.1,371.8 728.7,372.9 731.2,372.9 733.8,373.8 736.3,373.6 738.9,372.9 741.4,373.1 744.0,372.9 746.5,375.9 749.1,378.8 751.6,380.5 754.2,383.5 756.8,386.4 759.3,388.5 761.8,390.7 764.4,395.8 766.9,398.4 769.5,401.5 772.0,405.0 774.6,407.6 777.1,411.6 779.7,414.1 782.2,415.5 784.8,416.1 787.3,416.5 789.9,416.8 792.4,415.7 795.0,414.8 797.5,415.0 800.1,415.3 802.6,414.2 805.2,412.2 807.8,410.7 810.3,410.5 812.8,410.9 815.4,410.2 817.9,410.0 820.5,410.0 823.0,410.6 825.6,412.3 828.1,411.2 830.7,408.4 833.2,406.4 835.8,407.1 838.3,409.2 840.9,408.9 843.4,406.6 846.0,407.0 848.5,409.8 851.1,411.2 853.6,413.9 856.2,416.0 858.8,417.2 861.3,417.5 863.8,414.8 866.4,411.1 868.9,405.8 871.5,403.4 874.0,400.1 876.6,397.8 879.1,395.7 881.7,394.1 884.2,393.3 886.8,394.9 889.3,396.5 891.9,396.8 894.4,396.7 897.0,396.8 899.5,397.1 902.1,399.5 904.6,400.6 907.2,401.8 909.7,400.5 912.3,398.7 914.8,397.6 917.4,398.7 919.9,396.9 922.5,395.8 925.0,394.7 927.6,391.7 930.1,388.7 932.7,386.9 935.2,385.3 937.8,385.5 940.3,386.9 942.9,388.7 945.4,387.6 948.0,386.9 950.5,386.7 953.1,384.2 955.6,380.7 958.2,378.1 960.7,376.6 963.3,372.9 965.8,373.4 968.4,372.1 970.9,369.9 973.5,369.5 976.0,366.4 978.6,364.7 981.1,362.3 983.7,362.1 986.2,362.5"/>
<polyline points="55.5,352.5 58.0,352.4 60.6,351.6 63.1,349.2 65.7,350.7 68.2,356.3 70.8,361.4 73.3,366.6 75.9,368.8 78.5,370.2 81.0,373.0 83.5,374.7 86.1,377.8 88.7,378.6 91.2,377.4 93.8,370.6 96.3,367.9 98.8,365.3 101.4,364.1 103.9,360.2 106.5,359.0 109.0,356.1 111.6,354.8 114.2,355.3 116.7,353.4 119.2,351.9 121.8,351.5 124.3,350.3 126.9,352.3 129.4,352.3 132.0,351.5 134.6,350.4 137.1,349.4 139.6,345.8 142.2,343.1 144.8,340.9 147.3,337.3 149.8,332.2 152.4,327.4 154.9,324.9 157.5,323.3 160.1,323.1 162.6,322.6 165.1,320.1 167.7,316.0 170.2,314.9 172.8,314.6 175.3,313.2 177.9,312.6 180.4,310.0 183.0,305.4 185.5,298.2 188.1,293.2 190.6,291.4 193.2,292.8 195.8,295.2 198.3,300.5 200.8,304.6 203.4,306.7 205.9,307.8 208.5,306.1 211.0,305.8 213.6,306.1 216.1,305.7 218.7,305.5 221.2,302.8 223.8,300.8 226.3,300.0 228.9,301.1 231.4,301.6 234.0,302.8 236.5,303.1 239.1,305.8 241.6,309.6 244.2,310.1 246.8,310.0 249.3,312.3 251.8,315.8 254.4,321.8 256.9,327.1 259.5,330.4 262.0,331.9 264.6,333.2 267.1,332.5 269.7,333.6 272.2,335.1 274.8,336.3 277.4,335.8 279.9,334.7 282.4,332.9 285.0,329.6 287.5,327.9 290.1,327.9 292.6,330.5 295.2,333.2 297.8,336.4 300.3,339.1 302.9,340.3 305.4,338.3 307.9,337.4 310.5,339.7 313.0,343.1 315.6,344.0 318.1,344.7 320.7,344.2 323.2,346.1 325.8,347.9 328.3,345.5 330.9,345.0 333.4,342.9 336.0,345.7 338.5,345.8 341.1,346.7 343.6,346.3 346.2,345.3 348.8,345.7 351.3,347.4 353.8,348.1 356.4,346.7 358.9,342.5 361.5,341.2 364.0,337.8 366.6,333.4 369.1,329.3 371.7,327.5 374.2,326.7 376.8,328.1 379.3,329.0 381.9,330.2 384.4,333.0 387.0,338.2 389.5,342.2 392.1,344.3 394.6,344.0 397.2,341.7 399.8,341.4 402.3,339.8 404.8,339.9 407.4,341.3 409.9,340.7 412.5,341.4 415.0,341.0 417.6,340.2 420.1,335.6 422.7,334.6 425.2,333.9 427.8,329.7 430.3,328.2 432.9,328.4 435.4,326.3 438.0,326.3 440.5,326.2 443.1,327.0 445.6,328.0 448.2,328.5 450.8,329.8 453.3,333.7 455.8,334.3 458.4,335.3 460.9,335.6 463.5,337.8 466.0,338.7 468.6,338.1 471.1,339.9 473.7,339.7 476.2,342.3 478.8,344.3 481.3,344.8 483.9,345.1 486.4,349.4 489.0,350.5 491.5,353.0 494.1,356.1 496.6,360.8 499.2,364.2 501.7,367.3 504.3,368.8 506.8,368.2 509.4,366.9 511.9,366.4 514.5,366.3 517.0,365.1 519.6,365.6 522.1,369.9 524.7,372.1 527.2,376.5 529.8,378.9 532.3,379.2 534.9,379.2 537.5,379.8 540.0,377.9 542.5,373.8 545.1,370.4 547.6,368.9 550.2,370.3 552.8,371.6 555.3,372.6 557.8,374.2 560.4,376.5 563.0,376.5 565.5,379.0 568.0,382.8 570.6,386.2 573.1,389.0 575.7,391.3 578.2,392.4 580.8,390.6 583.3,389.3 585.9,385.1 588.4,380.7 591.0,376.2 593.5,372.5 596.1,367.1 598.6,367.2 601.2,365.2 603.8,363.3 606.3,360.2 608.8,357.8 611.4,356.2 613.9,352.7 616.5,350.3 619.0,346.5 621.6,344.8 624.1,345.5 626.7,345.1 629.2,345.6 631.8,345.9 634.3,348.2 636.9,350.5 639.4,352.2 642.0,353.3 644.5,353.1 647.1,354.0 649.6,354.6 652.2,352.8 654.8,351.6 657.3,351.1 659.8,348.0 662.4,345.6 664.9,343.8 667.5,341.5 670.0,339.5 672.6,339.6 675.1,337.3 677.7,334.3 680.2,333.9 682.8,335.1 685.3,335.7 687.9,334.3 690.4,331.8 693.0,329.0 695.5,328.9 698.1,330.2 700.6,334.4 703.2,339.0 705.8,343.3 708.3,347.4 710.8,350.0 713.4,352.7 715.9,355.9 718.5,355.7 721.0,357.2 723.6,358.7 726.1,359.0 728.7,362.3 731.2,363.4 733.8,364.2 736.3,361.5 738.9,360.6 741.4,362.7 744.0,364.5 746.5,366.2 749.1,367.4 751.6,369.0 754.2,368.8 756.8,367.5 759.3,367.2 761.8,367.4 764.4,367.3 766.9,366.6 769.5,366.8 772.0,368.1 774.6,366.5 777.1,363.2 779.7,359.8 782.2,354.8 784.8,353.1 787.3,352.6 789.9,350.4 792.4,351.2 795.0,351.1 797.5,352.8 800.1,354.7 802.6,355.8 805.2,355.4 807.8,356.5 810.3,361.6 812.8,363.2 815.4,364.9 817.9,369.5 820.5,370.4 823.0,373.3 825.6,373.3 828.1,372.7 830.7,373.5 833.2,373.1 835.8,370.3 838.3,368.7 840.9,367.9 843.4,368.7 846.0,370.1 848.5,372.9 851.1,376.4 853.6,378.0 856.2,381.7 858.8,384.2 861.3,385.0 863.8,386.0 866.4,388.3 868.9,389.8 871.5,391.5 874.0,392.8 876.6,395.6 879.1,394.2 881.7,392.2 884.2,390.4 886.8,389.2 889.3,389.8 891.9,392.8 894.4,395.0 897.0,397.7 899.5,398.6 902.1,400.1 904.6,401.9 907.2,402.1 909.7,401.3 912.3,398.7 914.8,398.8 917.4,396.9 919.9,398.0 922.5,398.3 925.0,398.8 927.6,397.4 930.1,396.7 932.7,394.7 935.2,394.1 937.8,391.2 940.3,389.4 942.9,389.2 945.4,388.7 948.0,391.0 950.5,392.6 953.1,391.2 955.6,387.8 958.2,385.1 960.7,384.0 963.3,380.6 965.8,376.5 968.4,374.5 970.9,374.2 973.5,372.8 976.0,372.4 978.6,373.8 981.1,376.0 983.7,374.2 986.2,372.8"/>
<polyline points="55.5,390.2 58.0,388.2 60.6,386.5 63.1,384.4 65.7,382.5 68.2,384.0 70.8,384.2 73.3,382.7 75.9,382.0 78.5,379.2 81.0,375.5 83.5,372.7 86.1,371.7 88.7,368.7 91.2,367.8 93.8,368.1 96.3,369.5 98.8,367.5 101.4,365.7 103.9,363.5 106.5,361.6 109.0,361.5 111.6,362.3 114.2,362.6 116.7,359.5 119.2,356.7 121.8,357.1 124.3,358.0 126.9,360.6 129.4,359.4 132.0,357.6 134.6,355.2 137.1,354.0 139.6,354.8 142.2,353.0 144.8,352.5 147.3,353.4 149.8,352.6 152.4,349.8 154.9,345.9 157.5,343.9 160.1,342.3 162.6,340.2 165.1,337.9 167.7,337.5 170.2,335.7 172.8,335.9 175.3,334.4 177.9,334.4 180.4,331.4 183.0,330.3 185.5,328.9 188.1,327.9 190.6,327.9 193.2,327.2 195.8,327.2 198.3,327.4 200.8,325.7 203.4,322.7 205.9,322.1 208.5,321.0 211.0,322.8 213.6,323.4 216.1,325.6 218.7,328.3 221.2,329.0 223.8,328.9 226.3,327.7 228.9,327.7 231.4,328.2 234.0,327.9 236.5,329.6 239.1,330.2 241.6,328.1 244.2,325.1 246.8,321.9 249.3,318.5 251.8,315.8 254.4,312.5 256.9,308.8 259.5,305.7 262.0,305.8 264.6,306.0 267.1,306.0 269.7,304.2 272.2,300.5 274.8,297.7 277.4,298.1 279.9,299.0 282.4,301.4 285.0,303.2 287.5,302.2 290.1,302.4 292.6,304.1 295.2,304.0 297.8,306.4 300.3,307.5 302.9,310.4 305.4,313.1 307.9,315.5 310.5,319.2 313.0,321.1 315.6,321.8 318.1,324.7 320.7,325.7 323.2,325.9 325.8,326.6 328.3,329.4 330.9,333.8 333.4,334.6 336.0,334.4 338.5,334.8 341.1,336.2 343.6,340.0 346.2,343.0 348.8,344.1 351.3,346.8 353.8,347.2 356.4,347.3 358.9,345.1 361.5,344.0 364.0,340.2 366.6,334.5 369.1,330.6 371.7,328.5 374.2,328.6 376.8,329.4 379.3,329.0 381.9,329.9 384.4,332.1 387.0,335.6 389.5,338.3 392.1,339.1 394.6,339.8 397.2,342.6 399.8,345.7 402.3,349.7 404.8,353.7 407.4,352.5 409.9,352.8 412.5,352.5 415.0,354.6 417.6,356.5 420.1,356.6 422.7,355.3 425.2,351.7 427.8,353.3 430.3,355.2 432.9,357.0 435.4,357.0 438.0,357.7 440.5,358.9 443.1,358.5 445.6,356.8 448.2,355.9 450.8,358.5 453.3,362.1 455.8,363.6 458.4,366.4 460.9,367.7 463.5,366.3 466.0,364.2 468.6,362.9 471.1,362.4 473.7,358.5 476.2,355.7 478.8,353.5 481.3,353.9 483.9,353.2 486.4,352.3 489.0,351.9 491.5,351.9 494.1,351.2 496.6,351.6 499.2,354.2 501.7,354.8 504.3,353.1 506.8,352.7 509.4,355.0 511.9,357.7 514.5,359.0 517.0,360.8 519.6,359.9 522.1,361.3 524.7,361.2 527.2,359.6 529.8,358.3 532.3,357.0 534.9,355.9 537.5,352.6 540.0,347.7 542.5,345.0 545.1,341.5 547.6,337.5 550.2,336.6 552.8,336.4 555.3,335.0 557.8,334.1 560.4,333.5 563.0,333.5 565.5,332.7 568.0,329.9 570.6,329.5 573.1,329.9 575.7,332.6 578.2,334.0 580.8,337.3 583.3,337.5 585.9,337.4 588.4,338.7 591.0,338.7 593.5,341.5 596.1,340.3 598.6,340.1 601.2,340.0 603.8,342.7 606.3,346.9 608.8,349.7 611.4,349.6 613.9,348.9 616.5,350.9 619.0,351.9 621.6,351.4 624.1,352.7 626.7,356.2 629.2,356.2 631.8,356.6 634.3,355.8 636.9,358.3 639.4,360.4 642.0,359.1 644.5,357.7 647.1,357.6 649.6,359.7 652.2,360.6 654.8,360.8 657.3,363.7 659.8,363.9 662.4,362.5 664.9,359.8 667.5,356.0 670.0,354.2 672.6,351.5 675.1,351.8 677.7,351.6 680.2,353.7 682.8,354.4 685.3,356.1 687.9,357.2 690.4,355.7 693.0,355.7 695.5,355.0 698.1,354.8 700.6,358.2 703.2,363.6 705.8,371.0 708.3,375.7 710.8,379.5 713.4,382.4 715.9,382.7 718.5,384.4 721.0,387.4 723.6,390.1 726.1,393.3 728.7,391.8 731.2,389.6 733.8,386.7 736.3,385.5 738.9,384.9 741.4,384.7 744.0,385.7 746.5,387.6 749.1,389.9 751.6,391.8 754.2,392.2 756.8,391.5 759.3,392.2 761.8,391.8 764.4,390.4 766.9,390.3 769.5,390.4 772.0,388.3 774.6,387.7 777.1,390.0 779.7,391.6 782.2,392.4 784.8,396.3 787.3,398.5 789.9,401.3 792.4,403.6 795.0,406.7 797.5,410.5 800.1,415.3 802.6,420.7 805.2,425.8 807.8,430.3 810.3,433.5 812.8,435.9 815.4,436.2 817.9,434.4 820.5,431.1 823.0,429.6 825.6,430.6 828.1,431.6 830.7,431.9 833.2,431.6 835.8,432.7 838.3,434.6 840.9,438.0 843.4,440.3 846.0,444.1 848.5,448.1 851.1,449.7 853.6,447.1 856.2,444.5 858.8,443.5 861.3,443.2 863.8,443.8 866.4,444.0 868.9,444.6 871.5,446.0 874.0,446.7 876.6,445.5 879.1,445.0 881.7,444.8 884.2,444.6 886.8,440.3 889.3,436.7 891.9,437.7 894.4,438.4 897.0,435.0 899.5,430.1 902.1,425.4 904.6,420.4 907.2,417.7 909.7,416.2 912.3,412.7 914.8,409.1 917.4,407.3 919.9,404.6 922.5,402.8 925.0,399.8 927.6,399.7 930.1,399.3 932.7,396.9 935.2,396.9 937.8,396.0 940.3,394.8 942.9,394.3 945.4,393.9 948.0,392.3 950.5,389.8 953.1,388.0 955.6,385.8 958.2,385.7 960.7,380.6 963.3,378.3 965.8,376.2 968.4,375.6 970.9,375.4 973.5,376.0 976.0,376.4 978.6,375.6 981.1,374.7 983.7,377.1 986.2,378.1"/>
<polyline points="55.5,378.2 58.0,379.0 60.6,378.1 63.1,374.0 65.7,369.3 68.2,368.5 70.8,368.1 73.3,368.8 75.9,367.9 78.5,367.2 81.0,365.6 83.5,363.0 86.1,361.7 88.7,361.3 91.2,361.8 93.8,363.6 96.3,365.9 98.8,365.6 101.4,366.2 103.9,365.9 106.5,363.2 109.0,362.7 111.6,361.2 114.2,361.3 116.7,361.0 119.2,359.9 121.8,358.8 124.3,358.1 126.9,357.0 129.4,354.5 132.0,352.9 134.6,350.2 137.1,349.0 139.6,349.2 142.2,349.5 144.8,347.2 147.3,345.6 149.8,343.6 152.4,340.3 154.9,337.2 157.5,335.9 160.1,336.4 162.6,335.8 165.1,334.1 167.7,334.0 170.2,331.4 172.8,327.8 175.3,324.9 177.9,325.7 180.4,326.5 183.0,327.3 185.5,324.9 188.1,323.6 190.6,321.2 193.2,319.8 195.8,317.5 198.3,315.8 200.8,315.7 203.4,316.3 205.9,317.2 208.5,320.4 211.0,321.6 213.6,322.0 216.1,322.9 218.7,324.7 221.2,326.4 223.8,326.2 226.3,326.7 228.9,327.5 231.4,326.3 234.0,324.7 236.5,321.5 239.1,318.3 241.6,315.1 244.2,308.1 246.8,303.5 249.3,299.8 251.8,297.8 254.4,296.1 256.9,296.8 259.5,297.3 262.0,296.7 264.6,295.1 267.1,291.1 269.7,289.5 272.2,287.4 274.8,285.5 277.4,284.3 279.9,284.6 282.4,284.5 285.0,285.2 287.5,286.2 290.1,286.4 292.6,286.2 295.2,285.9 297.8,285.2 300.3,285.0 302.9,284.3 305.4,284.9 307.9,287.6 310.5,290.5 313.0,291.9 315.6,291.3 318.1,293.1 320.7,292.9 323.2,293.3 325.8,290.4 328.3,289.1 330.9,287.0 333.4,286.8 336.0,284.8 338.5,284.2 341.1,285.3 343.6,287.1 346.2,289.6 348.8,292.7 351.3,297.7 353.8,301.4 356.4,308.5 358.9,313.8 361.5,319.3 364.0,324.0 366.6,327.6 369.1,330.2 371.7,332.6 374.2,334.0 376.8,334.3 379.3,334.7 381.9,333.3 384.4,333.3 387.0,332.9 389.5,330.9 392.1,328.9 394.6,325.2 397.2,322.6 399.8,321.0 402.3,320.4 404.8,322.0 407.4,324.1 409.9,325.5 412.5,328.2 415.0,331.7 417.6,335.1 420.1,339.8 422.7,343.9 425.2,346.2 427.8,349.2 430.3,349.8 432.9,350.7 435.4,355.1 438.0,359.2 440.5,364.9 443.1,368.4 445.6,372.3 448.2,376.9 450.8,379.0 453.3,382.0 455.8,383.2 458.4,383.0 460.9,382.4 463.5,382.2 466.0,382.1 468.6,385.0 471.1,389.4 473.7,392.1 476.2,392.8 478.8,392.7 481.3,393.7 483.9,396.7 486.4,396.1 489.0,394.6 491.5,392.5 494.1,390.8 496.6,389.7 499.2,387.8 501.7,385.3 504.3,384.8 506.8,383.0 509.4,382.2 511.9,380.7 514.5,381.2 517.0,383.1 519.6,385.7 522.1,388.9 524.7,391.0 527.2,392.3 529.8,391.7 532.3,390.4 534.9,390.6 537.5,389.4 540.0,386.7 542.5,385.5 545.1,383.4 547.6,383.3 550.2,381.1 552.8,379.6 555.3,376.9 557.8,374.2 560.4,368.3 563.0,364.4 565.5,362.0 568.0,359.8 570.6,357.6 573.1,357.2 575.7,359.1 578.2,357.6 580.8,355.2 583.3,353.8 585.9,350.9 588.4,350.2 591.0,352.3 593.5,356.5 596.1,358.8 598.6,360.9 601.2,362.0 603.8,363.2 606.3,363.6 608.8,364.6 611.4,363.3 613.9,361.5 616.5,361.3 619.0,364.3 621.6,364.8 624.1,365.8 626.7,368.0 629.2,369.0 631.8,371.3 634.3,372.4 636.9,373.8 639.4,376.8 642.0,379.4 644.5,382.1 647.1,384.4 649.6,382.3 652.2,377.5 654.8,375.5 657.3,373.6 659.8,371.8 662.4,373.1 664.9,375.7 667.5,375.7 670.0,376.7 672.6,378.6 675.1,379.0 677.7,380.0 680.2,377.3 682.8,376.9 685.3,378.0 687.9,379.9 690.4,382.4 693.0,385.2 695.5,387.5 698.1,390.4 700.6,394.4 703.2,397.8 705.8,403.0 708.3,405.6 710.8,406.4 713.4,407.0 715.9,408.6 718.5,407.2 721.0,407.0 723.6,407.5 726.1,408.8 728.7,410.5 731.2,411.9 733.8,411.9 736.3,412.7 738.9,416.0 741.4,414.4 744.0,414.3 746.5,413.6 749.1,411.8 751.6,411.5 754.2,413.7 756.8,414.3 759.3,413.5 761.8,413.1 764.4,414.1 766.9,412.4 769.5,410.2 772.0,407.1 774.6,404.8 777.1,403.0 779.7,401.1 782.2,401.7 784.8,402.1 787.3,404.1 789.9,405.1 792.4,405.3 795.0,408.6 797.5,411.5 800.1,415.1 802.6,418.9 805.2,422.3 807.8,425.4 810.3,428.1 812.8,429.0 815.4,429.2 817.9,430.6 820.5,430.4 823.0,431.9 825.6,432.5 828.1,432.5 830.7,432.5 833.2,432.0 835.8,432.3 838.3,433.2 840.9,432.9 843.4,432.2 846.0,431.3 848.5,429.5 851.1,426.7 853.6,425.3 856.2,421.3 858.8,419.1 861.3,417.7 863.8,417.2 866.4,417.7 868.9,419.1 871.5,420.9 874.0,422.3 876.6,422.8 879.1,424.6 881.7,426.3 884.2,426.3 886.8,426.4 889.3,424.6 891.9,422.8 894.4,419.1 897.0,418.5 899.5,416.9 902.1,417.9 904.6,419.5 907.2,419.0 909.7,415.8 912.3,413.8 914.8,415.0 917.4,414.9 919.9,414.1 922.5,413.7 925.0,413.8 927.6,412.3 930.1,409.3 932.7,407.2 935.2,404.9 937.8,401.7 940.3,400.3 942.9,399.3 945.4,397.2 948.0,392.5 950.5,388.6 953.1,385.8 955.6,384.0 958.2,382.6 960.7,382.0 963.3,380.0 965.8,378.5 968.4,374.9 970.9,371.4 973.5,369.7 976.0,370.9 978.6,370.6 981.1,370.7 983.7,372.2 986.2,375.2"/>
<polyline points="55.5,399.8 58.0,396.3 60.6,391.8 63.1,387.7 65.7,385.6 68.2,385.5 70.8,386.2 73.3,386.2 75.9,386.1 78.5,387.9 81.0,387.6 83.5,389.1 86.1,390.0 88.7,390.2 91.2,388.7 93.8,387.4 96.3,386.3 98.8,388.7 101.4,390.8 103.9,392.6 106.5,393.2 109.0,393.9 111.6,393.3 114.2,393.9 116.7,391.8 119.2,390.7 121.8,390.6 124.3,391.5 126.9,388.3 129.4,386.1 132.0,384.3 134.6,384.5 137.1,383.4 139.6,382.1 142.2,379.6 144.8,376.3 147.3,375.0 149.8,372.5 152.4,371.3 154.9,369.3 157.5,367.5 160.1,365.2 162.6,359.7 165.1,354.8 167.7,353.6 170.2,352.6 172.8,352.9 175.3,353.1 177.9,354.1 180.4,352.9 183.0,351.3 185.5,346.6 188.1,342.1 190.6,338.3 193.2,336.2 195.8,333.5 198.3,331.5 200.8,329.9 203.4,331.8 205.9,330.7 208.5,329.1 211.0,326.1 213.6,323.9 216.1,324.3 218.7,323.5 221.2,321.5 223.8,321.0 226.3,320.8 228.9,320.7 231.4,320.2 234.0,319.0 236.5,316.8 239.1,316.8 241.6,315.6 244.2,316.0 246.8,318.6 249.3,317.1 251.8,317.5 254.4,315.3 256.9,316.3 259.5,318.8 262.0,320.0 264.6,321.8 267.1,320.0 269.7,318.0 272.2,315.9 274.8,317.4 277.4,316.9 279.9,316.4 282.4,313.6 285.0,312.6 287.5,312.2 290.1,313.2 292.6,314.3 295.2,316.4 297.8,320.2 300.3,321.5 302.9,322.1 305.4,321.8 307.9,322.5 310.5,324.1 313.0,325.0 315.6,325.6 318.1,327.9 320.7,328.9 323.2,328.2 325.8,326.5 328.3,326.4 330.9,326.4 333.4,327.2 336.0,326.3 338.5,325.8 341.1,324.9 343.6,323.7 346.2,322.1 348.8,319.2 351.3,317.4 353.8,319.1 356.4,320.8 358.9,325.0 361.5,325.9 364.0,324.1 366.6,326.1 369.1,328.8 371.7,329.5 374.2,331.6 376.8,333.8 379.3,338.4 381.9,341.7 384.4,344.0 387.0,344.7 389.5,344.5 392.1,343.3 394.6,342.7 397.2,344.1 399.8,348.4 402.3,349.4 404.8,349.8 407.4,351.1 409.9,351.3 412.5,351.3 415.0,351.6 417.6,352.5 420.1,352.2 422.7,351.5 425.2,352.1 427.8,353.5 430.3,352.6 432.9,354.8 435.4,354.9 438.0,354.9 440.5,354.2 443.1,351.8 445.6,352.0 448.2,353.5 450.8,354.4 453.3,354.4 455.8,354.0 458.4,355.4 460.9,358.0 463.5,362.7 466.0,364.7 468.6,368.3 471.1,370.4 473.7,372.7 476.2,373.9 478.8,375.6 481.3,375.0 483.9,373.1 486.4,372.7 489.0,371.6 491.5,369.6 494.1,369.7 496.6,369.1 499.2,369.3 501.7,366.7 504.3,366.0 506.8,365.4 509.4,366.8 511.9,366.5 514.5,365.7 517.0,365.9 519.6,366.7 522.1,366.5 524.7,368.1 527.2,372.3 529.8,376.5 532.3,381.6 534.9,385.3 537.5,387.5 540.0,389.9 542.5,390.1 545.1,389.7 547.6,389.4 550.2,388.2 552.8,387.9 555.3,387.0 557.8,386.6 560.4,385.2 563.0,381.8 565.5,379.4 568.0,377.1 570.6,374.9 573.1,374.6 575.7,375.1 578.2,375.9 580.8,376.0 583.3,376.3 585.9,376.1 588.4,377.3 591.0,377.7 593.5,379.9 596.1,378.5 598.6,375.8 601.2,372.3 603.8,369.1 606.3,365.4 608.8,361.4 611.4,359.4 613.9,354.6 616.5,353.8 619.0,352.6 621.6,352.4 624.1,351.7 626.7,351.4 629.2,350.8 631.8,352.4 634.3,352.8 636.9,355.2 639.4,355.5 642.0,353.0 644.5,351.4 647.1,351.8 649.6,348.7 652.2,347.2 654.8,344.1 657.3,338.4 659.8,333.9 662.4,330.5 664.9,329.6 667.5,330.4 670.0,330.8 672.6,330.6 675.1,332.0 677.7,333.6 680.2,335.4 682.8,337.4 685.3,336.6 687.9,337.0 690.4,339.5 693.0,344.0 695.5,350.1 698.1,356.0 700.6,360.7 703.2,362.5 705.8,361.6 708.3,360.8 710.8,362.0 713.4,364.5 715.9,366.9 718.5,366.9 721.0,365.9 723.6,361.4 726.1,358.8 728.7,358.6 731.2,357.4 733.8,358.3 736.3,359.1 738.9,358.5 741.4,358.7 744.0,359.5 746.5,362.4 749.1,366.3 751.6,368.2 754.2,367.7 756.8,366.7 759.3,366.8 761.8,367.0 764.4,367.4 766.9,366.5 769.5,369.7 772.0,372.6 774.6,374.1 777.1,375.1 779.7,376.7 782.2,379.4 784.8,381.7 787.3,382.4 789.9,383.1 792.4,386.1 795.0,390.3 797.5,394.2 800.1,393.3 802.6,392.8 805.2,392.7 807.8,392.3 810.3,394.2 812.8,394.4 815.4,396.4 817.9,398.3 820.5,400.3 823.0,402.1 825.6,402.8 828.1,406.7 830.7,408.0 833.2,409.2 835.8,410.8 838.3,412.6 840.9,413.2 843.4,414.4 846.0,413.2 848.5,412.4 851.1,411.8 853.6,411.5 856.2,409.4 858.8,408.5 861.3,406.2 863.8,403.6 866.4,400.3 868.9,397.1 871.5,393.6 874.0,392.2 876.6,393.2 879.1,394.4 881.7,393.5 884.2,393.6 886.8,393.2 889.3,391.0 891.9,388.5 894.4,388.4 897.0,386.8 899.5,384.8 902.1,384.4 904.6,385.9 907.2,387.8 909.7,390.4 912.3,389.2 914.8,385.3 917.4,382.6 919.9,379.3 922.5,376.9 925.0,376.8 927.6,376.9 930.1,376.8 932.7,376.1 935.2,378.2 937.8,385.6 940.3,389.0 942.9,390.4 945.4,392.3 948.0,393.5 950.5,391.8 953.1,391.7 955.6,393.1 958.2,395.2 960.7,399.0 963.3,400.3 965.8,401.6 968.4,399.7 970.9,400.9 973.5,401.0 976.0,401.2 978.6,402.6 981.1,404.2 983.7,406.0 986.2,406.2"/>
<polyline points="55.5,405.0 58.0,403.8 60.6,401.8 63.1,399.6 65.7,397.1 68.2,394.7 70.8,392.1 73.3,390.8 75.9,390.3 78.5,388.7 81.0,387.4 83.5,385.2 86.1,383.0 88.7,382.1 91.2,381.3 93.8,380.7 96.3,379.7 98.8,378.9 101.4,377.4 103.9,375.4 106.5,374.0 109.0,372.0 111.6,370.3 114.2,370.7 116.7,371.1 119.2,369.9 121.8,370.4 124.3,369.4 126.9,367.1 129.4,365.4 132.0,364.2 134.6,363.0 137.1,360.2 139.6,357.9 142.2,354.6 144.8,351.4 147.3,349.3 149.8,348.5 152.4,346.4 154.9,345.4 157.5,345.2 160.1,343.8 162.6,341.6 165.1,338.6 167.7,336.8 170.2,335.2 172.8,335.0 175.3,334.7 177.9,334.1 180.4,333.8 183.0,333.5 185.5,332.6 188.1,330.5 190.6,329.2 193.2,328.1 195.8,327.2 198.3,325.5 200.8,324.8 203.4,324.7 205.9,324.5 208.5,324.2 211.0,323.8 213.6,324.3 216.1,325.3 218.7,325.9 221.2,327.0 223.8,327.4 226.3,326.4 228.9,323.8 231.4,322.1 234.0,319.3 236.5,317.1 239.1,316.4 241.6,316.5 244.2,315.0 246.8,313.8 249.3,312.7 251.8,313.5 254.4,314.7 256.9,313.8 259.5,312.4 262.0,312.9 264.6,312.6 267.1,311.2 269.7,310.9 272.2,309.2 274.8,307.2 277.4,305.9 279.9,305.2 282.4,306.0 285.0,306.5 287.5,306.0 290.1,304.7 292.6,303.1 295.2,302.7 297.8,302.0 300.3,302.5 302.9,303.1 305.4,304.6 307.9,306.9 310.5,308.8 313.0,310.8 315.6,312.4 318.1,314.2 320.7,316.1 323.2,317.4 325.8,317.3 328.3,319.1 330.9,320.7 333.4,321.8 336.0,323.5 338.5,325.5 341.1,326.1 343.6,326.5 346.2,326.2 348.8,325.6 351.3,325.9 353.8,325.3 356.4,324.3 358.9,323.7 361.5,323.4 364.0,323.1 366.6,323.0 369.1,322.9 371.7,324.0 374.2,323.7 376.8,323.3 379.3,324.7 381.9,326.1 384.4,326.9 387.0,329.4 389.5,331.7 392.1,333.3 394.6,335.0 397.2,337.8 399.8,340.7 402.3,342.7 404.8,344.8 407.4,347.6 409.9,350.1 412.5,352.0 415.0,352.6 417.6,352.0 420.1,351.5 422.7,350.6 425.2,350.2 427.8,348.6 430.3,348.0 432.9,350.2 435.4,352.6 438.0,354.6 440.5,355.4 443.1,356.8 445.6,359.7 448.2,361.5 450.8,362.8 453.3,363.7 455.8,364.3 458.4,366.0 460.9,366.8 463.5,365.2 466.0,364.6 468.6,366.4 471.1,367.3 473.7,368.3 476.2,369.3 478.8,368.8 481.3,367.4 483.9,366.5 486.4,365.7 489.0,364.9 491.5,365.3 494.1,364.3 496.6,363.8 499.2,362.8 501.7,362.7 504.3,363.1 506.8,364.2 509.4,366.2 511.9,366.2 514.5,365.8 517.0,366.8 519.6,366.6 522.1,364.9 524.7,362.6 527.2,361.2 529.8,359.8 532.3,357.8 534.9,355.9 537.5,354.6 540.0,353.1 542.5,351.4 545.1,351.6 547.6,351.7 550.2,351.9 552.8,351.7 555.3,350.6 557.8,349.2 560.4,349.1 563.0,348.4 565.5,346.9 568.0,348.2 570.6,349.7 573.1,351.0 575.7,352.9 578.2,353.2 580.8,352.8 583.3,352.5 585.9,351.3 588.4,350.7 591.0,350.5 593.5,350.3 596.1,349.8 598.6,350.0 601.2,349.2 603.8,348.3 606.3,347.2 608.8,347.5 611.4,347.1 613.9,345.8 616.5,345.3 619.0,344.2 621.6,344.3 624.1,346.1 626.7,348.9 629.2,350.9 631.8,353.2 634.3,355.1 636.9,356.0 639.4,357.1 642.0,358.1 644.5,358.3 647.1,359.0 649.6,358.7 652.2,358.5 654.8,359.4 657.3,359.4 659.8,359.4 662.4,356.9 664.9,355.4 667.5,354.9 670.0,355.7 672.6,357.3 675.1,359.6 677.7,362.2 680.2,362.7 682.8,363.7 685.3,365.1 687.9,368.4 690.4,370.0 693.0,372.8 695.5,374.7 698.1,376.6 700.6,377.8 703.2,379.7 705.8,381.2 708.3,381.5 710.8,381.3 713.4,382.3 715.9,384.1 718.5,384.1 721.0,384.2 723.6,385.1 726.1,386.5 728.7,388.7 731.2,390.7 733.8,392.3 736.3,394.6 738.9,396.7 741.4,400.4 744.0,403.8 746.5,406.0 749.1,409.7 751.6,413.7 754.2,416.5 756.8,417.8 759.3,417.7 761.8,418.8 764.4,419.2 766.9,420.4 769.5,421.1 772.0,421.0 774.6,422.8 777.1,423.6 779.7,423.8 782.2,424.0 784.8,424.7 787.3,426.6 789.9,428.1 792.4,427.9 795.0,428.2 797.5,428.6 800.1,428.9 802.6,429.0 805.2,429.3 807.8,428.8 810.3,429.5 812.8,430.0 815.4,431.8 817.9,433.2 820.5,433.0 823.0,435.4 825.6,436.4 828.1,436.3 830.7,437.6 833.2,438.9 835.8,438.8 838.3,439.3 840.9,438.8 843.4,438.3 846.0,438.7 848.5,437.5 851.1,436.7 853.6,435.5 856.2,435.4 858.8,435.7 861.3,436.7 863.8,437.5 866.4,437.8 868.9,438.1 871.5,437.2 874.0,437.2 876.6,437.9 879.1,438.8 881.7,438.3 884.2,437.2 886.8,436.4 889.3,436.1 891.9,435.9 894.4,434.7 897.0,433.1 899.5,430.5 902.1,429.4 904.6,430.1 907.2,431.8 909.7,432.8 912.3,433.8 914.8,433.6 917.4,433.5 919.9,432.3 922.5,432.8 925.0,434.1 927.6,435.3 930.1,435.9 932.7,435.8 935.2,434.4 937.8,432.4 940.3,431.6 942.9,430.6 945.4,430.2 948.0,430.0 950.5,428.9 953.1,427.8 955.6,426.5 958.2,425.4 960.7,424.2 963.3,422.9 965.8,421.1 968.4,420.0 970.9,417.3 973.5,415.1 976.0,414.2 978.6,414.0 981.1,413.7 983.7,414.1 986.2,415.1"/>
<polyline points="55.5,387.6 58.0,387.4 60.6,386.7 63.1,386.9 65.7,386.0 68.2,382.4 70.8,380.3 73.3,379.5 75.9,379.8 78.5,382.1 81.0,382.2 83.5,382.3 86.1,381.6 88.7,381.7 91.2,380.0 93.8,378.2 96.3,380.7 98.8,382.9 101.4,385.4 103.9,388.0 106.5,388.8 109.0,389.9 111.6,389.8 114.2,387.7 116.7,384.4 119.2,382.6 121.8,380.1 124.3,378.5 126.9,378.4 129.4,377.5 132.0,376.2 134.6,375.1 137.1,373.6 139.6,369.9 142.2,365.1 144.8,360.5 147.3,359.3 149.8,357.1 152.4,355.1 154.9,353.0 157.5,350.0 160.1,346.7 162.6,343.9 165.1,342.2 167.7,341.0 170.2,340.8 172.8,341.6 175.3,342.0 177.9,342.6 180.4,343.9 183.0,346.5 185.5,348.7 188.1,349.8 190.6,351.9 193.2,352.5 195.8,352.2 198.3,350.6 200.8,350.9 203.4,351.3 205.9,350.9 208.5,349.1 211.0,346.1 213.6,341.9 216.1,338.2 218.7,336.4 221.2,333.3 223.8,330.7 226.3,329.0 228.9,328.0 231.4,325.9 234.0,323.8 236.5,321.8 239.1,322.0 241.6,321.9 244.2,319.7 246.8,318.0 249.3,316.8 251.8,316.1 254.4,317.1 256.9,316.7 259.5,316.2 262.0,315.8 264.6,315.3 267.1,314.4 269.7,314.2 272.2,313.2 274.8,313.0 277.4,314.5 279.9,316.2 282.4,316.3 285.0,317.2 287.5,318.6 290.1,318.2 292.6,317.2 295.2,317.1 297.8,317.1 300.3,315.8 302.9,314.0 305.4,315.6 307.9,319.5 310.5,322.4 313.0,326.1 315.6,326.8 318.1,325.2 320.7,325.0 323.2,327.5 325.8,329.6 328.3,330.2 330.9,329.7 333.4,329.1 336.0,329.4 338.5,328.2 341.1,328.0 343.6,327.0 346.2,327.2 348.8,326.2 351.3,325.0 353.8,325.0 356.4,324.6 358.9,325.2 361.5,326.4 364.0,324.9 366.6,325.2 369.1,325.0 371.7,327.1 374.2,328.8 376.8,333.8 379.3,336.1 381.9,337.6 384.4,338.1 387.0,337.9 389.5,338.3 392.1,339.1 394.6,337.8 397.2,337.8 399.8,337.5 402.3,337.3 404.8,338.8 407.4,339.5 409.9,340.7 412.5,340.9 415.0,341.0 417.6,342.6 420.1,343.0 422.7,340.4 425.2,340.9 427.8,343.5 430.3,346.3 432.9,349.9 435.4,352.8 438.0,357.6 440.5,361.2 443.1,364.8 445.6,366.5 448.2,368.8 450.8,369.0 453.3,368.8 455.8,367.7 458.4,368.8 460.9,371.1 463.5,375.3 466.0,377.4 468.6,379.0 471.1,382.0 473.7,383.8 476.2,386.0 478.8,388.9 481.3,392.7 483.9,394.2 486.4,394.1 489.0,394.7 491.5,394.8 494.1,397.9 496.6,398.9 499.2,398.4 501.7,398.3 504.3,399.3 506.8,397.7 509.4,394.7 511.9,389.6 514.5,383.9 517.0,380.5 519.6,377.7 522.1,374.6 524.7,371.6 527.2,372.2 529.8,374.4 532.3,378.6 534.9,381.6 537.5,383.1 540.0,382.7 542.5,381.4 545.1,380.3 547.6,381.7 550.2,380.9 552.8,377.4 555.3,377.1 557.8,376.4 560.4,375.1 563.0,375.7 565.5,376.3 568.0,376.6 570.6,375.4 573.1,373.6 575.7,371.7 578.2,371.8 580.8,370.1 583.3,369.5 585.9,369.3 588.4,370.3 591.0,370.8 593.5,373.7 596.1,373.8 598.6,374.2 601.2,374.1 603.8,373.2 606.3,373.6 608.8,375.1 611.4,377.4 613.9,379.5 616.5,378.0 619.0,375.8 621.6,373.9 624.1,375.1 626.7,375.6 629.2,374.8 631.8,373.8 634.3,373.5 636.9,373.7 639.4,373.6 642.0,372.9 644.5,370.5 647.1,368.4 649.6,365.5 652.2,364.2 654.8,363.6 657.3,363.4 659.8,363.5 662.4,362.1 664.9,362.5 667.5,362.6 670.0,362.6 672.6,363.7 675.1,364.1 677.7,362.7 680.2,362.2 682.8,364.1 685.3,365.8 687.9,366.7 690.4,368.1 693.0,368.9 695.5,367.5 698.1,368.8 700.6,369.5 703.2,368.6 705.8,369.9 708.3,370.7 710.8,371.1 713.4,372.0 715.9,372.6 718.5,373.2 721.0,373.9 723.6,373.9 726.1,371.2 728.7,369.6 731.2,369.7 733.8,369.9 736.3,371.4 738.9,370.5 741.4,371.2 744.0,372.5 746.5,374.1 749.1,374.5 751.6,376.4 754.2,376.8 756.8,375.5 759.3,375.9 761.8,377.3 764.4,378.2 766.9,376.9 769.5,377.5 772.0,379.5 774.6,383.0 777.1,386.0 779.7,387.6 782.2,390.2 784.8,393.2 787.3,395.2 789.9,395.7 792.4,393.5 795.0,392.5 797.5,392.0 800.1,390.8 802.6,390.6 805.2,391.9 807.8,393.6 810.3,396.5 812.8,396.3 815.4,396.8 817.9,396.8 820.5,397.3 823.0,398.9 825.6,401.2 828.1,404.7 830.7,408.0 833.2,408.4 835.8,408.8 838.3,409.6 840.9,410.8 843.4,411.1 846.0,411.1 848.5,411.1 851.1,411.2 853.6,412.2 856.2,413.8 858.8,414.8 861.3,412.1 863.8,409.7 866.4,407.1 868.9,405.1 871.5,403.1 874.0,403.4 876.6,403.0 879.1,403.5 881.7,403.9 884.2,403.4 886.8,401.8 889.3,403.0 891.9,404.4 894.4,403.0 897.0,404.0 899.5,402.7 902.1,400.6 904.6,398.7 907.2,397.2 909.7,396.3 912.3,393.2 914.8,390.8 917.4,389.1 919.9,390.1 922.5,389.6 925.0,390.2 927.6,391.7 930.1,392.3 932.7,392.0 935.2,393.4 937.8,393.7 940.3,395.6 942.9,396.6 945.4,394.5 948.0,392.1 950.5,389.0 953.1,388.1 955.6,388.9 958.2,387.9 960.7,387.5 963.3,387.3 965.8,387.6 968.4,387.5 970.9,385.5 973.5,385.9 976.0,384.5 978.6,383.4 981.1,382.7 983.7,383.0 986.2,381.7"/>
<polyline points="55.5,398.4 58.0,396.7 60.6,394.0 63.1,391.9 65.7,391.5 68.2,392.5 70.8,393.5 73.3,393.4 75.9,393.2 78.5,395.8 81.0,397.2 83.5,398.5 86.1,398.2 88.7,397.4 91.2,396.4 93.8,395.3 96.3,394.1 98.8,392.6 101.4,390.5 103.9,391.3 106.5,392.1 109.0,393.0 111.6,392.1 114.2,390.3 116.7,389.3 119.2,385.5 121.8,384.4 124.3,383.6 126.9,380.8 129.4,378.6 132.0,374.2 134.6,369.4 137.1,364.4 139.6,363.1 142.2,360.4 144.8,355.7 147.3,352.7 149.8,350.2 152.4,348.6 154.9,347.6 157.5,347.8 160.1,347.2 162.6,347.0 165.1,346.3 167.7,344.7 170.2,344.7 172.8,346.1 175.3,346.2 177.9,346.3 180.4,345.0 183.0,344.2 185.5,342.5 188.1,340.1 190.6,341.0 193.2,340.2 195.8,338.7 198.3,336.6 200.8,336.0 203.4,335.4 205.9,335.8 208.5,336.2 211.0,336.5 213.6,339.4 216.1,339.2 218.7,337.4 221.2,335.5 223.8,333.0 226.3,332.2 228.9,334.1 231.4,337.3 234.0,338.4 236.5,340.9 239.1,339.6 241.6,339.1 244.2,338.7 246.8,337.5 249.3,336.7 251.8,335.5 254.4,335.0 256.9,334.6 259.5,334.1 262.0,332.8 264.6,333.5 267.1,332.7 269.7,334.8 272.2,333.7 274.8,330.2 277.4,326.3 279.9,324.4 282.4,321.9 285.0,319.5 287.5,317.8 290.1,317.2 292.6,317.5 295.2,319.3 297.8,322.0 300.3,323.2 302.9,322.8 305.4,324.3 307.9,325.7 310.5,327.0 313.0,329.5 315.6,332.2 318.1,334.7 320.7,336.2 323.2,336.3 325.8,335.7 328.3,334.1 330.9,334.3 333.4,335.1 336.0,336.1 338.5,338.0 341.1,338.0 343.6,337.3 346.2,338.6 348.8,340.2 351.3,342.1 353.8,342.0 356.4,340.6 358.9,339.2 361.5,339.8 364.0,343.2 366.6,345.9 369.1,347.7 371.7,348.3 374.2,346.3 376.8,345.2 379.3,347.8 381.9,350.9 384.4,353.3 387.0,354.1 389.5,356.3 392.1,358.6 394.6,361.5 397.2,362.9 399.8,361.8 402.3,360.8 404.8,360.4 407.4,358.9 409.9,358.9 412.5,357.7 415.0,357.0 417.6,356.4 420.1,358.2 422.7,357.0 425.2,355.1 427.8,353.8 430.3,352.8 432.9,354.8 435.4,356.8 438.0,358.8 440.5,361.1 443.1,365.0 445.6,368.9 448.2,370.7 450.8,372.5 453.3,375.2 455.8,377.7 458.4,380.4 460.9,384.2 463.5,384.9 466.0,388.6 468.6,387.8 471.1,384.2 473.7,382.1 476.2,379.1 478.8,376.2 481.3,375.5 483.9,376.0 486.4,374.6 489.0,370.7 491.5,365.8 494.1,363.0 496.6,362.0 499.2,363.0 501.7,363.9 504.3,365.5 506.8,365.1 509.4,365.9 511.9,368.6 514.5,373.5 517.0,376.2 519.6,378.4 522.1,377.9 524.7,377.8 527.2,377.0 529.8,377.2 532.3,375.4 534.9,373.1 537.5,370.3 540.0,365.7 542.5,362.3 545.1,357.9 547.6,353.6 550.2,350.3 552.8,346.7 555.3,345.6 557.8,345.8 560.4,346.7 563.0,350.5 565.5,352.4 568.0,351.2 570.6,350.7 573.1,351.1 575.7,351.4 578.2,351.4 580.8,351.3 583.3,351.6 585.9,353.2 588.4,353.7 591.0,355.8 593.5,358.9 596.1,362.9 598.6,365.5 601.2,368.3 603.8,371.3 606.3,372.9 608.8,375.1 611.4,376.0 613.9,378.5 616.5,381.9 619.0,385.6 621.6,389.8 624.1,391.9 626.7,392.5 629.2,393.8 631.8,395.9 634.3,396.3 636.9,396.3 639.4,395.0 642.0,392.9 644.5,394.1 647.1,397.3 649.6,398.8 652.2,399.5 654.8,400.3 657.3,400.0 659.8,399.8 662.4,398.5 664.9,395.8 667.5,395.2 670.0,394.8 672.6,395.8 675.1,394.4 677.7,392.7 680.2,393.0 682.8,393.8 685.3,396.0 687.9,395.7 690.4,394.6 693.0,392.1 695.5,391.0 698.1,392.3 700.6,393.9 703.2,396.1 705.8,399.5 708.3,400.3 710.8,401.4 713.4,401.7 715.9,400.8 718.5,400.4 721.0,401.9 723.6,403.5 726.1,403.5 728.7,403.7 731.2,403.2 733.8,401.8 736.3,401.9 738.9,403.3 741.4,404.2 744.0,405.2 746.5,404.7 749.1,406.7 751.6,406.6 754.2,409.0 756.8,410.1 759.3,413.3 761.8,416.2 764.4,418.2 766.9,419.7 769.5,421.6 772.0,421.8 774.6,422.1 777.1,423.5 779.7,423.6 782.2,422.4 784.8,422.0 787.3,420.2 789.9,419.3 792.4,417.7 795.0,418.7 797.5,417.7 800.1,414.6 802.6,410.2 805.2,408.4 807.8,406.9 810.3,407.3 812.8,407.3 815.4,407.7 817.9,409.1 820.5,408.6 823.0,407.8 825.6,408.2 828.1,409.9 830.7,412.7 833.2,413.9 835.8,411.7 838.3,408.9 840.9,406.7 843.4,403.4 846.0,402.4 848.5,402.5 851.1,405.1 853.6,404.5 856.2,404.6 858.8,406.8 861.3,409.3 863.8,411.0 866.4,414.8 868.9,417.9 871.5,420.3 874.0,421.4 876.6,422.2 879.1,423.0 881.7,423.4 884.2,425.4 886.8,425.8 889.3,425.1 891.9,422.8 894.4,421.6 897.0,420.7 899.5,416.7 902.1,411.8 904.6,409.6 907.2,407.5 909.7,404.5 912.3,404.2 914.8,402.3 917.4,404.2 919.9,405.6 922.5,407.0 925.0,406.8 927.6,405.9 930.1,407.0 932.7,406.5 935.2,408.7 937.8,411.0 940.3,410.8 942.9,409.5 945.4,407.3 948.0,405.5 950.5,402.8 953.1,399.8 955.6,400.2 958.2,400.9 960.7,400.5 963.3,395.7 965.8,392.5 968.4,390.5 970.9,388.0 973.5,386.0 976.0,384.1 978.6,381.4 981.1,376.7 983.7,373.4 986.2,373.3"/>
<polyline points="55.5,422.5 58.0,421.0 60.6,420.7 63.1,420.0 65.7,416.2 68.2,412.1 70.8,411.7 73.3,411.7 75.9,411.0 78.5,409.5 81.0,408.9 83.5,407.0 86.1,405.8 88.7,405.0 91.2,404.7 93.8,403.6 96.3,403.9 98.8,403.2 101.4,403.5 103.9,403.5 106.5,404.2 109.0,404.1 111.6,402.7 114.2,399.3 116.7,396.8 119.2,395.0 121.8,395.7 124.3,395.9 126.9,395.6 129.4,393.3 132.0,389.7 134.6,385.6 137.1,382.7 139.6,381.3 142.2,378.6 144.8,376.7 147.3,374.6 149.8,373.5 152.4,373.2 154.9,372.0 157.5,371.9 160.1,370.5 162.6,371.3 165.1,371.1 167.7,369.6 170.2,365.6 172.8,362.8 175.3,361.0 177.9,359.6 180.4,359.2 183.0,358.2 185.5,356.1 188.1,355.5 190.6,357.1 193.2,357.5 195.8,357.3 198.3,357.1 200.8,355.1 203.4,353.3 205.9,352.1 208.5,352.4 211.0,352.1 213.6,353.9 216.1,354.9 218.7,355.2 221.2,355.4 223.8,357.0 226.3,356.9 228.9,356.9 231.4,357.8 234.0,358.8 236.5,359.4 239.1,359.1 241.6,359.4 244.2,357.4 246.8,354.3 249.3,353.4 251.8,353.1 254.4,351.2 256.9,349.4 259.5,347.7 262.0,345.9 264.6,343.5 267.1,343.2 269.7,342.3 272.2,342.2 274.8,341.8 277.4,339.9 279.9,340.2 282.4,339.4 285.0,340.1 287.5,340.9 290.1,340.0 292.6,340.4 295.2,342.7 297.8,344.4 300.3,348.0 302.9,349.9 305.4,350.3 307.9,349.9 310.5,352.2 313.0,352.0 315.6,350.4 318.1,350.8 320.7,351.1 323.2,349.8 325.8,349.5 328.3,348.9 330.9,349.8 333.4,351.0 336.0,350.9 338.5,349.2 341.1,348.7 343.6,349.3 346.2,349.4 348.8,348.7 351.3,348.1 353.8,347.1 356.4,346.3 358.9,345.5 361.5,344.9 364.0,344.5 366.6,343.4 369.1,344.1 371.7,344.8 374.2,345.0 376.8,346.7 379.3,349.4 381.9,351.3 384.4,352.9 387.0,352.5 389.5,353.2 392.1,353.5 394.6,353.5 397.2,354.0 399.8,352.5 402.3,349.8 404.8,348.7 407.4,347.6 409.9,347.8 412.5,348.5 415.0,350.6 417.6,352.7 420.1,354.4 422.7,355.2 425.2,356.1 427.8,355.6 430.3,357.1 432.9,359.5 435.4,362.2 438.0,365.7 440.5,368.0 443.1,371.3 445.6,372.9 448.2,374.7 450.8,378.3 453.3,380.1 455.8,380.3 458.4,382.4 460.9,385.2 463.5,385.7 466.0,386.9 468.6,387.2 471.1,386.2 473.7,386.8 476.2,387.3 478.8,387.5 481.3,388.7 483.9,387.9 486.4,388.9 489.0,390.9 491.5,389.5 494.1,388.2 496.6,386.8 499.2,386.4 501.7,384.5 504.3,383.8 506.8,383.7 509.4,384.9 511.9,386.8 514.5,388.5 517.0,387.8 519.6,387.1 522.1,387.1 524.7,384.5 527.2,382.5 529.8,380.5 532.3,378.2 534.9,375.9 537.5,374.0 540.0,374.9 542.5,374.1 545.1,373.3 547.6,371.9 550.2,371.9 552.8,373.2 555.3,374.1 557.8,372.2 560.4,371.2 563.0,371.6 565.5,373.0 568.0,372.9 570.6,372.6 573.1,371.8 575.7,368.9 578.2,368.6 580.8,368.2 583.3,367.5 585.9,365.9 588.4,365.0 591.0,364.2 593.5,363.3 596.1,362.9 598.6,360.6 601.2,360.1 603.8,360.2 606.3,360.1 608.8,361.0 611.4,360.9 613.9,361.2 616.5,359.4 619.0,358.1 621.6,358.2 624.1,357.0 626.7,356.7 629.2,357.6 631.8,357.4 634.3,356.6 636.9,357.1 639.4,358.2 642.0,359.0 644.5,359.6 647.1,361.2 649.6,361.1 652.2,359.9 654.8,360.7 657.3,362.3 659.8,362.7 662.4,362.6 664.9,364.2 667.5,366.2 670.0,367.5 672.6,368.8 675.1,369.8 677.7,372.5 680.2,376.2 682.8,379.7 685.3,382.6 687.9,386.7 690.4,390.5 693.0,394.4 695.5,395.9 698.1,395.9 700.6,397.4 703.2,398.6 705.8,396.5 708.3,394.9 710.8,393.4 713.4,393.6 715.9,394.8 718.5,397.9 721.0,400.3 723.6,401.4 726.1,401.6 728.7,403.9 731.2,404.7 733.8,405.6 736.3,405.1 738.9,405.6 741.4,408.8 744.0,411.6 746.5,417.4 749.1,421.9 751.6,425.0 754.2,424.7 756.8,422.7 759.3,421.4 761.8,422.0 764.4,422.8 766.9,422.8 769.5,422.9 772.0,422.0 774.6,423.2 777.1,425.6 779.7,425.7 782.2,427.0 784.8,427.0 787.3,425.5 789.9,423.8 792.4,423.9 795.0,425.4 797.5,426.3 800.1,427.9 802.6,431.9 805.2,436.3 807.8,439.3 810.3,441.0 812.8,439.3 815.4,438.2 817.9,436.8 820.5,438.0 823.0,437.1 825.6,437.1 828.1,434.8 830.7,432.5 833.2,431.2 835.8,431.8 838.3,435.0 840.9,438.4 843.4,440.7 846.0,443.3 848.5,445.1 851.1,444.2 853.6,443.7 856.2,445.9 858.8,447.8 861.3,447.4 863.8,447.4 866.4,447.8 868.9,446.5 871.5,447.0 874.0,447.5 876.6,447.5 879.1,446.3 881.7,446.7 884.2,447.5 886.8,450.0 889.3,449.3 891.9,448.6 894.4,449.3 897.0,450.5 899.5,451.7 902.1,453.8 904.6,456.6 907.2,459.1 909.7,460.8 912.3,459.0 914.8,456.5 917.4,454.8 919.9,453.3 922.5,452.3 925.0,451.9 927.6,450.2 930.1,447.8 932.7,448.1 935.2,449.5 937.8,450.6 940.3,452.4 942.9,452.7 945.4,453.4 948.0,452.6 950.5,449.1 953.1,446.8 955.6,446.1 958.2,440.8 960.7,436.3 963.3,432.7 965.8,430.5 968.4,429.9 970.9,428.1 973.5,427.6 976.0,426.4 978.6,425.3 981.1,424.8 983.7,423.8 986.2,421.7"/>
<polyline points="55.5,370.7 58.0,370.3 60.6,372.8 63.1,375.4 65.7,376.8 68.2,376.3 70.8,378.4 73.3,380.0 75.9,381.9 78.5,382.6 81.0,382.7 83.5,383.7 86.1,384.3 88.7,386.0 91.2,385.8 93.8,380.6 96.3,378.3 98.8,376.7 101.4,374.3 103.9,374.1 106.5,373.4 109.0,372.4 111.6,371.8 114.2,369.9 116.7,367.5 119.2,365.9 121.8,360.0 124.3,356.5 126.9,356.1 129.4,356.2 132.0,355.5 134.6,355.6 137.1,355.6 139.6,357.2 142.2,358.6 144.8,357.4 147.3,353.8 149.8,350.7 152.4,348.4 154.9,345.0 157.5,340.5 160.1,337.0 162.6,332.4 165.1,328.9 167.7,325.6 170.2,326.1 172.8,327.0 175.3,327.5 177.9,329.9 180.4,332.8 183.0,333.5 185.5,332.4 188.1,332.2 190.6,333.1 193.2,332.8 195.8,330.1 198.3,328.2 200.8,328.3 203.4,326.9 205.9,327.0 208.5,326.8 211.0,326.1 213.6,329.5 216.1,334.0 218.7,336.3 221.2,337.7 223.8,339.7 226.3,340.6 228.9,342.2 231.4,341.3 234.0,341.3 236.5,339.4 239.1,339.2 241.6,336.5 244.2,336.4 246.8,333.2 249.3,333.8 251.8,335.5 254.4,336.5 256.9,337.2 259.5,337.3 262.0,336.4 264.6,337.2 267.1,336.7 269.7,335.2 272.2,333.3 274.8,330.0 277.4,328.3 279.9,327.2 282.4,328.9 285.0,330.9 287.5,331.8 290.1,332.0 292.6,334.0 295.2,333.1 297.8,332.2 300.3,332.9 302.9,334.6 305.4,337.3 307.9,342.2 310.5,344.6 313.0,346.0 315.6,347.1 318.1,348.8 320.7,346.5 323.2,346.3 325.8,349.1 328.3,350.5 330.9,351.1 333.4,353.1 336.0,353.2 338.5,352.2 341.1,352.2 343.6,351.2 346.2,354.5 348.8,357.7 351.3,362.0 353.8,365.5 356.4,368.7 358.9,368.2 361.5,365.6 364.0,360.7 366.6,355.7 369.1,351.8 371.7,350.3 374.2,349.0 376.8,349.9 379.3,351.6 381.9,354.8 384.4,358.5 387.0,360.8 389.5,363.2 392.1,366.9 394.6,370.0 397.2,372.9 399.8,376.7 402.3,379.0 404.8,380.9 407.4,380.8 409.9,380.1 412.5,380.9 415.0,382.3 417.6,383.6 420.1,386.1 422.7,390.7 425.2,394.5 427.8,396.8 430.3,396.1 432.9,397.3 435.4,399.0 438.0,402.6 440.5,406.0 443.1,409.5 445.6,410.1 448.2,411.9 450.8,412.0 453.3,413.5 455.8,416.4 458.4,418.3 460.9,420.2 463.5,417.6 466.0,416.5 468.6,417.2 471.1,417.0 473.7,414.4 476.2,412.3 478.8,410.7 481.3,409.3 483.9,408.6 486.4,408.0 489.0,407.6 491.5,405.1 494.1,404.7 496.6,403.0 499.2,399.5 501.7,397.1 504.3,392.5 506.8,390.7 509.4,389.9 511.9,389.7 514.5,391.1 517.0,391.2 519.6,392.1 522.1,395.2 524.7,397.4 527.2,398.3 529.8,398.1 532.3,400.3 534.9,399.8 537.5,400.5 540.0,401.8 542.5,403.1 545.1,404.3 547.6,403.7 550.2,405.4 552.8,407.8 555.3,407.2 557.8,406.0 560.4,405.5 563.0,406.7 565.5,404.7 568.0,401.8 570.6,399.5 573.1,397.8 575.7,398.7 578.2,398.4 580.8,397.3 583.3,396.4 585.9,396.2 588.4,396.8 591.0,396.9 593.5,396.9 596.1,395.4 598.6,393.3 601.2,395.0 603.8,394.1 606.3,395.5 608.8,398.9 611.4,398.6 613.9,398.1 616.5,398.6 619.0,397.0 621.6,395.8 624.1,394.1 626.7,391.8 629.2,391.9 631.8,390.4 634.3,388.6 636.9,387.7 639.4,386.7 642.0,383.6 644.5,382.9 647.1,381.6 649.6,379.7 652.2,378.5 654.8,378.0 657.3,378.9 659.8,381.5 662.4,384.3 664.9,387.5 667.5,389.9 670.0,390.4 672.6,387.1 675.1,383.8 677.7,380.5 680.2,378.3 682.8,377.6 685.3,378.5 687.9,379.7 690.4,379.6 693.0,378.2 695.5,378.0 698.1,378.9 700.6,377.7 703.2,377.5 705.8,376.8 708.3,377.8 710.8,381.8 713.4,387.5 715.9,391.8 718.5,396.0 721.0,399.9 723.6,401.7 726.1,400.4 728.7,398.1 731.2,395.0 733.8,392.9 736.3,392.6 738.9,393.8 741.4,394.6 744.0,397.1 746.5,401.6 749.1,404.9 751.6,407.7 754.2,411.0 756.8,413.1 759.3,417.8 761.8,421.6 764.4,425.8 766.9,426.6 769.5,429.0 772.0,430.9 774.6,431.3 777.1,430.1 779.7,429.7 782.2,430.0 784.8,427.7 787.3,426.4 789.9,425.0 792.4,424.7 795.0,426.0 797.5,427.7 800.1,428.3 802.6,430.4 805.2,430.6 807.8,431.1 810.3,430.9 812.8,431.7 815.4,434.1 817.9,435.1 820.5,436.3 823.0,437.4 825.6,438.4 828.1,439.6 830.7,441.2 833.2,441.3 835.8,443.4 838.3,444.0 840.9,446.8 843.4,448.5 846.0,449.0 848.5,449.6 851.1,449.9 853.6,448.7 856.2,446.7 858.8,443.4 861.3,442.8 863.8,442.0 866.4,441.6 868.9,443.2 871.5,442.0 874.0,439.4 876.6,437.1 879.1,436.4 881.7,436.2 884.2,436.3 886.8,435.9 889.3,436.1 891.9,436.2 894.4,431.8 897.0,429.6 899.5,427.8 902.1,427.1 904.6,428.1 907.2,430.4 909.7,430.5 912.3,432.8 914.8,434.4 917.4,434.0 919.9,432.6 922.5,430.2 925.0,427.5 927.6,426.7 930.1,425.6 932.7,424.9 935.2,422.9 937.8,421.2 940.3,423.2 942.9,423.2 945.4,420.6 948.0,417.0 950.5,414.3 953.1,411.6 955.6,406.0 958.2,402.6 960.7,397.8 963.3,393.8 965.8,389.1 968.4,384.4 970.9,383.1 973.5,381.7 976.0,382.4 978.6,383.9 981.1,387.6 983.7,391.4 986.2,396.3"/>
<polyline points="55.5,413.7 58.0,412.5 60.6,410.7 63.1,408.1 65.7,405.9 68.2,403.2 70.8,401.7 73.3,401.4 75.9,400.8 78.5,400.5 81.0,400.0 83.5,399.5 86.1,397.8 88.7,397.2 91.2,396.8 93.8,396.6 96.3,396.7 98.8,395.9 101.4,392.3 103.9,390.3 106.5,389.1 109.0,387.6 111.6,387.4 114.2,387.4 116.7,389.1 119.2,390.6 121.8,390.8 124.3,388.3 126.9,384.6 129.4,381.1 132.0,378.3 134.6,375.0 137.1,371.1 139.6,366.7 142.2,363.3 144.8,359.5 147.3,356.3 149.8,353.9 152.4,352.5 154.9,350.2 157.5,350.1 160.1,348.0 162.6,343.9 165.1,340.7 167.7,337.3 170.2,333.6 172.8,330.1 175.3,326.8 177.9,325.2 180.4,322.0 183.0,319.0 185.5,316.2 188.1,313.8 190.6,310.9 193.2,310.1 195.8,309.7 198.3,308.1 200.8,308.4 203.4,308.0 205.9,308.7 208.5,309.7 211.0,311.0 213.6,310.7 216.1,309.4 218.7,310.7 221.2,314.0 223.8,318.0 226.3,320.9 228.9,321.8 231.4,322.4 234.0,322.7 236.5,322.8 239.1,321.2 241.6,319.4 244.2,318.8 246.8,318.8 249.3,319.0 251.8,319.7 254.4,322.5 256.9,324.8 259.5,325.6 262.0,326.8 264.6,329.3 267.1,332.1 269.7,336.8 272.2,339.1 274.8,341.1 277.4,342.2 279.9,342.6 282.4,342.4 285.0,343.7 287.5,345.3 290.1,345.1 292.6,345.0 295.2,345.5 297.8,347.3 300.3,349.1 302.9,351.0 305.4,353.3 307.9,353.9 310.5,354.3 313.0,353.6 315.6,351.1 318.1,348.7 320.7,345.9 323.2,344.1 325.8,344.1 328.3,344.1 330.9,345.3 333.4,346.8 336.0,347.6 338.5,347.3 341.1,346.1 343.6,344.9 346.2,344.4 348.8,346.0 351.3,346.3 353.8,346.8 356.4,347.3 358.9,349.3 361.5,351.5 364.0,353.7 366.6,356.0 369.1,358.1 371.7,358.4 374.2,357.7 376.8,358.5 379.3,360.0 381.9,360.2 384.4,358.9 387.0,359.3 389.5,359.5 392.1,361.5 394.6,362.6 397.2,363.6 399.8,365.1 402.3,366.9 404.8,369.4 407.4,372.7 409.9,376.6 412.5,379.4 415.0,382.0 417.6,383.2 420.1,385.6 422.7,388.5 425.2,390.6 427.8,394.0 430.3,396.5 432.9,396.0 435.4,394.8 438.0,394.6 440.5,393.9 443.1,393.5 445.6,393.5 448.2,394.7 450.8,396.9 453.3,398.3 455.8,398.9 458.4,399.8 460.9,400.9 463.5,400.7 466.0,402.5 468.6,402.7 471.1,401.4 473.7,401.4 476.2,402.4 478.8,403.5 481.3,403.2 483.9,399.8 486.4,396.4 489.0,394.1 491.5,392.6 494.1,391.1 496.6,388.6 499.2,388.2 501.7,389.4 504.3,388.2 506.8,387.6 509.4,387.3 511.9,385.4 514.5,383.3 517.0,382.1 519.6,379.8 522.1,377.9 524.7,377.9 527.2,378.8 529.8,378.1 532.3,378.7 534.9,379.4 537.5,380.7 540.0,382.0 542.5,382.9 545.1,382.3 547.6,381.8 550.2,381.7 552.8,383.0 555.3,383.6 557.8,382.5 560.4,383.6 563.0,384.5 565.5,384.3 568.0,384.8 570.6,383.4 573.1,381.7 575.7,379.1 578.2,374.7 580.8,372.9 583.3,373.1 585.9,371.8 588.4,370.7 591.0,369.4 593.5,368.6 596.1,368.2 598.6,369.2 601.2,370.1 603.8,372.0 606.3,374.8 608.8,376.6 611.4,376.8 613.9,379.3 616.5,378.5 619.0,377.5 621.6,376.0 624.1,374.4 626.7,371.1 629.2,369.0 631.8,368.3 634.3,364.6 636.9,362.5 639.4,361.4 642.0,360.8 644.5,358.2 647.1,355.8 649.6,353.2 652.2,349.9 654.8,346.4 657.3,343.7 659.8,342.0 662.4,342.6 664.9,343.1 667.5,342.2 670.0,342.4 672.6,342.0 675.1,343.5 677.7,345.1 680.2,345.7 682.8,345.2 685.3,346.8 687.9,347.3 690.4,348.6 693.0,349.8 695.5,351.0 698.1,352.4 700.6,354.7 703.2,356.3 705.8,357.8 708.3,358.9 710.8,360.4 713.4,362.5 715.9,362.9 718.5,362.6 721.0,363.0 723.6,362.8 726.1,362.5 728.7,363.4 731.2,363.1 733.8,363.2 736.3,360.9 738.9,360.0 741.4,360.3 744.0,360.7 746.5,362.3 749.1,363.9 751.6,365.6 754.2,369.1 756.8,372.1 759.3,374.5 761.8,376.5 764.4,378.1 766.9,379.4 769.5,381.7 772.0,384.2 774.6,387.0 777.1,390.4 779.7,393.5 782.2,395.0 784.8,394.5 787.3,395.8 789.9,395.5 792.4,398.4 795.0,398.6 797.5,398.4 800.1,397.8 802.6,400.5 805.2,404.2 807.8,407.6 810.3,410.4 812.8,412.8 815.4,414.5 817.9,416.5 820.5,420.9 823.0,424.8 825.6,428.4 828.1,431.3 830.7,434.4 833.2,437.2 835.8,440.4 838.3,441.5 840.9,442.8 843.4,444.1 846.0,443.3 848.5,442.5 851.1,441.5 853.6,441.2 856.2,440.0 858.8,439.2 861.3,440.2 863.8,439.4 866.4,439.2 868.9,440.0 871.5,440.4 874.0,440.3 876.6,438.7 879.1,438.2 881.7,436.2 884.2,435.7 886.8,435.3 889.3,436.8 891.9,439.8 894.4,440.7 897.0,440.8 899.5,440.7 902.1,439.2 904.6,438.3 907.2,438.0 909.7,436.7 912.3,435.9 914.8,435.7 917.4,434.1 919.9,431.3 922.5,429.3 925.0,428.5 927.6,429.1 930.1,429.3 932.7,430.3 935.2,430.8 937.8,430.9 940.3,430.0 942.9,429.9 945.4,428.8 948.0,428.6 950.5,429.6 953.1,428.9 955.6,428.3 958.2,426.9 960.7,426.7 963.3,425.6 965.8,421.6 968.4,419.0 970.9,417.3 973.5,416.6 976.0,414.8 978.6,414.4 981.1,414.1 983.7,416.4 986.2,419.3"/>
<polyline points="55.5,411.6 58.0,413.0 60.6,413.5 63.1,415.1 65.7,415.5 68.2,415.6 70.8,416.3 73.3,417.3 75.9,417.2 78.5,417.2 81.0,417.6 83.5,415.6 86.1,413.2 88.7,410.8 91.2,411.6 93.8,410.3 96.3,409.0 98.8,409.6 101.4,410.0 103.9,410.1 106.5,411.1 109.0,410.4 111.6,409.7 114.2,408.4 116.7,407.5 119.2,406.8 121.8,405.2 124.3,402.2 126.9,400.1 129.4,399.5 132.0,397.1 134.6,392.6 137.1,389.9 139.6,386.8 142.2,386.4 144.8,387.2 147.3,389.7 149.8,391.3 152.4,391.7 154.9,389.5 157.5,389.8 160.1,390.0 162.6,389.4 165.1,388.4 167.7,386.0 170.2,384.2 172.8,382.8 175.3,382.7 177.9,383.8 180.4,383.2 183.0,381.6 185.5,381.2 188.1,379.5 190.6,378.8 193.2,377.3 195.8,375.6 198.3,373.1 200.8,371.6 203.4,371.0 205.9,369.8 208.5,367.7 211.0,365.7 213.6,364.0 216.1,363.1 218.7,363.6 221.2,363.8 223.8,363.6 226.3,363.5 228.9,363.1 231.4,361.5 234.0,359.6 236.5,358.8 239.1,359.0 241.6,359.8 244.2,357.3 246.8,356.6 249.3,357.0 251.8,356.3 254.4,357.2 256.9,358.1 259.5,357.0 262.0,356.6 264.6,360.6 267.1,364.4 269.7,368.5 272.2,370.7 274.8,372.0 277.4,373.0 279.9,372.8 282.4,372.3 285.0,370.6 287.5,369.6 290.1,369.6 292.6,371.9 295.2,373.9 297.8,374.1 300.3,373.9 302.9,371.6 305.4,370.5 307.9,370.7 310.5,370.9 313.0,370.0 315.6,368.9 318.1,368.3 320.7,366.5 323.2,364.6 325.8,364.9 328.3,365.1 330.9,365.3 333.4,367.4 336.0,369.4 338.5,371.1 341.1,372.2 343.6,372.9 346.2,375.7 348.8,375.1 351.3,375.1 353.8,375.4 356.4,375.9 358.9,378.7 361.5,381.0 364.0,382.7 366.6,382.7 369.1,382.6 371.7,382.4 374.2,384.9 376.8,386.0 379.3,386.8 381.9,389.2 384.4,391.3 387.0,392.4 389.5,394.4 392.1,397.5 394.6,400.4 397.2,402.2 399.8,403.1 402.3,402.3 404.8,403.0 407.4,403.8 409.9,402.5 412.5,402.4 415.0,401.7 417.6,401.1 420.1,401.7 422.7,401.1 425.2,400.8 427.8,398.5 430.3,396.1 432.9,397.2 435.4,397.9 438.0,399.2 440.5,401.7 443.1,404.7 445.6,406.6 448.2,408.0 450.8,409.0 453.3,409.8 455.8,410.1 458.4,410.5 460.9,411.8 463.5,412.7 466.0,413.9 468.6,414.2 471.1,415.6 473.7,416.5 476.2,419.2 478.8,421.5 481.3,422.9 483.9,421.6 486.4,422.1 489.0,422.7 491.5,423.8 494.1,421.9 496.6,420.8 499.2,419.9 501.7,419.6 504.3,419.7 506.8,420.4 509.4,420.8 511.9,420.3 514.5,419.9 517.0,420.7 519.6,420.6 522.1,421.5 524.7,423.8 527.2,425.1 529.8,426.7 532.3,427.1 534.9,427.9 537.5,427.8 540.0,429.3 542.5,427.7 545.1,424.4 547.6,422.9 550.2,420.1 552.8,418.2 555.3,414.9 557.8,412.4 560.4,409.0 563.0,406.2 565.5,404.5 568.0,404.2 570.6,405.2 573.1,406.2 575.7,406.1 578.2,404.5 580.8,402.5 583.3,401.7 585.9,399.5 588.4,396.9 591.0,393.1 593.5,390.4 596.1,388.3 598.6,385.8 601.2,384.3 603.8,384.8 606.3,384.7 608.8,384.8 611.4,385.1 613.9,385.6 616.5,383.9 619.0,383.5 621.6,382.7 624.1,381.8 626.7,381.6 629.2,381.2 631.8,381.6 634.3,382.1 636.9,383.7 639.4,386.1 642.0,386.1 644.5,386.2 647.1,386.5 649.6,386.6 652.2,386.7 654.8,384.9 657.3,384.0 659.8,384.1 662.4,383.6 664.9,384.4 667.5,385.3 670.0,386.6 672.6,387.7 675.1,387.2 677.7,386.3 680.2,386.6 682.8,386.7 685.3,386.9 687.9,387.9 690.4,388.9 693.0,388.7 695.5,387.4 698.1,386.1 700.6,385.0 703.2,384.9 705.8,383.1 708.3,382.7 710.8,383.7 713.4,385.3 715.9,386.8 718.5,387.1 721.0,387.4 723.6,387.8 726.1,388.9 728.7,388.5 731.2,390.2 733.8,392.9 736.3,394.9 738.9,396.9 741.4,400.3 744.0,403.0 746.5,406.1 749.1,406.4 751.6,407.8 754.2,409.3 756.8,410.4 759.3,412.7 761.8,415.2 764.4,419.4 766.9,423.3 769.5,425.3 772.0,425.8 774.6,426.2 777.1,425.4 779.7,424.5 782.2,421.3 784.8,419.0 787.3,417.4 789.9,415.7 792.4,413.4 795.0,414.1 797.5,414.8 800.1,416.6 802.6,417.1 805.2,416.3 807.8,417.4 810.3,419.0 812.8,418.7 815.4,418.2 817.9,417.8 820.5,418.2 823.0,417.6 825.6,416.6 828.1,415.5 830.7,416.5 833.2,417.0 835.8,417.9 838.3,418.0 840.9,419.3 843.4,420.1 846.0,421.6 848.5,423.3 851.1,424.9 853.6,427.4 856.2,430.1 858.8,430.7 861.3,430.5 863.8,430.8 866.4,432.3 868.9,430.8 871.5,430.0 874.0,430.4 876.6,429.4 879.1,428.1 881.7,425.7 884.2,423.0 886.8,421.8 889.3,419.6 891.9,417.2 894.4,417.1 897.0,417.3 899.5,419.1 902.1,420.3 904.6,420.5 907.2,422.9 909.7,424.5 912.3,425.3 914.8,427.8 917.4,429.4 919.9,432.5 922.5,434.1 925.0,433.1 927.6,431.6 930.1,432.8 932.7,433.3 935.2,432.2 937.8,431.5 940.3,429.1 942.9,425.7 945.4,423.3 948.0,421.6 950.5,419.6 953.1,417.1 955.6,415.2 958.2,414.4 960.7,413.4 963.3,411.4 965.8,410.1 968.4,407.7 970.9,406.0 973.5,405.5 976.0,405.0 978.6,405.1 981.1,404.9 983.7,405.7 986.2,405.2"/>
<polyline points="55.5,398.9 58.0,396.8 60.6,397.3 63.1,399.2 65.7,399.5 68.2,400.1 70.8,400.6 73.3,401.8 75.9,401.8 78.5,400.2 81.0,399.2 83.5,396.5 86.1,395.6 88.7,394.7 91.2,396.6 93.8,397.6 96.3,396.2 98.8,394.6 101.4,391.4 103.9,388.5 106.5,387.1 109.0,385.6 111.6,383.4 114.2,381.1 116.7,378.6 119.2,379.0 121.8,378.3 124.3,379.0 126.9,379.4 129.4,379.9 132.0,380.5 134.6,379.9 137.1,380.9 139.6,380.4 142.2,381.3 144.8,379.5 147.3,377.9 149.8,375.7 152.4,372.8 154.9,368.0 157.5,365.0 160.1,361.2 162.6,355.1 165.1,352.3 167.7,347.1 170.2,342.5 172.8,338.5 175.3,335.8 177.9,334.1 180.4,332.0 183.0,330.8 185.5,330.8 188.1,331.4 190.6,333.2 193.2,335.1 195.8,336.6 198.3,337.1 200.8,337.3 203.4,336.8 205.9,337.3 208.5,337.9 211.0,338.1 213.6,339.7 216.1,340.3 218.7,339.7 221.2,337.4 223.8,335.1 226.3,332.9 228.9,330.4 231.4,328.8 234.0,329.1 236.5,329.1 239.1,327.9 241.6,326.5 244.2,324.9 246.8,324.0 249.3,321.7 251.8,322.1 254.4,323.0 256.9,323.8 259.5,322.4 262.0,321.1 264.6,321.0 267.1,318.9 269.7,318.0 272.2,315.7 274.8,316.4 277.4,317.3 279.9,320.2 282.4,322.4 285.0,325.2 287.5,326.5 290.1,326.7 292.6,325.5 295.2,325.5 297.8,326.4 300.3,325.8 302.9,328.1 305.4,331.7 307.9,335.8 310.5,340.1 313.0,343.4 315.6,346.0 318.1,347.2 320.7,346.7 323.2,346.1 325.8,346.2 328.3,344.7 330.9,343.4 333.4,342.4 336.0,341.6 338.5,340.0 341.1,338.6 343.6,338.0 346.2,338.5 348.8,338.1 351.3,338.7 353.8,339.0 356.4,340.0 358.9,343.0 361.5,345.4 364.0,348.3 366.6,350.2 369.1,350.8 371.7,352.5 374.2,353.9 376.8,355.9 379.3,358.9 381.9,362.1 384.4,361.9 387.0,362.2 389.5,362.6 392.1,363.4 394.6,365.7 397.2,368.9 399.8,373.3 402.3,376.1 404.8,377.5 407.4,376.4 409.9,375.6 412.5,373.9 415.0,372.6 417.6,373.0 420.1,373.3 422.7,373.6 425.2,371.4 427.8,371.1 430.3,372.3 432.9,372.5 435.4,375.4 438.0,380.0 440.5,382.8 443.1,386.1 445.6,389.7 448.2,395.0 450.8,398.5 453.3,400.8 455.8,403.9 458.4,408.3 460.9,413.6 463.5,417.3 466.0,419.6 468.6,421.3 471.1,422.0 473.7,420.9 476.2,421.9 478.8,423.3 481.3,423.7 483.9,423.4 486.4,420.4 489.0,419.4 491.5,421.0 494.1,423.6 496.6,422.9 499.2,424.0 501.7,424.0 504.3,423.1 506.8,421.8 509.4,420.7 511.9,419.8 514.5,417.4 517.0,415.1 519.6,412.9 522.1,411.1 524.7,410.4 527.2,408.4 529.8,406.9 532.3,404.7 534.9,403.4 537.5,402.5 540.0,402.2 542.5,401.6 545.1,401.7 547.6,400.7 550.2,402.0 552.8,401.9 555.3,402.5 557.8,402.1 560.4,399.6 563.0,398.6 565.5,397.9 568.0,397.1 570.6,397.6 573.1,396.2 575.7,395.0 578.2,391.6 580.8,388.5 583.3,387.6 585.9,386.2 588.4,382.2 591.0,379.6 593.5,378.7 596.1,378.9 598.6,380.1 601.2,380.0 603.8,377.9 606.3,375.7 608.8,374.3 611.4,372.0 613.9,371.9 616.5,370.7 619.0,369.2 621.6,368.8 624.1,369.0 626.7,368.1 629.2,369.0 631.8,369.7 634.3,371.1 636.9,372.3 639.4,373.7 642.0,374.0 644.5,375.0 647.1,375.1 649.6,374.5 652.2,375.6 654.8,376.2 657.3,377.7 659.8,380.0 662.4,381.5 664.9,381.3 667.5,381.3 670.0,381.9 672.6,383.7 675.1,384.3 677.7,385.8 680.2,387.3 682.8,387.4 685.3,388.0 687.9,389.4 690.4,390.0 693.0,391.7 695.5,391.3 698.1,392.3 700.6,390.8 703.2,390.9 705.8,393.0 708.3,395.7 710.8,398.9 713.4,401.2 715.9,404.5 718.5,404.8 721.0,405.7 723.6,405.9 726.1,406.1 728.7,406.3 731.2,410.0 733.8,414.1 736.3,415.8 738.9,415.3 741.4,416.6 744.0,418.7 746.5,420.6 749.1,421.8 751.6,426.4 754.2,432.0 756.8,437.3 759.3,441.0 761.8,446.0 764.4,449.4 766.9,452.2 769.5,454.2 772.0,454.7 774.6,455.4 777.1,457.8 779.7,461.2 782.2,463.9 784.8,462.5 787.3,462.0 789.9,462.2 792.4,461.9 795.0,461.4 797.5,461.7 800.1,462.9 802.6,462.2 805.2,460.8 807.8,458.3 810.3,456.0 812.8,455.0 815.4,454.2 817.9,453.8 820.5,454.8 823.0,456.7 825.6,456.2 828.1,455.0 830.7,453.2 833.2,451.6 835.8,450.6 838.3,451.1 840.9,450.6 843.4,449.8 846.0,448.9 848.5,448.1 851.1,445.9 853.6,444.9 856.2,445.1 858.8,446.8 861.3,450.4 863.8,452.4 866.4,453.0 868.9,454.1 871.5,453.6 874.0,455.2 876.6,455.8 879.1,456.8 881.7,455.1 884.2,452.4 886.8,451.4 889.3,452.1 891.9,453.7 894.4,456.2 897.0,455.5 899.5,456.2 902.1,456.0 904.6,456.0 907.2,455.7 909.7,453.3 912.3,449.9 914.8,449.1 917.4,452.4 919.9,454.5 922.5,457.3 925.0,457.4 927.6,456.9 930.1,455.5 932.7,456.4 935.2,458.5 937.8,461.1 940.3,462.9 942.9,463.6 945.4,463.3 948.0,463.4 950.5,462.3 953.1,461.0 955.6,460.0 958.2,459.4 960.7,458.3 963.3,456.1 965.8,454.8 968.4,453.5 970.9,450.8 973.5,448.7 976.0,447.4 978.6,447.0 981.1,446.0 983.7,446.4 986.2,445.0"/>
<polyline points="55.5,439.5 58.0,434.9 60.6,432.7 63.1,430.3 65.7,427.0 68.2,424.4 70.8,423.0 73.3,420.8 75.9,421.3 78.5,421.3 81.0,420.7 83.5,418.2 86.1,418.9 88.7,416.4 91.2,415.7 93.8,414.4 96.3,415.7 98.8,416.6 101.4,414.2 103.9,411.1 106.5,410.4 109.0,411.2 111.6,411.9 114.2,411.2 116.7,408.8 119.2,408.4 121.8,408.1 124.3,405.9 126.9,401.7 129.4,397.4 132.0,395.3 134.6,391.2 137.1,389.5 139.6,388.1 142.2,386.0 144.8,384.1 147.3,385.6 149.8,388.4 152.4,387.9 154.9,387.3 157.5,388.0 160.1,389.0 162.6,388.3 165.1,387.7 167.7,387.2 170.2,387.7 172.8,387.8 175.3,386.1 177.9,383.9 180.4,380.8 183.0,376.9 185.5,373.4 188.1,366.5 190.6,363.1 193.2,357.6 195.8,354.1 198.3,351.5 200.8,347.1 203.4,345.6 205.9,345.1 208.5,343.6 211.0,342.3 213.6,343.2 216.1,343.0 218.7,341.9 221.2,341.5 223.8,344.2 226.3,344.6 228.9,345.5 231.4,346.7 234.0,349.0 236.5,348.8 239.1,349.3 241.6,349.8 244.2,350.7 246.8,352.5 249.3,354.3 251.8,355.1 254.4,356.3 256.9,359.3 259.5,359.4 262.0,359.6 264.6,354.6 267.1,349.5 269.7,347.9 272.2,345.7 274.8,347.8 277.4,349.0 279.9,350.5 282.4,350.3 285.0,351.3 287.5,350.6 290.1,348.6 292.6,349.4 295.2,351.5 297.8,352.4 300.3,354.5 302.9,356.8 305.4,359.2 307.9,361.1 310.5,361.7 313.0,360.5 315.6,361.1 318.1,360.2 320.7,359.9 323.2,358.2 325.8,357.3 328.3,355.9 330.9,354.4 333.4,354.4 336.0,355.6 338.5,359.1 341.1,359.0 343.6,358.3 346.2,358.7 348.8,362.2 351.3,365.1 353.8,366.9 356.4,366.5 358.9,366.2 361.5,366.3 364.0,365.8 366.6,368.5 369.1,370.7 371.7,376.0 374.2,381.1 376.8,382.0 379.3,380.9 381.9,381.2 384.4,381.9 387.0,385.4 389.5,386.9 392.1,388.9 394.6,390.3 397.2,390.4 399.8,389.4 402.3,391.1 404.8,392.6 407.4,392.5 409.9,391.4 412.5,393.2 415.0,393.2 417.6,393.0 420.1,391.7 422.7,391.7 425.2,394.1 427.8,394.5 430.3,395.2 432.9,395.3 435.4,393.0 438.0,390.5 440.5,386.2 443.1,383.5 445.6,384.2 448.2,384.6 450.8,386.1 453.3,388.5 455.8,391.0 458.4,394.3 460.9,394.1 463.5,393.3 466.0,392.8 468.6,392.0 471.1,392.1 473.7,395.1 476.2,400.1 478.8,402.1 481.3,404.8 483.9,407.4 486.4,406.5 489.0,406.6 491.5,408.8 494.1,410.3 496.6,412.5 499.2,416.9 501.7,421.9 504.3,422.6 506.8,424.9 509.4,422.2 511.9,421.4 514.5,419.5 517.0,419.1 519.6,421.0 522.1,421.5 524.7,419.8 527.2,417.7 529.8,415.1 532.3,413.3 534.9,410.6 537.5,407.6 540.0,405.2 542.5,401.9 545.1,400.9 547.6,400.2 550.2,400.2 552.8,403.8 555.3,404.0 557.8,403.8 560.4,401.6 563.0,398.1 565.5,396.3 568.0,395.2 570.6,393.5 573.1,392.0 575.7,391.0 578.2,388.6 580.8,384.0 583.3,380.1 585.9,378.7 588.4,376.9 591.0,375.2 593.5,373.9 596.1,373.5 598.6,370.6 601.2,370.5 603.8,370.9 606.3,369.6 608.8,369.1 611.4,369.6 613.9,367.6 616.5,365.8 619.0,365.9 621.6,367.8 624.1,368.8 626.7,369.4 629.2,370.8 631.8,373.8 634.3,375.5 636.9,373.9 639.4,371.2 642.0,368.3 644.5,366.9 647.1,369.0 649.6,371.9 652.2,372.9 654.8,374.6 657.3,374.8 659.8,375.0 662.4,374.8 664.9,374.4 667.5,373.7 670.0,373.6 672.6,375.6 675.1,377.7 677.7,379.2 680.2,382.2 682.8,385.3 685.3,387.7 687.9,390.9 690.4,393.0 693.0,393.6 695.5,393.3 698.1,393.7 700.6,393.1 703.2,392.0 705.8,392.0 708.3,392.8 710.8,395.2 713.4,397.3 715.9,399.2 718.5,404.1 721.0,407.7 723.6,409.7 726.1,413.0 728.7,417.7 731.2,422.2 733.8,424.5 736.3,427.1 738.9,428.6 741.4,430.4 744.0,430.0 746.5,431.4 749.1,433.2 751.6,433.9 754.2,433.3 756.8,433.7 759.3,433.5 761.8,431.3 764.4,431.2 766.9,434.2 769.5,438.6 772.0,440.0 774.6,440.8 777.1,442.1 779.7,442.0 782.2,444.2 784.8,446.5 787.3,452.1 789.9,457.9 792.4,461.6 795.0,463.4 797.5,461.9 800.1,459.5 802.6,459.6 805.2,459.8 807.8,458.0 810.3,454.6 812.8,452.1 815.4,451.6 817.9,452.2 820.5,450.7 823.0,453.4 825.6,453.7 828.1,450.8 830.7,446.7 833.2,445.8 835.8,446.1 838.3,445.9 840.9,445.9 843.4,444.7 846.0,443.6 848.5,444.0 851.1,444.8 853.6,444.7 856.2,442.9 858.8,442.4 861.3,442.0 863.8,442.7 866.4,444.1 868.9,445.1 871.5,447.5 874.0,448.5 876.6,450.2 879.1,451.1 881.7,451.9 884.2,456.0 886.8,457.6 889.3,459.0 891.9,461.9 894.4,465.1 897.0,467.5 899.5,469.1 902.1,467.7 904.6,468.6 907.2,466.3 909.7,465.9 912.3,465.8 914.8,464.4 917.4,463.2 919.9,464.6 922.5,462.2 925.0,461.4 927.6,460.8 930.1,461.1 932.7,463.0 935.2,464.5 937.8,466.5 940.3,466.4 942.9,465.7 945.4,465.2 948.0,465.8 950.5,464.3 953.1,462.9 955.6,460.5 958.2,458.0 960.7,456.7 963.3,455.8 965.8,455.3 968.4,455.0 970.9,451.7 973.5,448.3 976.0,446.6 978.6,445.9 981.1,444.8 983.7,440.1 986.2,437.2"/>
<polyline points="55.5,430.5 58.0,428.3 60.6,426.9 63.1,426.1 65.7,424.0 68.2,423.3 70.8,423.3 73.3,422.7 75.9,423.6 78.5,422.2 81.0,419.3 83.5,414.3 86.1,409.1 88.7,404.1 91.2,400.7 93.8,395.9 96.3,393.3 98.8,390.9 101.4,386.9 103.9,385.7 106.5,385.1 109.0,385.0 111.6,382.1 114.2,380.6 116.7,378.7 119.2,377.1 121.8,373.8 124.3,370.1 126.9,369.2 129.4,368.0 132.0,368.3 134.6,367.8 137.1,367.6 139.6,366.3 142.2,366.2 144.8,363.2 147.3,360.3 149.8,356.9 152.4,354.6 154.9,351.6 157.5,349.6 160.1,349.4 162.6,350.5 165.1,351.0 167.7,352.8 170.2,354.4 172.8,355.9 175.3,357.4 177.9,356.7 180.4,357.9 183.0,357.3 185.5,354.9 188.1,353.4 190.6,352.0 193.2,352.1 195.8,353.7 198.3,356.0 200.8,359.9 203.4,363.1 205.9,366.4 208.5,368.2 211.0,367.1 213.6,367.4 216.1,368.5 218.7,368.4 221.2,367.1 223.8,364.6 226.3,361.4 228.9,358.4 231.4,356.6 234.0,356.0 236.5,356.5 239.1,358.5 241.6,357.6 244.2,354.9 246.8,352.1 249.3,347.6 251.8,344.9 254.4,343.2 256.9,342.9 259.5,342.0 262.0,342.3 264.6,342.5 267.1,342.0 269.7,340.1 272.2,338.9 274.8,338.2 277.4,338.1 279.9,338.0 282.4,337.8 285.0,338.2 287.5,337.7 290.1,336.7 292.6,334.6 295.2,328.9 297.8,324.9 300.3,322.5 302.9,320.3 305.4,321.0 307.9,319.8 310.5,318.2 313.0,318.5 315.6,319.1 318.1,319.5 320.7,321.5 323.2,323.9 325.8,325.8 328.3,329.0 330.9,332.4 333.4,335.5 336.0,338.3 338.5,339.3 341.1,341.2 343.6,345.6 346.2,348.6 348.8,353.2 351.3,355.3 353.8,358.2 356.4,359.9 358.9,361.3 361.5,363.5 364.0,364.3 366.6,364.0 369.1,364.8 371.7,366.6 374.2,369.7 376.8,371.8 379.3,374.8 381.9,375.5 384.4,375.1 387.0,376.8 389.5,377.0 392.1,378.7 394.6,380.6 397.2,383.5 399.8,384.6 402.3,384.0 404.8,383.3 407.4,381.9 409.9,380.9 412.5,378.3 415.0,377.1 417.6,377.3 420.1,377.7 422.7,378.4 425.2,377.4 427.8,377.8 430.3,379.1 432.9,379.6 435.4,382.4 438.0,385.0 440.5,386.6 443.1,387.2 445.6,387.5 448.2,387.4 450.8,387.1 453.3,386.3 455.8,389.8 458.4,394.2 460.9,396.9 463.5,399.5 466.0,402.2 468.6,405.7 471.1,407.2 473.7,407.9 476.2,408.8 478.8,407.9 481.3,405.6 483.9,403.0 486.4,401.8 489.0,401.3 491.5,400.4 494.1,399.5 496.6,399.5 499.2,401.5 501.7,406.9 504.3,411.3 506.8,414.3 509.4,414.4 511.9,412.9 514.5,410.3 517.0,407.4 519.6,404.9 522.1,404.7 524.7,402.4 527.2,401.1 529.8,398.9 532.3,396.6 534.9,397.3 537.5,399.2 540.0,398.7 542.5,398.9 545.1,397.7 547.6,398.6 550.2,396.7 552.8,393.1 555.3,392.2 557.8,391.3 560.4,391.4 563.0,391.2 565.5,391.0 568.0,390.8 570.6,390.7 573.1,391.8 575.7,392.8 578.2,392.6 580.8,391.9 583.3,391.4 585.9,390.2 588.4,389.2 591.0,386.4 593.5,384.2 596.1,382.7 598.6,382.0 601.2,382.3 603.8,382.5 606.3,384.0 608.8,385.8 611.4,385.7 613.9,386.0 616.5,387.7 619.0,387.6 621.6,386.8 624.1,385.6 626.7,383.5 629.2,381.8 631.8,378.3 634.3,374.8 636.9,372.5 639.4,370.0 642.0,367.9 644.5,365.7 647.1,363.0 649.6,359.7 652.2,357.5 654.8,354.3 657.3,353.3 659.8,352.1 662.4,352.1 664.9,353.8 667.5,354.2 670.0,357.5 672.6,362.0 675.1,362.9 677.7,363.5 680.2,364.3 682.8,365.9 685.3,368.3 687.9,369.5 690.4,370.4 693.0,372.5 695.5,375.5 698.1,377.2 700.6,379.9 703.2,383.5 705.8,387.5 708.3,390.7 710.8,391.3 713.4,391.2 715.9,392.8 718.5,395.3 721.0,396.7 723.6,397.1 726.1,398.5 728.7,400.4 731.2,401.0 733.8,403.4 736.3,405.2 738.9,407.5 741.4,412.3 744.0,416.6 746.5,419.6 749.1,423.3 751.6,423.7 754.2,425.1 756.8,424.1 759.3,422.0 761.8,421.8 764.4,420.8 766.9,422.2 769.5,422.7 772.0,423.5 774.6,424.1 777.1,425.1 779.7,426.4 782.2,425.7 784.8,428.1 787.3,431.7 789.9,434.3 792.4,433.8 795.0,434.9 797.5,435.6 800.1,437.1 802.6,439.6 805.2,440.7 807.8,444.1 810.3,447.9 812.8,452.1 815.4,455.4 817.9,457.0 820.5,457.2 823.0,457.3 825.6,458.2 828.1,461.0 830.7,461.4 833.2,462.1 835.8,465.1 838.3,466.4 840.9,466.9 843.4,466.5 846.0,466.9 848.5,467.3 851.1,470.5 853.6,473.9 856.2,475.1 858.8,478.3 861.3,480.0 863.8,480.1 866.4,480.5 868.9,479.3 871.5,477.9 874.0,476.3 876.6,475.4 879.1,474.7 881.7,474.4 884.2,472.7 886.8,469.3 889.3,466.9 891.9,465.3 894.4,464.8 897.0,463.9 899.5,464.5 902.1,465.4 904.6,464.5 907.2,462.4 909.7,461.7 912.3,461.8 914.8,460.4 917.4,458.8 919.9,458.1 922.5,460.4 925.0,463.1 927.6,462.4 930.1,462.2 932.7,462.8 935.2,462.8 937.8,461.6 940.3,461.0 942.9,460.3 945.4,460.1 948.0,459.2 950.5,458.5 953.1,456.2 955.6,453.9 958.2,452.0 960.7,451.7 963.3,450.2 965.8,452.3 968.4,453.1 970.9,453.8 973.5,456.1 976.0,458.4 978.6,461.3 981.1,463.8 983.7,462.5 986.2,463.6"/>
<polyline points="55.5,446.1 58.0,445.3 60.6,442.8 63.1,439.8 65.7,435.8 68.2,431.8 70.8,428.4 73.3,425.9 75.9,423.4 78.5,420.6 81.0,418.6 83.5,416.6 86.1,415.5 88.7,413.8 91.2,416.5 93.8,417.5 96.3,418.2 98.8,417.9 101.4,417.1 103.9,418.1 106.5,415.7 109.0,413.0 111.6,410.8 114.2,409.0 116.7,408.9 119.2,406.2 121.8,402.7 124.3,401.0 126.9,398.1 129.4,396.1 132.0,395.3 134.6,392.7 137.1,391.7 139.6,390.9 142.2,393.6 144.8,397.5 147.3,399.6 149.8,401.4 152.4,400.8 154.9,400.3 157.5,398.3 160.1,396.7 162.6,397.2 165.1,397.8 167.7,397.1 170.2,396.5 172.8,394.9 175.3,394.6 177.9,393.7 180.4,392.6 183.0,393.4 185.5,394.0 188.1,392.5 190.6,391.0 193.2,389.6 195.8,389.3 198.3,388.3 200.8,388.2 203.4,389.2 205.9,390.8 208.5,391.7 211.0,391.3 213.6,390.6 216.1,389.6 218.7,386.6 221.2,385.1 223.8,384.4 226.3,384.0 228.9,382.0 231.4,379.3 234.0,375.6 236.5,373.2 239.1,373.0 241.6,369.6 244.2,366.9 246.8,365.6 249.3,363.1 251.8,359.9 254.4,354.7 256.9,351.0 259.5,346.4 262.0,343.5 264.6,340.7 267.1,339.3 269.7,337.5 272.2,337.6 274.8,339.4 277.4,340.2 279.9,340.5 282.4,342.3 285.0,344.7 287.5,344.6 290.1,345.0 292.6,345.5 295.2,344.8 297.8,345.6 300.3,347.1 302.9,348.3 305.4,348.5 307.9,350.6 310.5,352.7 313.0,355.9 315.6,358.4 318.1,362.2 320.7,365.1 323.2,367.9 325.8,369.2 328.3,368.0 330.9,369.9 333.4,370.5 336.0,369.2 338.5,368.7 341.1,369.2 343.6,370.4 346.2,372.5 348.8,372.8 351.3,371.2 353.8,372.0 356.4,372.9 358.9,372.6 361.5,372.5 364.0,372.8 366.6,375.5 369.1,375.9 371.7,376.8 374.2,377.4 376.8,376.7 379.3,377.0 381.9,374.7 384.4,374.1 387.0,376.0 389.5,378.9 392.1,381.5 394.6,382.4 397.2,381.3 399.8,381.8 402.3,382.4 404.8,385.3 407.4,388.0 409.9,390.0 412.5,390.4 415.0,392.0 417.6,395.6 420.1,401.5 422.7,407.9 425.2,413.5 427.8,419.1 430.3,422.5 432.9,424.3 435.4,426.3 438.0,426.3 440.5,425.8 443.1,427.1 445.6,429.4 448.2,430.7 450.8,432.7 453.3,434.1 455.8,433.5 458.4,434.4 460.9,436.0 463.5,435.8 466.0,434.8 468.6,434.2 471.1,434.3 473.7,431.7 476.2,429.4 478.8,427.9 481.3,426.6 483.9,427.1 486.4,426.0 489.0,424.7 491.5,423.2 494.1,422.3 496.6,422.1 499.2,420.9 501.7,419.2 504.3,417.9 506.8,415.7 509.4,413.9 511.9,413.8 514.5,412.9 517.0,414.0 519.6,413.9 522.1,413.5 524.7,413.2 527.2,411.5 529.8,410.1 532.3,410.8 534.9,412.1 537.5,413.7 540.0,412.4 542.5,410.3 545.1,409.6 547.6,411.6 550.2,412.6 552.8,410.8 555.3,410.7 557.8,410.0 560.4,409.8 563.0,409.9 565.5,409.2 568.0,407.1 570.6,405.6 573.1,403.2 575.7,402.1 578.2,398.5 580.8,394.5 583.3,391.1 585.9,390.9 588.4,389.4 591.0,388.7 593.5,390.0 596.1,389.6 598.6,389.8 601.2,392.0 603.8,394.1 606.3,395.7 608.8,395.5 611.4,397.1 613.9,397.6 616.5,398.7 619.0,400.6 621.6,402.7 624.1,404.3 626.7,403.6 629.2,401.9 631.8,401.0 634.3,401.4 636.9,403.1 639.4,406.2 642.0,409.1 644.5,411.4 647.1,413.7 649.6,416.6 652.2,419.4 654.8,422.6 657.3,423.7 659.8,424.8 662.4,422.9 664.9,420.0 667.5,417.7 670.0,417.5 672.6,416.2 675.1,415.8 677.7,412.2 680.2,410.3 682.8,410.4 685.3,409.9 687.9,409.2 690.4,409.2 693.0,410.8 695.5,412.9 698.1,415.4 700.6,416.9 703.2,419.7 705.8,421.0 708.3,424.1 710.8,425.0 713.4,427.2 715.9,429.1 718.5,429.6 721.0,432.1 723.6,435.2 726.1,434.6 728.7,433.5 731.2,433.5 733.8,435.8 736.3,439.6 738.9,441.7 741.4,443.2 744.0,444.3 746.5,443.2 749.1,440.9 751.6,439.8 754.2,439.2 756.8,437.6 759.3,436.8 761.8,437.8 764.4,438.4 766.9,440.0 769.5,440.0 772.0,441.5 774.6,444.4 777.1,447.2 779.7,447.5 782.2,449.5 784.8,451.0 787.3,452.9 789.9,451.5 792.4,453.0 795.0,455.4 797.5,457.3 800.1,459.0 802.6,460.2 805.2,460.2 807.8,458.4 810.3,455.8 812.8,453.8 815.4,452.7 817.9,451.6 820.5,453.0 823.0,454.3 825.6,457.0 828.1,459.7 830.7,461.8 833.2,463.0 835.8,464.6 838.3,465.9 840.9,465.1 843.4,464.7 846.0,465.1 848.5,466.4 851.1,469.0 853.6,474.5 856.2,480.1 858.8,484.1 861.3,487.6 863.8,490.0 866.4,492.2 868.9,494.6 871.5,496.9 874.0,498.7 876.6,500.4 879.1,501.5 881.7,503.7 884.2,502.7 886.8,502.8 889.3,502.5 891.9,502.7 894.4,503.7 897.0,502.2 899.5,502.5 902.1,503.2 904.6,505.5 907.2,506.3 909.7,505.6 912.3,503.5 914.8,503.1 917.4,503.4 919.9,502.2 922.5,501.6 925.0,500.4 927.6,499.9 930.1,499.4 932.7,497.3 935.2,495.1 937.8,493.6 940.3,492.0 942.9,491.6 945.4,490.5 948.0,489.2 950.5,487.3 953.1,487.3 955.6,488.3 958.2,487.5 960.7,487.6 963.3,487.2 965.8,484.9 968.4,483.1 970.9,479.8 973.5,477.3 976.0,473.2 978.6,472.5 981.1,472.3 983.7,472.3 986.2,471.8"/>
<polyline points="55.5,436.2 58.0,433.0 60.6,428.4 63.1,424.8 65.7,421.0 68.2,416.8 70.8,414.3 73.3,414.6 75.9,414.1 78.5,416.9 81.0,420.1 83.5,421.8 86.1,420.9 88.7,419.7 91.2,419.4 93.8,418.2 96.3,418.8 98.8,418.1 101.4,416.6 103.9,415.6 106.5,413.7 109.0,412.7 111.6,410.1 114.2,406.7 116.7,402.2 119.2,397.2 121.8,392.0 124.3,388.8 126.9,386.3 129.4,382.7 132.0,382.3 134.6,382.2 137.1,383.0 139.6,382.9 142.2,382.7 144.8,385.2 147.3,385.7 149.8,386.6 152.4,388.5 154.9,390.4 157.5,389.8 160.1,389.6 162.6,386.1 165.1,382.5 167.7,382.3 170.2,382.6 172.8,383.0 175.3,383.9 177.9,382.9 180.4,380.2 183.0,379.0 185.5,376.8 188.1,373.0 190.6,369.1 193.2,366.5 195.8,362.2 198.3,358.1 200.8,357.9 203.4,357.5 205.9,353.7 208.5,352.7 211.0,349.7 213.6,345.4 216.1,341.3 218.7,341.3 221.2,340.3 223.8,340.4 226.3,340.4 228.9,341.5 231.4,346.1 234.0,349.6 236.5,351.7 239.1,349.7 241.6,347.3 244.2,348.4 246.8,348.1 249.3,348.5 251.8,349.2 254.4,350.4 256.9,346.9 259.5,344.6 262.0,342.9 264.6,343.3 267.1,343.9 269.7,344.4 272.2,345.8 274.8,346.7 277.4,347.7 279.9,347.1 282.4,347.0 285.0,345.9 287.5,346.8 290.1,346.8 292.6,348.7 295.2,349.2 297.8,352.6 300.3,354.8 302.9,356.5 305.4,357.0 307.9,359.4 310.5,360.2 313.0,362.6 315.6,366.2 318.1,369.2 320.7,373.9 323.2,375.2 325.8,376.2 328.3,376.8 330.9,377.1 333.4,379.3 336.0,379.9 338.5,384.2 341.1,389.1 343.6,392.1 346.2,396.7 348.8,399.6 351.3,404.8 353.8,408.6 356.4,412.5 358.9,413.9 361.5,411.0 364.0,409.4 366.6,408.5 369.1,406.3 371.7,402.7 374.2,400.4 376.8,400.1 379.3,399.4 381.9,400.1 384.4,400.3 387.0,402.3 389.5,402.3 392.1,402.6 394.6,403.6 397.2,404.7 399.8,404.4 402.3,404.5 404.8,404.6 407.4,402.2 409.9,402.8 412.5,404.4 415.0,406.3 417.6,406.9 420.1,405.6 422.7,405.6 425.2,406.3 427.8,408.9 430.3,410.3 432.9,413.8 435.4,417.3 438.0,420.2 440.5,421.1 443.1,423.5 445.6,425.7 448.2,430.6 450.8,437.0 453.3,439.5 455.8,439.6 458.4,441.8 460.9,446.2 463.5,448.8 466.0,449.3 468.6,447.7 471.1,444.6 473.7,441.9 476.2,439.6 478.8,438.5 481.3,437.5 483.9,437.1 486.4,437.5 489.0,433.5 491.5,432.0 494.1,428.7 496.6,425.1 499.2,423.1 501.7,422.9 504.3,424.6 506.8,425.1 509.4,425.0 511.9,422.9 514.5,420.6 517.0,420.7 519.6,420.2 522.1,419.1 524.7,416.4 527.2,415.8 529.8,416.5 532.3,418.6 534.9,423.0 537.5,427.5 540.0,431.7 542.5,434.5 545.1,437.1 547.6,437.9 550.2,439.7 552.8,440.3 555.3,437.6 557.8,437.5 560.4,438.8 563.0,439.5 565.5,438.3 568.0,437.4 570.6,436.2 573.1,437.4 575.7,440.3 578.2,440.2 580.8,439.3 583.3,437.2 585.9,435.8 588.4,433.0 591.0,431.0 593.5,431.1 596.1,432.5 598.6,432.3 601.2,431.9 603.8,431.4 606.3,429.7 608.8,429.2 611.4,428.5 613.9,428.5 616.5,428.6 619.0,428.3 621.6,427.3 624.1,425.6 626.7,424.5 629.2,424.2 631.8,423.2 634.3,423.2 636.9,420.9 639.4,417.2 642.0,415.3 644.5,415.7 647.1,415.6 649.6,414.0 652.2,413.4 654.8,412.3 657.3,409.7 659.8,406.5 662.4,402.8 664.9,400.5 667.5,400.0 670.0,399.5 672.6,400.9 675.1,402.8 677.7,405.8 680.2,410.5 682.8,415.7 685.3,418.8 687.9,420.1 690.4,422.3 693.0,422.5 695.5,424.5 698.1,424.7 700.6,425.6 703.2,426.7 705.8,427.6 708.3,429.7 710.8,430.6 713.4,432.8 715.9,434.5 718.5,435.0 721.0,436.5 723.6,439.7 726.1,440.9 728.7,442.8 731.2,443.7 733.8,443.4 736.3,445.8 738.9,449.3 741.4,450.4 744.0,452.8 746.5,453.1 749.1,451.3 751.6,449.5 754.2,447.8 756.8,447.5 759.3,450.2 761.8,451.8 764.4,455.7 766.9,460.3 769.5,464.3 772.0,466.8 774.6,469.7 777.1,472.4 779.7,476.6 782.2,480.7 784.8,480.9 787.3,482.7 789.9,483.2 792.4,482.5 795.0,478.1 797.5,475.7 800.1,473.6 802.6,470.2 805.2,467.2 807.8,466.1 810.3,465.6 812.8,465.7 815.4,466.0 817.9,466.6 820.5,468.0 823.0,469.2 825.6,467.8 828.1,464.8 830.7,465.1 833.2,465.3 835.8,464.7 838.3,464.1 840.9,463.5 843.4,463.3 846.0,463.0 848.5,462.5 851.1,462.8 853.6,462.4 856.2,463.4 858.8,465.9 861.3,468.5 863.8,472.2 866.4,472.7 868.9,469.9 871.5,467.5 874.0,465.8 876.6,463.7 879.1,462.6 881.7,462.3 884.2,462.1 886.8,461.9 889.3,461.7 891.9,462.9 894.4,462.6 897.0,462.2 899.5,463.0 902.1,460.4 904.6,458.6 907.2,456.6 909.7,454.9 912.3,455.1 914.8,455.6 917.4,455.0 919.9,453.5 922.5,452.9 925.0,453.7 927.6,455.0 930.1,455.9 932.7,456.9 935.2,456.2 937.8,454.9 940.3,454.3 942.9,452.2 945.4,451.2 948.0,450.6 950.5,447.2 953.1,443.1 955.6,441.7 958.2,439.0 960.7,437.0 963.3,433.5 965.8,428.2 968.4,424.8 970.9,422.0 973.5,420.6 976.0,419.3 978.6,421.0 981.1,419.3 983.7,417.2 986.2,416.2"/>
<polyline points="55.5,436.3 58.0,434.7 60.6,430.4 63.1,425.8 65.7,421.4 68.2,419.7 70.8,416.6 73.3,416.7 75.9,414.5 78.5,414.8 81.0,412.3 83.5,412.2 86.1,411.7 88.7,410.9 91.2,406.7 93.8,404.2 96.3,401.7 98.8,398.6 101.4,394.6 103.9,389.9 106.5,387.1 109.0,383.7 111.6,380.5 114.2,381.8 116.7,384.6 119.2,387.3 121.8,388.0 124.3,386.7 126.9,386.5 129.4,384.9 132.0,381.6 134.6,379.2 137.1,375.5 139.6,371.1 142.2,366.4 144.8,362.2 147.3,359.7 149.8,359.6 152.4,358.4 154.9,356.0 157.5,353.8 160.1,351.9 162.6,349.2 165.1,344.3 167.7,339.7 170.2,337.6 172.8,336.7 175.3,335.8 177.9,336.1 180.4,334.7 183.0,332.2 185.5,332.5 188.1,335.8 190.6,337.3 193.2,339.3 195.8,341.6 198.3,344.9 200.8,347.6 203.4,346.7 205.9,346.9 208.5,346.9 211.0,350.1 213.6,354.4 216.1,354.2 218.7,354.0 221.2,353.6 223.8,353.6 226.3,353.2 228.9,353.9 231.4,354.4 234.0,356.1 236.5,357.4 239.1,359.6 241.6,361.0 244.2,364.0 246.8,365.7 249.3,364.5 251.8,364.0 254.4,361.7 256.9,359.1 259.5,357.3 262.0,357.3 264.6,356.5 267.1,356.5 269.7,357.7 272.2,356.6 274.8,354.6 277.4,357.0 279.9,358.3 282.4,359.5 285.0,360.7 287.5,363.1 290.1,364.6 292.6,365.0 295.2,364.6 297.8,364.8 300.3,365.3 302.9,367.1 305.4,369.3 307.9,372.2 310.5,375.9 313.0,378.7 315.6,382.3 318.1,385.2 320.7,388.5 323.2,390.3 325.8,390.9 328.3,390.9 330.9,393.5 333.4,393.8 336.0,392.1 338.5,391.8 341.1,392.9 343.6,394.2 346.2,395.8 348.8,396.1 351.3,396.3 353.8,396.2 356.4,395.7 358.9,395.3 361.5,396.7 364.0,398.7 366.6,397.8 369.1,399.7 371.7,403.3 374.2,408.6 376.8,413.0 379.3,418.2 381.9,419.4 384.4,420.3 387.0,423.0 389.5,424.1 392.1,424.4 394.6,425.0 397.2,426.1 399.8,428.4 402.3,429.9 404.8,430.1 407.4,431.4 409.9,432.6 412.5,435.7 415.0,435.3 417.6,436.5 420.1,435.0 422.7,431.8 425.2,430.4 427.8,428.6 430.3,428.2 432.9,429.0 435.4,432.1 438.0,432.3 440.5,432.0 443.1,431.7 445.6,432.7 448.2,432.6 450.8,433.7 453.3,435.1 455.8,436.7 458.4,438.6 460.9,440.4 463.5,440.3 466.0,442.9 468.6,443.5 471.1,442.7 473.7,441.0 476.2,440.7 478.8,440.8 481.3,439.0 483.9,440.1 486.4,439.4 489.0,441.1 491.5,441.1 494.1,443.5 496.6,443.4 499.2,441.8 501.7,439.1 504.3,439.3 506.8,438.5 509.4,436.7 511.9,436.3 514.5,434.8 517.0,434.0 519.6,431.4 522.1,429.3 524.7,429.1 527.2,426.3 529.8,425.4 532.3,425.6 534.9,423.9 537.5,421.7 540.0,418.3 542.5,415.4 545.1,413.1 547.6,412.1 550.2,411.1 552.8,411.1 555.3,412.3 557.8,412.9 560.4,414.8 563.0,417.2 565.5,417.4 568.0,418.5 570.6,419.0 573.1,420.5 575.7,422.3 578.2,423.2 580.8,425.3 583.3,426.2 585.9,428.4 588.4,431.1 591.0,431.8 593.5,432.7 596.1,434.7 598.6,433.6 601.2,428.1 603.8,424.2 606.3,419.1 608.8,416.9 611.4,412.2 613.9,407.3 616.5,403.3 619.0,401.4 621.6,400.5 624.1,400.7 626.7,399.4 629.2,401.2 631.8,403.4 634.3,404.8 636.9,404.5 639.4,405.2 642.0,406.8 644.5,410.5 647.1,414.4 649.6,417.4 652.2,419.0 654.8,419.1 657.3,417.4 659.8,414.5 662.4,413.1 664.9,412.0 667.5,411.7 670.0,412.9 672.6,413.1 675.1,413.1 677.7,414.1 680.2,416.6 682.8,418.4 685.3,420.6 687.9,422.6 690.4,425.6 693.0,428.7 695.5,430.6 698.1,431.7 700.6,436.3 703.2,439.8 705.8,442.0 708.3,445.1 710.8,447.3 713.4,447.8 715.9,446.5 718.5,446.2 721.0,444.4 723.6,444.8 726.1,447.5 728.7,450.2 731.2,451.5 733.8,452.8 736.3,453.2 738.9,451.5 741.4,452.3 744.0,453.5 746.5,456.3 749.1,460.7 751.6,462.8 754.2,464.1 756.8,462.6 759.3,461.0 761.8,459.6 764.4,459.0 766.9,458.1 769.5,457.1 772.0,455.8 774.6,456.1 777.1,454.5 779.7,455.7 782.2,455.8 784.8,457.2 787.3,458.0 789.9,459.5 792.4,459.6 795.0,461.0 797.5,462.7 800.1,464.1 802.6,468.1 805.2,471.5 807.8,474.8 810.3,477.1 812.8,478.0 815.4,478.5 817.9,481.3 820.5,483.9 823.0,485.0 825.6,487.5 828.1,489.2 830.7,493.2 833.2,495.2 835.8,491.9 838.3,489.7 840.9,488.6 843.4,489.7 846.0,489.2 848.5,489.3 851.1,490.1 853.6,491.5 856.2,491.9 858.8,492.1 861.3,489.8 863.8,490.2 866.4,488.2 868.9,487.1 871.5,488.5 874.0,488.1 876.6,488.4 879.1,486.8 881.7,487.6 884.2,486.8 886.8,487.0 889.3,485.2 891.9,486.0 894.4,487.7 897.0,488.3 899.5,488.2 902.1,489.9 904.6,491.4 907.2,490.4 909.7,485.8 912.3,485.3 914.8,482.8 917.4,483.7 919.9,484.5 922.5,485.7 925.0,487.6 927.6,488.4 930.1,490.2 932.7,490.4 935.2,489.7 937.8,488.9 940.3,489.8 942.9,488.5 945.4,484.6 948.0,481.4 950.5,479.5 953.1,477.1 955.6,477.0 958.2,475.7 960.7,473.0 963.3,467.4 965.8,464.6 968.4,459.6 970.9,457.0 973.5,454.5 976.0,452.9 978.6,448.6 981.1,445.0 983.7,441.9 986.2,440.4"/>
<polyline points="55.5,444.4 58.0,443.1 60.6,442.3 63.1,440.9 65.7,438.3 68.2,437.5 70.8,436.5 73.3,434.9 75.9,432.7 78.5,430.8 81.0,427.1 83.5,422.9 86.1,418.4 88.7,417.2 91.2,416.8 93.8,415.1 96.3,413.5 98.8,411.5 101.4,410.5 103.9,410.3 106.5,409.2 109.0,408.4 111.6,406.0 114.2,404.0 116.7,401.2 119.2,399.2 121.8,396.4 124.3,395.0 126.9,395.3 129.4,394.2 132.0,392.3 134.6,390.1 137.1,387.5 139.6,383.5 142.2,381.1 144.8,377.5 147.3,374.0 149.8,371.6 152.4,366.7 154.9,364.2 157.5,364.5 160.1,362.4 162.6,361.3 165.1,359.5 167.7,358.9 170.2,358.0 172.8,356.3 175.3,355.0 177.9,354.5 180.4,353.2 183.0,352.7 185.5,352.7 188.1,351.2 190.6,351.0 193.2,350.5 195.8,350.3 198.3,350.9 200.8,352.1 203.4,352.9 205.9,354.3 208.5,354.7 211.0,355.6 213.6,355.2 216.1,354.0 218.7,354.1 221.2,354.2 223.8,353.4 226.3,353.3 228.9,351.5 231.4,350.1 234.0,348.7 236.5,347.8 239.1,346.6 241.6,346.0 244.2,346.4 246.8,346.9 249.3,348.7 251.8,348.0 254.4,346.5 256.9,344.8 259.5,344.3 262.0,344.3 264.6,344.6 267.1,344.7 269.7,344.3 272.2,344.4 274.8,346.4 277.4,346.7 279.9,347.3 282.4,348.4 285.0,349.4 287.5,351.2 290.1,352.5 292.6,353.8 295.2,355.5 297.8,357.1 300.3,357.1 302.9,355.5 305.4,354.1 307.9,352.6 310.5,353.5 313.0,356.0 315.6,355.8 318.1,354.0 320.7,353.3 323.2,353.8 325.8,356.2 328.3,359.1 330.9,364.3 333.4,370.2 336.0,373.3 338.5,375.7 341.1,377.2 343.6,379.5 346.2,380.8 348.8,381.3 351.3,381.7 353.8,381.1 356.4,381.3 358.9,381.8 361.5,384.1 364.0,384.6 366.6,386.1 369.1,387.5 371.7,389.9 374.2,391.1 376.8,390.8 379.3,393.3 381.9,393.9 384.4,394.1 387.0,392.7 389.5,390.1 392.1,390.0 394.6,389.6 397.2,389.6 399.8,387.8 402.3,386.6 404.8,386.7 407.4,387.8 409.9,389.2 412.5,392.1 415.0,395.3 417.6,396.3 420.1,397.0 422.7,396.9 425.2,398.7 427.8,399.3 430.3,400.2 432.9,401.4 435.4,401.5 438.0,402.6 440.5,406.4 443.1,409.5 445.6,410.4 448.2,412.2 450.8,413.7 453.3,416.3 455.8,419.2 458.4,421.8 460.9,424.2 463.5,426.0 466.0,426.6 468.6,428.6 471.1,430.2 473.7,432.7 476.2,434.6 478.8,435.0 481.3,434.9 483.9,435.6 486.4,438.1 489.0,439.3 491.5,440.1 494.1,439.4 496.6,439.1 499.2,438.5 501.7,437.8 504.3,436.6 506.8,435.3 509.4,435.1 511.9,433.5 514.5,432.1 517.0,430.4 519.6,427.1 522.1,425.4 524.7,423.8 527.2,422.4 529.8,421.5 532.3,421.7 534.9,422.1 537.5,422.6 540.0,423.5 542.5,423.8 545.1,423.5 547.6,424.1 550.2,424.3 552.8,424.6 555.3,424.9 557.8,423.7 560.4,423.1 563.0,423.1 565.5,421.6 568.0,421.5 570.6,421.8 573.1,422.2 575.7,421.5 578.2,420.5 580.8,417.3 583.3,415.0 585.9,411.3 588.4,410.0 591.0,409.5 593.5,409.6 596.1,410.5 598.6,413.4 601.2,415.0 603.8,416.6 606.3,418.5 608.8,420.1 611.4,421.7 613.9,422.7 616.5,422.5 619.0,422.9 621.6,422.1 624.1,421.8 626.7,420.0 629.2,420.8 631.8,423.6 634.3,425.5 636.9,425.7 639.4,426.6 642.0,428.4 644.5,427.1 647.1,426.0 649.6,425.9 652.2,424.6 654.8,425.4 657.3,426.7 659.8,427.2 662.4,429.3 664.9,430.0 667.5,432.7 670.0,433.7 672.6,434.3 675.1,434.7 677.7,434.0 680.2,433.4 682.8,432.4 685.3,433.1 687.9,432.6 690.4,432.4 693.0,432.7 695.5,433.7 698.1,434.3 700.6,435.1 703.2,435.6 705.8,433.7 708.3,434.1 710.8,434.7 713.4,435.7 715.9,435.1 718.5,435.1 721.0,437.1 723.6,439.0 726.1,439.5 728.7,439.7 731.2,441.0 733.8,441.4 736.3,442.9 738.9,445.4 741.4,447.8 744.0,449.8 746.5,449.5 749.1,449.1 751.6,449.9 754.2,450.6 756.8,450.1 759.3,449.6 761.8,450.6 764.4,452.9 766.9,455.3 769.5,457.6 772.0,457.6 774.6,457.0 777.1,456.3 779.7,455.5 782.2,454.9 784.8,454.0 787.3,453.4 789.9,454.7 792.4,456.2 795.0,458.9 797.5,461.5 800.1,464.4 802.6,465.8 805.2,468.3 807.8,471.0 810.3,472.9 812.8,474.3 815.4,473.8 817.9,473.6 820.5,474.2 823.0,475.4 825.6,476.2 828.1,478.1 830.7,480.1 833.2,483.2 835.8,485.2 838.3,486.9 840.9,489.4 843.4,492.0 846.0,493.1 848.5,493.0 851.1,492.7 853.6,493.0 856.2,493.4 858.8,493.0 861.3,492.0 863.8,492.2 866.4,492.3 868.9,491.8 871.5,492.4 874.0,494.9 876.6,497.6 879.1,500.0 881.7,501.2 884.2,502.0 886.8,501.7 889.3,501.2 891.9,500.6 894.4,501.4 897.0,501.3 899.5,499.1 902.1,496.7 904.6,493.8 907.2,490.3 909.7,485.7 912.3,482.4 914.8,480.1 917.4,479.1 919.9,478.9 922.5,478.7 925.0,477.7 927.6,477.7 930.1,476.8 932.7,475.2 935.2,474.8 937.8,474.8 940.3,477.0 942.9,478.5 945.4,479.2 948.0,477.6 950.5,477.6 953.1,475.4 955.6,473.6 958.2,473.9 960.7,475.0 963.3,474.8 965.8,474.3 968.4,474.5 970.9,474.0 973.5,472.2 976.0,471.5 978.6,471.5 981.1,471.4 983.7,472.5 986.2,471.6"/>
<polyline points="55.5,437.4 58.0,437.0 60.6,436.8 63.1,436.6 65.7,436.8 68.2,438.9 70.8,437.1 73.3,435.3 75.9,433.8 78.5,430.3 81.0,426.9 83.5,423.7 86.1,423.3 88.7,422.6 91.2,423.5 93.8,424.0 96.3,422.5 98.8,421.1 101.4,419.4 103.9,419.8 106.5,417.1 109.0,414.5 111.6,410.2 114.2,405.4 116.7,401.7 119.2,400.8 121.8,399.7 124.3,399.4 126.9,399.5 129.4,398.3 132.0,397.3 134.6,395.3 137.1,392.1 139.6,390.3 142.2,388.9 144.8,389.2 147.3,390.1 149.8,389.1 152.4,388.4 154.9,387.7 157.5,388.3 160.1,386.3 162.6,382.6 165.1,378.3 167.7,375.3 170.2,371.5 172.8,369.6 175.3,369.8 177.9,370.9 180.4,371.3 183.0,370.7 185.5,369.6 188.1,367.2 190.6,367.1 193.2,367.0 195.8,368.3 198.3,367.5 200.8,366.8 203.4,366.4 205.9,365.2 208.5,365.8 211.0,364.4 213.6,362.9 216.1,361.9 218.7,360.6 221.2,359.5 223.8,357.1 226.3,356.4 228.9,353.2 231.4,350.7 234.0,349.0 236.5,349.0 239.1,349.3 241.6,348.7 244.2,349.6 246.8,347.2 249.3,346.5 251.8,345.6 254.4,345.0 256.9,346.1 259.5,347.9 262.0,350.9 264.6,354.8 267.1,358.9 269.7,363.9 272.2,368.9 274.8,372.9 277.4,374.4 279.9,375.2 282.4,375.8 285.0,376.4 287.5,375.5 290.1,375.8 292.6,377.3 295.2,378.5 297.8,380.1 300.3,381.3 302.9,380.3 305.4,382.0 307.9,384.1 310.5,385.1 313.0,384.1 315.6,384.1 318.1,383.9 320.7,383.3 323.2,384.4 325.8,383.4 328.3,383.6 330.9,384.6 333.4,388.6 336.0,390.1 338.5,390.2 341.1,390.4 343.6,391.7 346.2,393.3 348.8,395.5 351.3,397.4 353.8,397.8 356.4,398.7 358.9,400.1 361.5,402.0 364.0,402.1 366.6,401.5 369.1,403.3 371.7,403.9 374.2,404.8 376.8,406.6 379.3,405.6 381.9,405.7 384.4,405.9 387.0,405.3 389.5,403.3 392.1,401.9 394.6,399.3 397.2,397.3 399.8,395.2 402.3,395.3 404.8,395.3 407.4,395.9 409.9,396.3 412.5,397.5 415.0,398.7 417.6,400.4 420.1,403.1 422.7,406.4 425.2,409.4 427.8,408.9 430.3,408.6 432.9,409.8 435.4,410.0 438.0,412.4 440.5,413.7 443.1,415.8 445.6,418.1 448.2,420.6 450.8,423.6 453.3,426.2 455.8,428.5 458.4,431.2 460.9,434.0 463.5,437.9 466.0,440.9 468.6,443.7 471.1,447.2 473.7,446.4 476.2,445.2 478.8,441.2 481.3,438.7 483.9,437.3 486.4,435.9 489.0,436.1 491.5,433.4 494.1,432.3 496.6,434.9 499.2,435.7 501.7,437.2 504.3,440.1 506.8,441.4 509.4,442.1 511.9,444.2 514.5,446.1 517.0,448.8 519.6,448.6 522.1,444.8 524.7,443.4 527.2,444.6 529.8,445.1 532.3,447.1 534.9,448.9 537.5,448.9 540.0,448.4 542.5,447.5 545.1,446.9 547.6,446.6 550.2,446.2 552.8,445.9 555.3,442.4 557.8,438.8 560.4,437.6 563.0,439.0 565.5,439.4 568.0,440.6 570.6,440.9 573.1,441.9 575.7,442.1 578.2,441.9 580.8,440.3 583.3,440.2 585.9,440.6 588.4,438.9 591.0,439.4 593.5,439.7 596.1,439.9 598.6,440.2 601.2,439.5 603.8,439.4 606.3,439.8 608.8,439.6 611.4,439.6 613.9,439.9 616.5,439.2 619.0,439.4 621.6,441.1 624.1,441.2 626.7,442.1 629.2,443.3 631.8,444.2 634.3,444.2 636.9,444.7 639.4,449.1 642.0,450.1 644.5,451.7 647.1,454.6 649.6,453.8 652.2,453.0 654.8,454.2 657.3,455.7 659.8,455.8 662.4,454.6 664.9,451.2 667.5,446.5 670.0,442.2 672.6,437.9 675.1,435.1 677.7,432.0 680.2,431.2 682.8,431.9 685.3,433.8 687.9,435.7 690.4,437.9 693.0,440.8 695.5,444.4 698.1,446.2 700.6,450.1 703.2,454.3 705.8,456.3 708.3,455.0 710.8,451.8 713.4,451.6 715.9,452.2 718.5,453.7 721.0,454.7 723.6,454.2 726.1,455.4 728.7,456.2 731.2,456.4 733.8,458.3 736.3,459.0 738.9,460.2 741.4,462.7 744.0,465.0 746.5,469.7 749.1,473.1 751.6,474.3 754.2,475.4 756.8,477.2 759.3,478.7 761.8,479.1 764.4,477.9 766.9,476.1 769.5,477.3 772.0,479.1 774.6,481.9 777.1,485.4 779.7,488.8 782.2,490.3 784.8,489.9 787.3,491.0 789.9,491.0 792.4,490.6 795.0,489.4 797.5,487.3 800.1,486.3 802.6,484.9 805.2,484.3 807.8,483.3 810.3,483.4 812.8,481.7 815.4,481.3 817.9,480.6 820.5,481.1 823.0,484.4 825.6,487.3 828.1,488.5 830.7,490.2 833.2,492.7 835.8,494.2 838.3,497.3 840.9,499.5 843.4,501.7 846.0,502.0 848.5,501.8 851.1,502.4 853.6,502.4 856.2,501.2 858.8,497.8 861.3,495.1 863.8,490.2 866.4,487.6 868.9,487.6 871.5,487.2 874.0,487.5 876.6,486.2 879.1,482.9 881.7,481.3 884.2,479.6 886.8,479.2 889.3,480.2 891.9,481.1 894.4,483.9 897.0,486.7 899.5,487.7 902.1,486.4 904.6,487.4 907.2,488.3 909.7,489.1 912.3,489.2 914.8,488.8 917.4,488.9 919.9,487.6 922.5,488.1 925.0,488.2 927.6,489.7 930.1,489.2 932.7,490.0 935.2,487.9 937.8,484.6 940.3,481.0 942.9,476.2 945.4,472.6 948.0,470.4 950.5,468.5 953.1,467.6 955.6,466.1 958.2,466.9 960.7,464.6 963.3,460.4 965.8,457.7 968.4,455.8 970.9,455.5 973.5,455.4 976.0,454.0 978.6,453.2 981.1,453.3 983.7,453.1 986.2,451.8"/>
<polyline points="55.5,452.7 58.0,451.3 60.6,448.4 63.1,445.4 65.7,441.2 68.2,439.1 70.8,437.3 73.3,435.9 75.9,434.5 78.5,431.4 81.0,427.9 83.5,426.5 86.1,426.0 88.7,426.7 91.2,426.7 93.8,426.6 96.3,428.1 98.8,428.6 101.4,427.9 103.9,427.8 106.5,426.6 109.0,425.7 111.6,424.8 114.2,422.4 116.7,422.0 119.2,419.0 121.8,416.5 124.3,414.6 126.9,410.9 129.4,407.1 132.0,404.5 134.6,403.9 137.1,403.0 139.6,403.1 142.2,403.3 144.8,402.0 147.3,400.0 149.8,399.1 152.4,397.7 154.9,397.8 157.5,399.2 160.1,400.1 162.6,399.8 165.1,399.0 167.7,398.7 170.2,399.5 172.8,398.3 175.3,397.0 177.9,397.9 180.4,396.6 183.0,396.2 185.5,396.3 188.1,397.5 190.6,400.4 193.2,400.9 195.8,403.0 198.3,403.3 200.8,405.2 203.4,405.8 205.9,406.1 208.5,407.1 211.0,406.2 213.6,405.9 216.1,403.0 218.7,401.0 221.2,398.4 223.8,396.2 226.3,394.3 228.9,393.0 231.4,393.8 234.0,395.1 236.5,395.5 239.1,396.1 241.6,395.9 244.2,396.1 246.8,396.1 249.3,395.8 251.8,395.6 254.4,396.2 256.9,396.0 259.5,395.4 262.0,393.7 264.6,391.5 267.1,390.2 269.7,389.3 272.2,387.7 274.8,386.0 277.4,387.4 279.9,390.7 282.4,391.5 285.0,390.8 287.5,390.8 290.1,392.9 292.6,392.3 295.2,391.4 297.8,391.1 300.3,388.3 302.9,385.7 305.4,386.8 307.9,389.8 310.5,391.5 313.0,392.9 315.6,392.6 318.1,392.6 320.7,393.0 323.2,392.3 325.8,391.8 328.3,390.2 330.9,388.0 333.4,389.6 336.0,391.0 338.5,390.5 341.1,390.8 343.6,390.5 346.2,391.2 348.8,390.5 351.3,392.1 353.8,393.8 356.4,393.5 358.9,392.2 361.5,390.9 364.0,388.9 366.6,387.7 369.1,388.2 371.7,388.8 374.2,390.9 376.8,392.8 379.3,394.4 381.9,394.0 384.4,394.1 387.0,394.4 389.5,396.4 392.1,397.9 394.6,398.3 397.2,399.3 399.8,400.1 402.3,401.6 404.8,401.5 407.4,399.4 409.9,400.1 412.5,402.0 415.0,403.2 417.6,404.0 420.1,401.6 422.7,402.8 425.2,404.6 427.8,406.3 430.3,408.6 432.9,411.3 435.4,413.4 438.0,413.9 440.5,414.2 443.1,417.0 445.6,416.9 448.2,417.4 450.8,418.0 453.3,418.8 455.8,420.7 458.4,421.8 460.9,424.2 463.5,425.1 466.0,424.4 468.6,423.3 471.1,420.5 473.7,422.4 476.2,422.8 478.8,422.2 481.3,420.9 483.9,419.5 486.4,418.1 489.0,416.8 491.5,413.4 494.1,412.3 496.6,411.3 499.2,407.6 501.7,405.6 504.3,403.8 506.8,405.4 509.4,405.6 511.9,405.6 514.5,406.5 517.0,408.9 519.6,410.4 522.1,412.4 524.7,415.2 527.2,417.5 529.8,420.2 532.3,423.3 534.9,424.5 537.5,427.2 540.0,429.2 542.5,429.4 545.1,432.9 547.6,435.7 550.2,435.7 552.8,436.0 555.3,433.8 557.8,432.3 560.4,430.0 563.0,427.2 565.5,426.0 568.0,424.6 570.6,423.3 573.1,422.8 575.7,421.8 578.2,419.5 580.8,417.7 583.3,415.6 585.9,415.1 588.4,414.7 591.0,414.9 593.5,414.6 596.1,412.4 598.6,412.2 601.2,412.8 603.8,412.5 606.3,410.5 608.8,407.2 611.4,404.1 613.9,403.2 616.5,403.3 619.0,403.2 621.6,405.1 624.1,405.9 626.7,405.4 629.2,405.8 631.8,405.8 634.3,405.0 636.9,404.9 639.4,406.0 642.0,407.5 644.5,409.0 647.1,410.7 649.6,412.4 652.2,412.5 654.8,411.4 657.3,410.0 659.8,409.9 662.4,410.3 664.9,410.9 667.5,411.1 670.0,410.2 672.6,407.8 675.1,406.0 677.7,407.6 680.2,408.4 682.8,410.1 685.3,412.5 687.9,413.6 690.4,415.1 693.0,417.4 695.5,418.8 698.1,421.4 700.6,423.3 703.2,425.2 705.8,426.1 708.3,427.8 710.8,430.0 713.4,431.4 715.9,431.3 718.5,430.4 721.0,429.7 723.6,430.4 726.1,431.2 728.7,430.9 731.2,432.5 733.8,435.0 736.3,437.4 738.9,439.2 741.4,442.7 744.0,446.6 746.5,450.9 749.1,454.3 751.6,454.4 754.2,456.8 756.8,458.5 759.3,457.4 761.8,456.5 764.4,455.4 766.9,454.2 769.5,453.5 772.0,455.9 774.6,456.3 777.1,458.2 779.7,460.9 782.2,462.5 784.8,463.4 787.3,462.8 789.9,462.0 792.4,464.7 795.0,466.6 797.5,470.1 800.1,473.5 802.6,477.6 805.2,480.9 807.8,484.7 810.3,485.7 812.8,486.8 815.4,486.2 817.9,486.1 820.5,484.7 823.0,484.7 825.6,486.2 828.1,488.3 830.7,490.8 833.2,493.0 835.8,495.9 838.3,497.4 840.9,497.5 843.4,498.0 846.0,499.2 848.5,498.6 851.1,499.1 853.6,500.3 856.2,501.4 858.8,503.1 861.3,504.2 863.8,507.6 866.4,508.8 868.9,508.8 871.5,510.1 874.0,509.8 876.6,509.3 879.1,510.7 881.7,510.2 884.2,509.8 886.8,508.4 889.3,506.6 891.9,503.4 894.4,502.9 897.0,500.4 899.5,499.1 902.1,499.7 904.6,500.2 907.2,498.3 909.7,495.2 912.3,493.8 914.8,492.0 917.4,491.4 919.9,491.7 922.5,492.2 925.0,492.0 927.6,493.0 930.1,492.6 932.7,492.0 935.2,491.6 937.8,490.2 940.3,489.1 942.9,489.3 945.4,487.0 948.0,484.5 950.5,482.1 953.1,479.5 955.6,477.7 958.2,478.2 960.7,478.0 963.3,477.2 965.8,476.4 968.4,476.9 970.9,476.9 973.5,477.4 976.0,478.2 978.6,477.6 981.1,478.0 983.7,479.5 986.2,480.7"/>
<polyline points="55.5,460.7 58.0,458.1 60.6,454.5 63.1,450.3 65.7,447.3 68.2,444.4 70.8,440.6 73.3,438.8 75.9,438.1 78.5,438.1 81.0,436.8 83.5,436.5 86.1,435.2 88.7,433.0 91.2,430.0 93.8,426.7 96.3,424.3 98.8,423.7 101.4,424.7 103.9,425.5 106.5,426.0 109.0,426.5 111.6,424.6 114.2,420.7 116.7,417.4 119.2,413.3 121.8,411.8 124.3,411.6 126.9,409.0 129.4,407.0 132.0,406.2 134.6,405.0 137.1,404.6 139.6,404.0 142.2,404.5 144.8,403.9 147.3,405.5 149.8,407.4 152.4,407.3 154.9,404.8 157.5,403.6 160.1,403.2 162.6,403.8 165.1,403.8 167.7,402.8 170.2,404.4 172.8,406.3 175.3,406.6 177.9,409.1 180.4,410.8 183.0,409.1 185.5,408.0 188.1,405.0 190.6,402.8 193.2,399.2 195.8,396.5 198.3,393.6 200.8,390.9 203.4,390.8 205.9,391.7 208.5,392.4 211.0,393.0 213.6,395.2 216.1,393.4 218.7,390.6 221.2,387.6 223.8,384.8 226.3,381.6 228.9,379.9 231.4,377.6 234.0,376.3 236.5,375.6 239.1,377.7 241.6,380.4 244.2,384.2 246.8,386.9 249.3,390.1 251.8,391.9 254.4,396.7 256.9,401.6 259.5,405.5 262.0,408.4 264.6,410.7 267.1,413.6 269.7,416.6 272.2,416.1 274.8,415.1 277.4,416.3 279.9,418.1 282.4,420.2 285.0,421.6 287.5,421.5 290.1,423.6 292.6,425.1 295.2,424.6 297.8,424.1 300.3,422.5 302.9,422.7 305.4,422.9 307.9,421.8 310.5,420.0 313.0,418.5 315.6,419.5 318.1,422.2 320.7,421.7 323.2,421.6 325.8,424.2 328.3,426.9 330.9,428.1 333.4,432.5 336.0,435.5 338.5,436.3 341.1,439.6 343.6,441.3 346.2,441.8 348.8,440.7 351.3,440.2 353.8,438.1 356.4,436.4 358.9,435.2 361.5,432.7 364.0,429.7 366.6,428.0 369.1,430.0 371.7,432.7 374.2,433.8 376.8,434.5 379.3,434.4 381.9,433.8 384.4,433.7 387.0,436.4 389.5,438.7 392.1,440.5 394.6,439.9 397.2,439.4 399.8,436.1 402.3,432.5 404.8,428.2 407.4,424.7 409.9,423.9 412.5,423.0 415.0,424.3 417.6,428.6 420.1,432.0 422.7,434.9 425.2,435.5 427.8,435.8 430.3,434.7 432.9,431.7 435.4,429.2 438.0,430.0 440.5,431.0 443.1,432.5 445.6,433.9 448.2,437.8 450.8,438.5 453.3,439.4 455.8,440.3 458.4,439.5 460.9,438.6 463.5,439.9 466.0,440.5 468.6,441.5 471.1,439.2 473.7,437.6 476.2,436.0 478.8,434.8 481.3,434.6 483.9,437.0 486.4,440.9 489.0,442.6 491.5,444.7 494.1,446.6 496.6,449.2 499.2,450.6 501.7,451.9 504.3,452.6 506.8,452.3 509.4,452.7 511.9,453.0 514.5,452.2 517.0,451.2 519.6,452.3 522.1,452.0 524.7,451.6 527.2,452.1 529.8,452.6 532.3,451.3 534.9,450.1 537.5,450.1 540.0,450.7 542.5,451.6 545.1,454.8 547.6,457.1 550.2,459.1 552.8,457.2 555.3,454.4 557.8,451.9 560.4,449.5 563.0,449.9 565.5,449.4 568.0,448.4 570.6,448.1 573.1,446.6 575.7,446.2 578.2,443.3 580.8,442.6 583.3,442.0 585.9,442.0 588.4,443.2 591.0,445.0 593.5,445.0 596.1,444.6 598.6,443.7 601.2,443.8 603.8,444.7 606.3,445.4 608.8,445.4 611.4,444.7 613.9,443.2 616.5,442.2 619.0,440.6 621.6,439.4 624.1,437.6 626.7,436.2 629.2,435.1 631.8,434.6 634.3,435.0 636.9,434.6 639.4,431.4 642.0,428.2 644.5,427.3 647.1,424.2 649.6,421.9 652.2,421.6 654.8,419.7 657.3,419.9 659.8,419.9 662.4,419.5 664.9,420.3 667.5,421.2 670.0,421.7 672.6,422.1 675.1,420.4 677.7,417.8 680.2,416.6 682.8,417.0 685.3,415.4 687.9,414.9 690.4,413.8 693.0,412.5 695.5,414.5 698.1,415.9 700.6,414.3 703.2,415.4 705.8,416.3 708.3,416.0 710.8,415.2 713.4,415.6 715.9,416.2 718.5,419.0 721.0,421.7 723.6,424.6 726.1,427.6 728.7,429.7 731.2,431.0 733.8,432.5 736.3,431.7 738.9,431.7 741.4,433.6 744.0,433.7 746.5,432.5 749.1,434.7 751.6,434.2 754.2,432.9 756.8,433.1 759.3,434.2 761.8,436.9 764.4,437.2 766.9,439.2 769.5,441.0 772.0,445.0 774.6,448.5 777.1,450.7 779.7,451.0 782.2,452.9 784.8,451.3 787.3,451.9 789.9,451.7 792.4,453.7 795.0,453.5 797.5,455.1 800.1,457.3 802.6,457.6 805.2,457.2 807.8,455.7 810.3,453.6 812.8,454.8 815.4,456.3 817.9,459.1 820.5,463.7 823.0,466.4 825.6,467.7 828.1,469.9 830.7,471.0 833.2,470.5 835.8,471.8 838.3,473.3 840.9,474.4 843.4,477.8 846.0,481.0 848.5,485.1 851.1,488.8 853.6,488.1 856.2,487.9 858.8,486.1 861.3,486.4 863.8,486.5 866.4,486.3 868.9,486.2 871.5,488.6 874.0,492.1 876.6,493.9 879.1,497.5 881.7,498.1 884.2,497.4 886.8,494.1 889.3,492.7 891.9,490.3 894.4,489.3 897.0,488.3 899.5,485.9 902.1,482.8 904.6,480.1 907.2,476.2 909.7,472.6 912.3,468.5 914.8,464.9 917.4,463.0 919.9,464.1 922.5,464.3 925.0,464.6 927.6,465.0 930.1,466.5 932.7,465.8 935.2,464.8 937.8,463.7 940.3,462.9 942.9,463.8 945.4,464.6 948.0,466.8 950.5,469.2 953.1,470.6 955.6,470.4 958.2,469.8 960.7,466.4 963.3,464.4 965.8,462.9 968.4,460.6 970.9,458.3 973.5,455.1 976.0,451.6 978.6,451.2 981.1,450.9 983.7,450.9 986.2,449.2"/>
<polyline points="55.5,454.8 58.0,452.9 60.6,450.9 63.1,448.5 65.7,447.0 68.2,445.8 70.8,445.5 73.3,444.9 75.9,445.9 78.5,446.6 81.0,445.4 83.5,444.0 86.1,439.3 88.7,435.5 91.2,430.9 93.8,426.3 96.3,424.0 98.8,424.0 101.4,424.7 103.9,423.0 106.5,422.3 109.0,425.9 111.6,427.0 114.2,427.1 116.7,424.2 119.2,418.3 121.8,413.9 124.3,409.4 126.9,405.7 129.4,405.1 132.0,405.4 134.6,404.7 137.1,405.2 139.6,405.7 142.2,403.1 144.8,399.7 147.3,396.3 149.8,393.9 152.4,393.0 154.9,393.2 157.5,390.9 160.1,391.2 162.6,390.3 165.1,388.3 167.7,385.6 170.2,383.6 172.8,383.9 175.3,382.8 177.9,382.5 180.4,382.3 183.0,383.7 185.5,385.6 188.1,385.9 190.6,384.6 193.2,383.9 195.8,385.3 198.3,385.1 200.8,383.8 203.4,385.2 205.9,389.0 208.5,390.8 211.0,392.3 213.6,395.7 216.1,395.6 218.7,398.2 221.2,400.0 223.8,402.0 226.3,405.6 228.9,410.5 231.4,413.0 234.0,411.8 236.5,409.1 239.1,408.6 241.6,406.7 244.2,406.2 246.8,405.7 249.3,407.1 251.8,407.9 254.4,409.2 256.9,409.5 259.5,409.8 262.0,410.6 264.6,411.6 267.1,412.2 269.7,412.0 272.2,409.0 274.8,407.6 277.4,405.8 279.9,407.3 282.4,409.7 285.0,412.3 287.5,413.7 290.1,415.8 292.6,418.2 295.2,419.9 297.8,420.5 300.3,419.0 302.9,418.3 305.4,419.0 307.9,420.1 310.5,420.1 313.0,420.5 315.6,421.5 318.1,420.0 320.7,419.3 323.2,419.9 325.8,424.2 328.3,424.3 330.9,421.3 333.4,418.3 336.0,416.2 338.5,416.5 341.1,415.8 343.6,417.7 346.2,421.6 348.8,424.4 351.3,425.1 353.8,426.4 356.4,429.6 358.9,433.5 361.5,434.6 364.0,433.7 366.6,430.4 369.1,430.9 371.7,431.1 374.2,433.0 376.8,434.6 379.3,436.5 381.9,439.5 384.4,442.8 387.0,445.1 389.5,447.2 392.1,448.7 394.6,448.5 397.2,448.8 399.8,448.2 402.3,446.1 404.8,446.3 407.4,447.1 409.9,447.7 412.5,449.9 415.0,453.1 417.6,454.2 420.1,456.4 422.7,457.6 425.2,458.4 427.8,460.0 430.3,460.9 432.9,460.0 435.4,461.7 438.0,465.6 440.5,464.9 443.1,461.6 445.6,462.1 448.2,466.3 450.8,469.5 453.3,470.1 455.8,468.3 458.4,464.9 460.9,462.9 463.5,460.6 466.0,461.0 468.6,462.4 471.1,464.1 473.7,461.5 476.2,461.9 478.8,462.0 481.3,460.2 483.9,456.4 486.4,452.6 489.0,448.2 491.5,446.1 494.1,442.5 496.6,440.3 499.2,439.0 501.7,436.3 504.3,434.5 506.8,433.3 509.4,433.2 511.9,433.1 514.5,432.4 517.0,430.8 519.6,429.1 522.1,426.9 524.7,428.6 527.2,428.2 529.8,427.7 532.3,430.0 534.9,432.3 537.5,435.9 540.0,439.1 542.5,441.7 545.1,443.1 547.6,444.1 550.2,446.8 552.8,449.6 555.3,450.7 557.8,451.3 560.4,451.9 563.0,454.5 565.5,456.0 568.0,456.0 570.6,452.0 573.1,448.9 575.7,444.5 578.2,439.9 580.8,435.3 583.3,431.0 585.9,426.9 588.4,424.0 591.0,420.3 593.5,418.6 596.1,421.1 598.6,421.6 601.2,423.3 603.8,425.3 606.3,424.9 608.8,423.8 611.4,425.1 613.9,424.8 616.5,423.4 619.0,422.5 621.6,421.3 624.1,419.5 626.7,417.6 629.2,416.2 631.8,417.8 634.3,416.9 636.9,415.9 639.4,415.2 642.0,416.1 644.5,414.1 647.1,411.5 649.6,410.2 652.2,409.7 654.8,410.5 657.3,410.6 659.8,413.1 662.4,413.2 664.9,415.3 667.5,417.4 670.0,417.2 672.6,416.9 675.1,419.0 677.7,419.5 680.2,419.3 682.8,422.2 685.3,425.7 687.9,429.6 690.4,433.0 693.0,436.6 695.5,437.3 698.1,440.0 700.6,442.9 703.2,444.2 705.8,447.1 708.3,449.5 710.8,451.0 713.4,452.4 715.9,455.0 718.5,454.2 721.0,452.0 723.6,448.8 726.1,447.6 728.7,444.8 731.2,442.7 733.8,442.3 736.3,442.1 738.9,443.9 741.4,445.6 744.0,445.5 746.5,445.6 749.1,446.6 751.6,447.8 754.2,450.5 756.8,455.0 759.3,458.6 761.8,459.7 764.4,460.5 766.9,461.1 769.5,461.0 772.0,462.5 774.6,464.0 777.1,465.5 779.7,469.6 782.2,473.2 784.8,473.5 787.3,473.6 789.9,471.1 792.4,470.0 795.0,470.6 797.5,471.4 800.1,473.5 802.6,477.3 805.2,476.8 807.8,477.0 810.3,476.3 812.8,474.6 815.4,474.9 817.9,475.6 820.5,475.0 823.0,475.9 825.6,476.5 828.1,476.1 830.7,476.4 833.2,475.8 835.8,475.2 838.3,473.4 840.9,471.6 843.4,471.5 846.0,470.1 848.5,468.7 851.1,467.6 853.6,466.9 856.2,467.1 858.8,469.4 861.3,469.3 863.8,469.2 866.4,469.5 868.9,469.9 871.5,469.2 874.0,468.2 876.6,466.0 879.1,464.3 881.7,460.5 884.2,460.6 886.8,462.9 889.3,466.9 891.9,471.5 894.4,472.8 897.0,474.7 899.5,474.8 902.1,475.5 904.6,474.5 907.2,475.4 909.7,473.9 912.3,475.5 914.8,475.5 917.4,475.4 919.9,473.8 922.5,474.7 925.0,476.0 927.6,476.9 930.1,477.8 932.7,478.8 935.2,479.5 937.8,479.6 940.3,477.8 942.9,476.7 945.4,475.5 948.0,474.2 950.5,471.6 953.1,468.4 955.6,464.6 958.2,463.8 960.7,465.0 963.3,465.1 965.8,462.5 968.4,460.7 970.9,460.9 973.5,460.0 976.0,458.3 978.6,458.8 981.1,458.7 983.7,458.3 986.2,458.2"/>
<polyline points="55.5,488.9 58.0,488.5 60.6,486.5 63.1,483.7 65.7,481.1 68.2,478.4 70.8,477.3 73.3,476.4 75.9,475.0 78.5,472.9 81.0,470.1 83.5,468.1 86.1,465.5 88.7,462.1 91.2,459.1 93.8,455.1 96.3,451.7 98.8,449.1 101.4,448.0 103.9,445.7 106.5,445.4 109.0,444.8 111.6,443.7 114.2,442.0 116.7,441.0 119.2,442.2 121.8,443.9 124.3,444.0 126.9,443.1 129.4,443.4 132.0,444.4 134.6,444.9 137.1,445.0 139.6,446.2 142.2,446.3 144.8,445.4 147.3,443.2 149.8,440.6 152.4,437.1 154.9,434.3 157.5,431.6 160.1,429.8 162.6,429.1 165.1,428.0 167.7,426.8 170.2,423.4 172.8,421.4 175.3,420.1 177.9,419.7 180.4,419.2 183.0,418.0 185.5,417.3 188.1,418.1 190.6,417.3 193.2,414.7 195.8,413.3 198.3,412.7 200.8,411.6 203.4,410.0 205.9,409.9 208.5,410.6 211.0,410.2 213.6,411.0 216.1,411.6 218.7,412.0 221.2,412.8 223.8,411.4 226.3,410.1 228.9,408.6 231.4,407.8 234.0,405.9 236.5,404.5 239.1,404.4 241.6,403.5 244.2,402.9 246.8,401.3 249.3,401.2 251.8,401.4 254.4,400.8 256.9,399.4 259.5,399.1 262.0,399.5 264.6,399.6 267.1,401.0 269.7,401.1 272.2,398.4 274.8,397.3 277.4,398.4 279.9,397.8 282.4,399.8 285.0,401.1 287.5,401.1 290.1,401.0 292.6,401.0 295.2,402.3 297.8,404.5 300.3,407.6 302.9,410.4 305.4,411.7 307.9,413.7 310.5,415.0 313.0,416.1 315.6,415.3 318.1,414.6 320.7,413.0 323.2,411.8 325.8,410.4 328.3,407.4 330.9,406.9 333.4,406.7 336.0,406.0 338.5,405.4 341.1,405.6 343.6,406.2 346.2,406.4 348.8,405.3 351.3,403.2 353.8,402.6 356.4,402.0 358.9,401.9 361.5,400.8 364.0,402.0 366.6,403.4 369.1,404.8 371.7,404.9 374.2,404.3 376.8,405.8 379.3,407.9 381.9,409.0 384.4,411.5 387.0,413.9 389.5,415.0 392.1,417.4 394.6,416.9 397.2,416.8 399.8,417.2 402.3,417.3 404.8,418.1 407.4,418.6 409.9,420.2 412.5,422.5 415.0,425.4 417.6,427.7 420.1,429.6 422.7,430.1 425.2,430.0 427.8,430.5 430.3,430.8 432.9,429.2 435.4,428.4 438.0,426.8 440.5,426.8 443.1,426.6 445.6,425.9 448.2,425.4 450.8,426.7 453.3,427.2 455.8,427.4 458.4,428.3 460.9,430.2 463.5,429.3 466.0,427.0 468.6,425.2 471.1,425.6 473.7,425.1 476.2,425.5 478.8,426.4 481.3,427.9 483.9,429.5 486.4,430.5 489.0,431.0 491.5,432.1 494.1,433.9 496.6,434.8 499.2,436.8 501.7,436.1 504.3,435.6 506.8,434.6 509.4,433.4 511.9,432.7 514.5,432.1 517.0,430.9 519.6,431.7 522.1,432.5 524.7,433.3 527.2,432.9 529.8,434.0 532.3,433.2 534.9,431.9 537.5,431.6 540.0,429.5 542.5,427.5 545.1,426.3 547.6,425.5 550.2,426.6 552.8,425.8 555.3,426.0 557.8,425.8 560.4,427.4 563.0,427.8 565.5,427.2 568.0,426.8 570.6,428.4 573.1,429.3 575.7,429.5 578.2,427.6 580.8,425.7 583.3,424.4 585.9,423.7 588.4,421.9 591.0,419.0 593.5,416.7 596.1,416.6 598.6,416.9 601.2,416.1 603.8,416.8 606.3,421.0 608.8,421.2 611.4,423.6 613.9,426.9 616.5,430.0 619.0,430.1 621.6,430.8 624.1,430.7 626.7,429.9 629.2,429.0 631.8,429.4 634.3,430.7 636.9,431.2 639.4,430.8 642.0,430.4 644.5,430.7 647.1,430.5 649.6,431.1 652.2,433.4 654.8,436.7 657.3,441.5 659.8,442.1 662.4,441.5 664.9,440.6 667.5,441.2 670.0,440.8 672.6,438.3 675.1,436.9 677.7,434.6 680.2,433.3 682.8,431.7 685.3,431.6 687.9,433.1 690.4,433.3 693.0,432.4 695.5,433.0 698.1,433.3 700.6,435.1 703.2,436.1 705.8,437.4 708.3,437.5 710.8,437.8 713.4,438.9 715.9,439.7 718.5,440.1 721.0,440.3 723.6,441.0 726.1,442.1 728.7,443.2 731.2,444.4 733.8,446.6 736.3,447.4 738.9,447.9 741.4,449.4 744.0,451.7 746.5,453.5 749.1,453.8 751.6,453.9 754.2,453.3 756.8,454.5 759.3,456.7 761.8,456.7 764.4,456.3 766.9,456.0 769.5,455.5 772.0,455.7 774.6,457.2 777.1,459.8 779.7,461.2 782.2,463.5 784.8,465.4 787.3,469.1 789.9,471.8 792.4,475.6 795.0,477.4 797.5,478.8 800.1,479.8 802.6,480.0 805.2,479.6 807.8,480.9 810.3,482.3 812.8,485.6 815.4,486.4 817.9,488.5 820.5,490.6 823.0,493.3 825.6,495.3 828.1,496.3 830.7,498.3 833.2,500.5 835.8,501.9 838.3,504.9 840.9,506.3 843.4,506.7 846.0,506.2 848.5,505.7 851.1,507.3 853.6,509.5 856.2,511.3 858.8,512.6 861.3,514.3 863.8,516.2 866.4,518.3 868.9,518.8 871.5,519.3 874.0,519.0 876.6,518.7 879.1,517.5 881.7,515.1 884.2,514.3 886.8,513.2 889.3,512.7 891.9,511.8 894.4,512.5 897.0,513.3 899.5,513.1 902.1,513.5 904.6,513.3 907.2,512.8 909.7,512.9 912.3,513.0 914.8,511.9 917.4,510.7 919.9,510.2 922.5,509.1 925.0,508.0 927.6,507.4 930.1,507.9 932.7,506.9 935.2,506.0 937.8,504.9 940.3,504.5 942.9,502.6 945.4,500.8 948.0,499.0 950.5,495.4 953.1,493.8 955.6,491.3 958.2,489.1 960.7,487.4 963.3,486.3 965.8,484.6 968.4,484.1 970.9,483.1 973.5,481.4 976.0,480.8 978.6,480.7 981.1,480.8 983.7,481.3 986.2,482.1"/>
<polyline points="55.5,468.1 58.0,467.7 60.6,465.1 63.1,463.2 65.7,463.3 68.2,464.3 70.8,465.0 73.3,465.0 75.9,463.5 78.5,461.3 81.0,458.9 83.5,457.8 86.1,456.1 88.7,456.1 91.2,454.6 93.8,453.9 96.3,452.5 98.8,449.2 101.4,447.2 103.9,445.9 106.5,444.1 109.0,442.9 111.6,442.5 114.2,443.1 116.7,445.7 119.2,447.3 121.8,448.2 124.3,448.3 126.9,448.6 129.4,446.6 132.0,444.9 134.6,442.2 137.1,441.0 139.6,437.3 142.2,437.2 144.8,435.8 147.3,435.8 149.8,436.3 152.4,435.0 154.9,433.7 157.5,433.8 160.1,435.6 162.6,435.7 165.1,435.4 167.7,435.0 170.2,434.2 172.8,433.7 175.3,432.7 177.9,430.8 180.4,427.5 183.0,425.3 185.5,422.5 188.1,419.8 190.6,418.3 193.2,415.8 195.8,414.1 198.3,413.6 200.8,412.7 203.4,413.8 205.9,416.3 208.5,417.7 211.0,419.3 213.6,417.9 216.1,415.7 218.7,414.3 221.2,412.8 223.8,412.4 226.3,410.5 228.9,409.9 231.4,408.8 234.0,405.9 236.5,403.9 239.1,402.3 241.6,401.5 244.2,399.3 246.8,397.9 249.3,396.1 251.8,394.9 254.4,393.9 256.9,391.4 259.5,389.7 262.0,389.3 264.6,387.5 267.1,386.5 269.7,385.5 272.2,384.4 274.8,384.1 277.4,383.5 279.9,381.7 282.4,382.7 285.0,385.2 287.5,388.5 290.1,390.7 292.6,393.1 295.2,394.1 297.8,395.3 300.3,397.0 302.9,397.8 305.4,398.5 307.9,397.3 310.5,396.4 313.0,396.8 315.6,397.8 318.1,397.9 320.7,396.4 323.2,395.1 325.8,393.6 328.3,390.6 330.9,388.4 333.4,387.6 336.0,387.2 338.5,387.1 341.1,386.3 343.6,386.1 346.2,386.1 348.8,388.8 351.3,391.3 353.8,395.6 356.4,398.9 358.9,402.4 361.5,402.2 364.0,402.6 366.6,404.1 369.1,404.1 371.7,404.4 374.2,405.0 376.8,403.7 379.3,405.7 381.9,407.8 384.4,409.0 387.0,409.7 389.5,409.3 392.1,409.6 394.6,410.9 397.2,413.6 399.8,414.1 402.3,414.3 404.8,415.0 407.4,415.7 409.9,419.6 412.5,424.5 415.0,428.0 417.6,431.0 420.1,433.7 422.7,435.7 425.2,437.5 427.8,437.8 430.3,439.6 432.9,442.0 435.4,442.6 438.0,443.2 440.5,444.1 443.1,444.3 445.6,443.5 448.2,443.6 450.8,443.3 453.3,444.2 455.8,444.7 458.4,446.2 460.9,448.3 463.5,449.8 466.0,451.3 468.6,454.2 471.1,455.7 473.7,454.7 476.2,455.2 478.8,456.5 481.3,455.9 483.9,454.6 486.4,453.3 489.0,453.1 491.5,452.9 494.1,453.3 496.6,453.1 499.2,453.4 501.7,453.5 504.3,454.4 506.8,455.5 509.4,455.5 511.9,457.9 514.5,458.7 517.0,460.8 519.6,463.0 522.1,465.4 524.7,465.1 527.2,463.1 529.8,459.7 532.3,458.9 534.9,457.9 537.5,458.2 540.0,458.3 542.5,457.4 545.1,455.6 547.6,454.5 550.2,452.9 552.8,451.5 555.3,451.4 557.8,450.0 560.4,448.7 563.0,449.6 565.5,450.7 568.0,451.6 570.6,450.7 573.1,449.4 575.7,451.9 578.2,451.8 580.8,452.1 583.3,451.6 585.9,452.0 588.4,453.8 591.0,455.0 593.5,456.1 596.1,456.2 598.6,456.8 601.2,456.3 603.8,456.7 606.3,456.6 608.8,457.8 611.4,458.3 613.9,458.7 616.5,457.9 619.0,456.5 621.6,457.1 624.1,458.6 626.7,459.8 629.2,461.8 631.8,462.5 634.3,462.5 636.9,462.7 639.4,461.9 642.0,459.4 644.5,459.5 647.1,461.1 649.6,464.9 652.2,464.9 654.8,464.1 657.3,461.9 659.8,460.2 662.4,459.4 664.9,459.7 667.5,459.1 670.0,457.2 672.6,456.5 675.1,456.4 677.7,454.8 680.2,454.6 682.8,454.8 685.3,456.5 687.9,459.4 690.4,461.8 693.0,464.3 695.5,467.2 698.1,469.2 700.6,467.4 703.2,466.2 705.8,464.1 708.3,463.1 710.8,463.5 713.4,462.2 715.9,462.3 718.5,462.5 721.0,462.4 723.6,464.2 726.1,462.7 728.7,463.7 731.2,462.7 733.8,463.2 736.3,461.4 738.9,459.8 741.4,459.7 744.0,459.3 746.5,459.4 749.1,461.8 751.6,462.7 754.2,465.4 756.8,469.1 759.3,472.0 761.8,474.1 764.4,476.1 766.9,479.2 769.5,482.9 772.0,484.3 774.6,486.5 777.1,488.1 779.7,489.5 782.2,490.5 784.8,488.7 787.3,486.7 789.9,487.2 792.4,486.7 795.0,485.2 797.5,483.3 800.1,481.8 802.6,480.7 805.2,479.6 807.8,481.5 810.3,484.1 812.8,486.0 815.4,487.5 817.9,491.7 820.5,495.5 823.0,497.7 825.6,499.4 828.1,501.8 830.7,502.4 833.2,501.7 835.8,500.7 838.3,500.6 840.9,500.8 843.4,500.6 846.0,500.9 848.5,502.1 851.1,502.7 853.6,502.6 856.2,499.5 858.8,498.1 861.3,497.1 863.8,499.2 866.4,499.3 868.9,499.7 871.5,499.3 874.0,498.8 876.6,498.1 879.1,499.5 881.7,499.9 884.2,500.6 886.8,499.9 889.3,499.9 891.9,499.8 894.4,499.5 897.0,500.9 899.5,501.1 902.1,500.3 904.6,499.0 907.2,496.5 909.7,495.4 912.3,493.3 914.8,490.4 917.4,489.0 919.9,489.2 922.5,487.4 925.0,483.7 927.6,483.1 930.1,482.2 932.7,482.2 935.2,482.5 937.8,482.9 940.3,482.9 942.9,484.1 945.4,485.8 948.0,484.8 950.5,484.6 953.1,482.6 955.6,479.9 958.2,477.9 960.7,476.4 963.3,475.3 965.8,474.8 968.4,473.6 970.9,472.2 973.5,470.1 976.0,468.4 978.6,468.8 981.1,468.9 983.7,467.1 986.2,466.3"/>
<polyline points="55.5,491.6 58.0,489.7 60.6,487.8 63.1,486.0 65.7,484.1 68.2,481.8 70.8,480.8 73.3,480.4 75.9,479.5 78.5,478.6 81.0,478.2 83.5,477.3 86.1,477.7 88.7,477.1 91.2,476.3 93.8,475.8 96.3,474.3 98.8,473.7 101.4,472.0 103.9,468.9 106.5,464.9 109.0,462.0 111.6,460.6 114.2,459.8 116.7,460.7 119.2,461.1 121.8,461.2 124.3,461.2 126.9,461.1 129.4,459.4 132.0,456.7 134.6,453.6 137.1,451.6 139.6,448.8 142.2,445.5 144.8,442.4 147.3,439.6 149.8,437.2 152.4,434.4 154.9,431.6 157.5,429.5 160.1,428.8 162.6,428.8 165.1,426.8 167.7,425.4 170.2,423.5 172.8,421.0 175.3,418.7 177.9,418.4 180.4,418.3 183.0,417.1 185.5,415.7 188.1,413.3 190.6,411.2 193.2,410.8 195.8,411.0 198.3,410.2 200.8,410.5 203.4,409.0 205.9,408.2 208.5,406.3 211.0,405.1 213.6,404.5 216.1,403.6 218.7,402.4 221.2,400.8 223.8,398.0 226.3,395.3 228.9,392.1 231.4,389.0 234.0,388.2 236.5,386.2 239.1,384.6 241.6,383.4 244.2,382.0 246.8,381.8 249.3,380.5 251.8,381.5 254.4,382.3 256.9,383.5 259.5,383.8 262.0,383.0 264.6,383.3 267.1,384.1 269.7,384.2 272.2,385.4 274.8,385.5 277.4,385.4 279.9,385.7 282.4,385.9 285.0,386.7 287.5,387.9 290.1,388.9 292.6,390.6 295.2,390.6 297.8,390.3 300.3,391.5 302.9,391.3 305.4,392.2 307.9,393.7 310.5,395.3 313.0,396.6 315.6,397.5 318.1,399.3 320.7,400.8 323.2,400.9 325.8,401.4 328.3,401.5 330.9,401.4 333.4,401.5 336.0,401.4 338.5,400.1 341.1,400.5 343.6,401.5 346.2,404.3 348.8,405.4 351.3,406.1 353.8,407.6 356.4,409.4 358.9,411.7 361.5,412.5 364.0,413.2 366.6,412.8 369.1,413.7 371.7,413.4 374.2,414.4 376.8,414.6 379.3,415.3 381.9,416.7 384.4,417.4 387.0,418.8 389.5,420.7 392.1,421.8 394.6,422.8 397.2,423.1 399.8,424.9 402.3,427.0 404.8,426.8 407.4,427.0 409.9,427.5 412.5,428.6 415.0,431.7 417.6,434.0 420.1,434.8 422.7,434.2 425.2,434.2 427.8,433.9 430.3,434.5 432.9,434.7 435.4,435.0 438.0,434.4 440.5,433.9 443.1,433.4 445.6,432.4 448.2,430.4 450.8,429.9 453.3,429.0 455.8,427.4 458.4,427.2 460.9,428.5 463.5,429.4 466.0,430.1 468.6,430.3 471.1,431.1 473.7,433.1 476.2,433.4 478.8,434.2 481.3,435.2 483.9,435.0 486.4,434.4 489.0,435.6 491.5,436.8 494.1,437.1 496.6,438.3 499.2,440.8 501.7,443.2 504.3,443.9 506.8,443.2 509.4,443.3 511.9,442.3 514.5,442.4 517.0,441.8 519.6,441.8 522.1,441.8 524.7,441.1 527.2,441.2 529.8,441.7 532.3,443.0 534.9,443.2 537.5,442.5 540.0,442.8 542.5,441.5 545.1,441.2 547.6,441.0 550.2,442.2 552.8,442.2 555.3,441.4 557.8,442.5 560.4,443.0 563.0,444.8 565.5,444.5 568.0,444.8 570.6,444.8 573.1,445.0 575.7,444.8 578.2,443.5 580.8,443.6 583.3,444.0 585.9,445.2 588.4,444.5 591.0,443.3 593.5,441.9 596.1,441.0 598.6,439.0 601.2,438.7 603.8,438.4 606.3,437.4 608.8,436.2 611.4,435.4 613.9,434.6 616.5,433.7 619.0,434.3 621.6,433.1 624.1,433.5 626.7,433.7 629.2,434.7 631.8,435.2 634.3,434.4 636.9,435.3 639.4,437.0 642.0,436.5 644.5,437.5 647.1,439.4 649.6,438.9 652.2,437.7 654.8,436.8 657.3,437.0 659.8,437.2 662.4,436.6 664.9,436.1 667.5,434.9 670.0,434.6 672.6,434.9 675.1,436.3 677.7,438.2 680.2,439.4 682.8,438.8 685.3,438.2 687.9,437.6 690.4,438.3 693.0,439.8 695.5,441.7 698.1,444.0 700.6,445.6 703.2,447.1 705.8,449.4 708.3,450.6 710.8,452.7 713.4,455.0 715.9,458.0 718.5,459.5 721.0,460.6 723.6,461.8 726.1,464.7 728.7,466.4 731.2,466.4 733.8,466.1 736.3,465.5 738.9,465.5 741.4,465.7 744.0,465.4 746.5,466.5 749.1,468.4 751.6,469.5 754.2,470.1 756.8,472.2 759.3,474.0 761.8,476.8 764.4,479.8 766.9,484.5 769.5,488.5 772.0,492.1 774.6,493.6 777.1,494.9 779.7,495.7 782.2,495.2 784.8,495.2 787.3,496.5 789.9,497.0 792.4,497.5 795.0,498.9 797.5,500.5 800.1,503.2 802.6,504.9 805.2,506.7 807.8,507.5 810.3,508.1 812.8,509.8 815.4,511.5 817.9,513.1 820.5,514.8 823.0,515.4 825.6,516.7 828.1,518.2 830.7,519.8 833.2,519.8 835.8,520.5 838.3,520.6 840.9,520.4 843.4,520.9 846.0,521.4 848.5,520.7 851.1,521.7 853.6,522.1 856.2,522.2 858.8,523.1 861.3,525.7 863.8,529.4 866.4,531.2 868.9,533.4 871.5,533.9 874.0,534.3 876.6,532.4 879.1,532.4 881.7,531.1 884.2,531.3 886.8,530.0 889.3,529.9 891.9,530.0 894.4,531.7 897.0,532.6 899.5,532.7 902.1,534.0 904.6,534.7 907.2,535.4 909.7,535.2 912.3,533.8 914.8,532.5 917.4,530.6 919.9,530.1 922.5,529.2 925.0,528.7 927.6,527.7 930.1,526.0 932.7,524.2 935.2,522.8 937.8,521.5 940.3,520.2 942.9,519.0 945.4,517.9 948.0,516.8 950.5,514.7 953.1,511.9 955.6,509.6 958.2,508.6 960.7,507.9 963.3,507.1 965.8,505.5 968.4,504.4 970.9,504.2 973.5,503.0 976.0,501.4 978.6,498.9 981.1,497.2 983.7,496.3 986.2,495.7"/>
<polyline points="55.5,466.0 58.0,462.3 60.6,459.8 63.1,460.2 65.7,459.9 68.2,459.6 70.8,460.8 73.3,458.5 75.9,456.2 78.5,450.6 81.0,447.6 83.5,444.7 86.1,443.7 88.7,441.0 91.2,438.5 93.8,437.9 96.3,436.6 98.8,435.4 101.4,433.6 103.9,432.2 106.5,431.3 109.0,431.2 111.6,431.2 114.2,429.9 116.7,430.6 119.2,432.2 121.8,433.7 124.3,434.2 126.9,435.7 129.4,437.6 132.0,437.6 134.6,434.8 137.1,432.8 139.6,431.5 142.2,430.2 144.8,428.4 147.3,427.1 149.8,426.0 152.4,421.8 154.9,420.5 157.5,418.2 160.1,417.1 162.6,416.6 165.1,415.6 167.7,412.2 170.2,411.1 172.8,409.1 175.3,407.5 177.9,407.8 180.4,408.1 183.0,406.5 185.5,405.0 188.1,403.1 190.6,401.0 193.2,398.6 195.8,400.6 198.3,399.2 200.8,398.8 203.4,400.4 205.9,402.5 208.5,404.6 211.0,404.5 213.6,405.6 216.1,405.6 218.7,409.1 221.2,409.7 223.8,410.2 226.3,409.1 228.9,407.8 231.4,406.9 234.0,403.3 236.5,399.9 239.1,400.4 241.6,401.6 244.2,404.5 246.8,406.7 249.3,408.8 251.8,411.1 254.4,412.8 256.9,415.9 259.5,418.0 262.0,419.4 264.6,422.2 267.1,425.5 269.7,429.4 272.2,433.9 274.8,436.9 277.4,438.5 279.9,440.0 282.4,438.4 285.0,435.7 287.5,436.7 290.1,434.7 292.6,433.8 295.2,433.9 297.8,432.8 300.3,430.7 302.9,428.2 305.4,425.9 307.9,426.2 310.5,426.9 313.0,428.5 315.6,431.5 318.1,433.8 320.7,434.3 323.2,435.2 325.8,435.0 328.3,434.5 330.9,436.2 333.4,439.1 336.0,439.9 338.5,440.0 341.1,440.4 343.6,441.4 346.2,441.6 348.8,444.3 351.3,445.3 353.8,446.5 356.4,446.2 358.9,447.7 361.5,449.8 364.0,453.3 366.6,455.5 369.1,456.8 371.7,457.1 374.2,457.3 376.8,457.2 379.3,457.7 381.9,457.7 384.4,458.0 387.0,457.4 389.5,456.5 392.1,454.4 394.6,452.7 397.2,451.2 399.8,449.6 402.3,450.3 404.8,452.0 407.4,453.9 409.9,457.0 412.5,460.9 415.0,463.9 417.6,468.8 420.1,471.1 422.7,472.0 425.2,471.1 427.8,472.2 430.3,471.6 432.9,469.5 435.4,469.1 438.0,466.3 440.5,465.3 443.1,467.1 445.6,468.2 448.2,465.6 450.8,462.6 453.3,460.5 455.8,461.2 458.4,463.1 460.9,464.0 463.5,464.9 466.0,466.0 468.6,468.9 471.1,468.4 473.7,466.9 476.2,463.5 478.8,461.2 481.3,460.2 483.9,463.7 486.4,465.0 489.0,463.1 491.5,461.5 494.1,456.8 496.6,453.0 499.2,451.3 501.7,449.1 504.3,448.7 506.8,446.9 509.4,446.3 511.9,445.0 514.5,445.4 517.0,447.0 519.6,449.8 522.1,451.0 524.7,451.7 527.2,452.9 529.8,456.2 532.3,457.7 534.9,459.1 537.5,461.2 540.0,464.1 542.5,466.8 545.1,467.6 547.6,464.3 550.2,461.5 552.8,458.3 555.3,452.7 557.8,447.3 560.4,446.0 563.0,444.8 565.5,441.9 568.0,436.5 570.6,434.1 573.1,431.7 575.7,429.6 578.2,428.2 580.8,427.1 583.3,424.3 585.9,421.9 588.4,419.5 591.0,418.0 593.5,418.9 596.1,419.3 598.6,423.0 601.2,427.0 603.8,430.7 606.3,434.3 608.8,436.8 611.4,439.1 613.9,441.8 616.5,441.6 619.0,439.2 621.6,435.2 624.1,431.4 626.7,428.2 629.2,426.4 631.8,425.4 634.3,422.6 636.9,423.4 639.4,425.2 642.0,424.5 644.5,425.3 647.1,425.6 649.6,425.2 652.2,423.5 654.8,423.5 657.3,423.8 659.8,423.5 662.4,422.0 664.9,421.1 667.5,421.5 670.0,421.4 672.6,418.7 675.1,420.1 677.7,421.0 680.2,420.6 682.8,419.8 685.3,419.5 687.9,420.2 690.4,420.7 693.0,423.0 695.5,424.2 698.1,427.4 700.6,429.7 703.2,432.6 705.8,435.6 708.3,438.2 710.8,437.3 713.4,438.7 715.9,437.8 718.5,438.2 721.0,438.7 723.6,441.4 726.1,441.8 728.7,442.3 731.2,444.3 733.8,446.3 736.3,451.1 738.9,454.5 741.4,456.4 744.0,457.3 746.5,459.8 749.1,462.0 751.6,461.5 754.2,462.8 756.8,463.7 759.3,463.9 761.8,461.9 764.4,462.8 766.9,464.9 769.5,465.5 772.0,469.2 774.6,471.4 777.1,474.1 779.7,475.5 782.2,476.1 784.8,478.6 787.3,483.1 789.9,486.4 792.4,489.8 795.0,491.3 797.5,492.4 800.1,493.3 802.6,491.9 805.2,491.9 807.8,494.3 810.3,496.0 812.8,499.2 815.4,504.2 817.9,510.3 820.5,513.5 823.0,514.7 825.6,515.0 828.1,515.3 830.7,513.0 833.2,513.6 835.8,514.6 838.3,512.9 840.9,511.9 843.4,511.5 846.0,511.3 848.5,510.5 851.1,511.2 853.6,509.0 856.2,507.0 858.8,507.4 861.3,508.2 863.8,506.4 866.4,507.3 868.9,507.8 871.5,504.7 874.0,502.5 876.6,499.7 879.1,496.5 881.7,494.2 884.2,495.5 886.8,496.0 889.3,498.3 891.9,499.5 894.4,499.0 897.0,496.2 899.5,493.0 902.1,491.7 904.6,490.1 907.2,489.5 909.7,487.8 912.3,484.2 914.8,479.7 917.4,476.0 919.9,471.3 922.5,469.4 925.0,470.0 927.6,468.8 930.1,470.0 932.7,470.2 935.2,471.4 937.8,473.2 940.3,475.2 942.9,476.3 945.4,476.0 948.0,474.3 950.5,472.4 953.1,472.5 955.6,472.5 958.2,471.5 960.7,468.4 963.3,467.1 965.8,464.8 968.4,462.8 970.9,461.9 973.5,460.5 976.0,458.0 978.6,456.1 981.1,456.3 983.7,454.7 986.2,453.9"/>
<polyline points="55.5,485.3 58.0,484.9 60.6,484.1 63.1,483.3 65.7,482.8 68.2,480.7 70.8,481.5 73.3,482.3 75.9,482.2 78.5,481.2 81.0,481.5 83.5,480.5 86.1,480.2 88.7,479.4 91.2,477.3 93.8,478.6 96.3,478.5 98.8,476.7 101.4,475.6 103.9,474.7 106.5,473.4 109.0,472.5 111.6,470.9 114.2,469.8 116.7,467.9 119.2,465.3 121.8,463.7 124.3,461.4 126.9,460.8 129.4,461.0 132.0,459.5 134.6,458.3 137.1,456.4 139.6,453.6 142.2,452.6 144.8,452.5 147.3,452.0 149.8,449.9 152.4,448.9 154.9,446.2 157.5,444.8 160.1,445.4 162.6,444.3 165.1,443.2 167.7,442.5 170.2,440.3 172.8,440.7 175.3,439.1 177.9,440.4 180.4,439.4 183.0,438.4 185.5,437.3 188.1,435.9 190.6,436.2 193.2,436.6 195.8,436.2 198.3,438.2 200.8,440.2 203.4,439.8 205.9,439.1 208.5,437.8 211.0,436.0 213.6,435.1 216.1,434.4 218.7,433.8 221.2,433.0 223.8,432.5 226.3,432.1 228.9,431.0 231.4,430.7 234.0,431.0 236.5,431.2 239.1,430.1 241.6,428.6 244.2,426.3 246.8,423.7 249.3,423.7 251.8,423.9 254.4,424.2 256.9,423.1 259.5,420.8 262.0,419.5 264.6,418.2 267.1,416.2 269.7,415.3 272.2,414.4 274.8,413.7 277.4,413.9 279.9,413.3 282.4,414.6 285.0,414.5 287.5,417.9 290.1,421.1 292.6,425.0 295.2,429.2 297.8,433.6 300.3,436.5 302.9,439.1 305.4,441.0 307.9,443.1 310.5,445.3 313.0,445.6 315.6,445.9 318.1,446.9 320.7,449.0 323.2,450.6 325.8,451.1 328.3,450.3 330.9,450.6 333.4,452.3 336.0,453.0 338.5,453.2 341.1,450.0 343.6,448.7 346.2,449.5 348.8,449.1 351.3,447.3 353.8,445.4 356.4,443.6 358.9,442.4 361.5,443.9 364.0,445.6 366.6,446.2 369.1,445.9 371.7,447.7 374.2,449.5 376.8,450.1 379.3,449.6 381.9,449.1 384.4,448.4 387.0,450.0 389.5,452.3 392.1,453.1 394.6,453.2 397.2,453.9 399.8,457.1 402.3,458.8 404.8,460.6 407.4,460.9 409.9,462.3 412.5,465.9 415.0,469.7 417.6,472.9 420.1,476.4 422.7,479.4 425.2,481.5 427.8,482.0 430.3,482.7 432.9,483.6 435.4,483.2 438.0,482.7 440.5,481.3 443.1,478.5 445.6,477.2 448.2,475.4 450.8,473.1 453.3,470.6 455.8,469.5 458.4,471.1 460.9,472.4 463.5,472.5 466.0,474.0 468.6,475.3 471.1,476.1 473.7,477.1 476.2,477.0 478.8,474.8 481.3,477.6 483.9,482.2 486.4,486.7 489.0,490.4 491.5,493.7 494.1,497.9 496.6,500.7 499.2,501.7 501.7,503.0 504.3,503.2 506.8,501.6 509.4,500.0 511.9,499.7 514.5,500.1 517.0,500.0 519.6,500.8 522.1,499.5 524.7,497.5 527.2,496.4 529.8,495.1 532.3,492.9 534.9,491.2 537.5,491.1 540.0,489.9 542.5,487.5 545.1,485.1 547.6,484.2 550.2,483.5 552.8,481.7 555.3,480.2 557.8,479.7 560.4,479.8 563.0,480.1 565.5,478.9 568.0,478.6 570.6,478.5 573.1,478.5 575.7,478.2 578.2,476.5 580.8,474.5 583.3,473.4 585.9,474.3 588.4,473.8 591.0,473.7 593.5,473.7 596.1,473.0 598.6,473.0 601.2,474.2 603.8,474.1 606.3,474.3 608.8,473.4 611.4,472.8 613.9,473.7 616.5,474.4 619.0,476.0 621.6,476.1 624.1,477.1 626.7,477.5 629.2,478.7 631.8,481.0 634.3,482.1 636.9,484.5 639.4,485.3 642.0,483.9 644.5,483.6 647.1,483.1 649.6,479.8 652.2,478.4 654.8,476.9 657.3,473.3 659.8,470.6 662.4,468.7 664.9,466.3 667.5,464.1 670.0,462.4 672.6,460.7 675.1,460.6 677.7,461.9 680.2,461.5 682.8,460.8 685.3,459.7 687.9,459.1 690.4,460.0 693.0,463.2 695.5,466.1 698.1,468.7 700.6,470.0 703.2,472.2 705.8,475.1 708.3,477.8 710.8,478.0 713.4,479.2 715.9,480.5 718.5,481.8 721.0,482.9 723.6,485.2 726.1,486.2 728.7,485.8 731.2,485.6 733.8,484.5 736.3,484.3 738.9,485.2 741.4,483.6 744.0,480.6 746.5,477.2 749.1,477.0 751.6,478.9 754.2,481.5 756.8,482.8 759.3,485.2 761.8,488.0 764.4,489.9 766.9,492.0 769.5,493.1 772.0,494.6 774.6,495.7 777.1,498.0 779.7,499.8 782.2,502.1 784.8,505.0 787.3,507.4 789.9,507.9 792.4,508.6 795.0,509.3 797.5,509.8 800.1,509.9 802.6,511.4 805.2,511.7 807.8,511.6 810.3,512.9 812.8,513.4 815.4,512.9 817.9,512.4 820.5,511.8 823.0,511.1 825.6,510.0 828.1,508.1 830.7,506.7 833.2,509.5 835.8,512.3 838.3,513.7 840.9,515.3 843.4,514.8 846.0,516.8 848.5,519.9 851.1,522.9 853.6,526.2 856.2,528.3 858.8,529.6 861.3,530.6 863.8,534.8 866.4,537.8 868.9,538.6 871.5,537.8 874.0,535.4 876.6,533.8 879.1,532.0 881.7,530.0 884.2,528.8 886.8,527.2 889.3,525.5 891.9,525.1 894.4,525.4 897.0,524.3 899.5,521.7 902.1,519.3 904.6,517.8 907.2,517.3 909.7,516.9 912.3,516.8 914.8,515.5 917.4,515.8 919.9,515.6 922.5,516.2 925.0,516.4 927.6,515.9 930.1,515.7 932.7,514.3 935.2,511.0 937.8,508.6 940.3,506.0 942.9,503.3 945.4,501.3 948.0,499.2 950.5,497.2 953.1,495.8 955.6,495.1 958.2,493.6 960.7,492.6 963.3,490.0 965.8,487.6 968.4,485.9 970.9,484.2 973.5,483.0 976.0,481.1 978.6,479.9 981.1,479.9 983.7,479.2 986.2,478.3"/>
<polyline points="55.0,271.4 67.9,258.6 76.4,251.1 81.8,244.1 87.1,245.7 97.8,239.3 104.4,234.6 112.7,233.8 120.9,234.6 134.0,235.4 142.4,232.1 153.9,234.6 163.8,223.0 170.4,223.9 180.3,234.6 191.8,220.6 205.0,221.2 211.4,212.9 221.3,199.7 229.6,204.7 236.2,206.3 252.6,201.4 262.5,212.9 272.4,218.7 282.3,212.9 285.6,211.3 295.5,218.7 308.7,217.9 318.6,222.8 330.1,231.0 345.0,233.0 355.0,236.0 361.0,243.0 379.0,244.0 388.0,243.5 396.0,251.0 406.0,257.5 407.4,258.0 409.9,258.4 412.5,259.5 415.0,261.0 417.6,263.3 420.1,266.6 422.7,269.8 425.2,271.9 427.8,274.1 430.3,276.3 432.9,278.8 435.4,279.7 438.0,280.6 440.5,281.1 443.1,282.6 445.6,284.1 448.2,285.5 450.8,286.2 453.3,285.7 455.8,284.8 458.4,282.9 460.9,282.4 463.5,281.6 466.0,283.9 468.6,285.7 471.1,287.0 473.7,285.7 476.2,286.2 478.8,289.0 481.3,293.2 483.9,297.3 486.4,302.9 489.0,306.2 491.5,309.6 494.1,312.8 496.6,314.4 499.2,314.2 501.7,313.8 504.3,315.1 506.8,314.5 509.4,315.9 511.9,316.6 514.5,319.5 517.0,319.7 519.6,318.5 522.1,317.9 524.7,318.8 527.2,316.9 529.8,315.5 532.3,311.8 534.9,311.1 537.5,310.3 540.0,308.3 542.5,308.1 545.1,311.8 547.6,313.4 550.2,311.8 552.8,310.1 555.3,308.5 557.8,307.7 560.4,307.4 563.0,309.2 565.5,307.5 568.0,304.8 570.6,302.2 573.1,298.8 575.7,296.4 578.2,294.8 580.8,295.3 583.3,296.9 585.9,298.9 588.4,298.4 591.0,297.2 593.5,294.9 596.1,296.2 598.6,294.6 601.2,293.4 603.8,291.1 606.3,288.7 608.8,286.0 611.4,287.4 613.9,290.2 616.5,292.8 619.0,291.4 621.6,291.4 624.1,294.2 626.7,294.1 629.2,295.4 631.8,295.5 634.3,294.9 636.9,295.4 639.4,296.8 642.0,296.1 644.5,296.8 647.1,293.9 649.6,291.2 652.2,286.8 654.8,282.7 657.3,278.3 659.8,275.4 662.4,275.4 664.9,277.9 667.5,283.8 670.0,286.9 672.6,290.5 675.1,292.5 677.7,295.9 680.2,296.8 682.8,299.9 685.3,300.0 687.9,299.2 690.4,299.4 693.0,294.8 695.5,291.6 698.1,289.9 700.6,290.4 703.2,288.7 705.8,285.7 708.3,284.0 710.8,279.4 713.4,276.2 715.9,276.5 718.5,276.4 721.0,276.6 723.6,277.1 726.1,278.7 728.7,281.9 731.2,286.1 733.8,288.1 736.3,289.9 738.9,292.6 741.4,294.8 744.0,299.0 746.5,303.2 749.1,305.7 751.6,309.6 754.2,315.4 756.8,317.6 759.3,320.8 761.8,321.1 764.4,321.2 766.9,321.2 769.5,323.3 772.0,324.2 774.6,326.0 777.1,326.1 779.7,326.6 782.2,327.6 784.8,327.9 787.3,327.7 789.9,326.8 792.4,328.0 795.0,329.7 797.5,333.1 800.1,338.1 802.6,337.8 805.2,337.4 807.8,333.0 810.3,329.4 812.8,323.6 815.4,320.2 817.9,316.9 820.5,314.8 823.0,311.7 825.6,314.6 828.1,317.2 830.7,320.4 833.2,323.4 835.8,323.5 838.3,322.0 840.9,321.9 843.4,326.4 846.0,328.9 848.5,330.6 851.1,332.7 853.6,331.9 856.2,332.2 858.8,333.7 861.3,332.9 863.8,329.4 866.4,327.5 868.9,324.5 871.5,319.2 874.0,319.4 876.6,320.5 879.1,319.0 881.7,317.7 884.2,316.9 886.8,318.3 889.3,319.0 891.9,321.1 894.4,324.2 897.0,330.9 899.5,335.7 902.1,335.2 904.6,332.9 907.2,331.5 909.7,329.9 912.3,329.0 914.8,331.1 917.4,330.4 919.9,330.0 922.5,328.0 925.0,323.7 927.6,318.6 930.1,318.0 932.7,319.5 935.2,319.3 937.8,319.6 940.3,319.7 942.9,319.7 945.4,320.1 948.0,319.0 950.5,318.9 953.1,320.1 955.6,320.6 958.2,323.2 960.7,326.9 963.3,328.8 965.8,329.6 968.4,333.1 970.9,336.4 973.5,337.6 976.0,336.3 978.6,335.7 981.1,336.5 983.7,338.7 986.2,343.1"/>
<path d="M55.0 318.0C57.5 316.3 65.5 311.2 70.0 308.0C74.5 304.8 78.2 304.0 82.0 299.0C85.8 294.0 88.7 283.5 92.5 278.0C96.3 272.5 100.8 269.7 105.0 266.0C109.2 262.3 114.2 259.0 118.0 256.0C121.8 253.0 125.0 248.8 127.8 248.0C130.6 247.2 130.6 250.5 135.0 251.0C139.4 251.5 148.2 251.8 154.0 251.0C159.8 250.2 164.5 248.2 170.0 246.0C175.5 243.8 181.2 240.7 187.0 238.0C192.8 235.3 200.3 232.3 205.0 230.0C209.7 227.7 211.5 226.0 215.0 224.0C218.5 222.0 222.8 220.7 226.0 218.0C229.2 215.3 231.0 211.6 234.0 208.0C237.0 204.4 240.3 198.2 244.0 196.4C247.7 194.6 251.8 197.7 256.0 197.3C260.2 196.9 264.7 195.7 269.0 194.0C273.3 192.3 278.7 189.1 282.0 187.4C285.3 185.7 285.7 184.0 289.0 184.0C292.3 184.0 297.7 186.2 302.0 187.4C306.3 188.7 310.8 190.0 315.0 191.5C319.2 193.0 322.6 195.4 327.0 196.4C331.4 197.4 338.2 196.6 341.5 197.4C344.8 198.2 343.2 199.2 346.5 201.5C349.8 203.8 357.1 208.8 361.0 211.4C364.9 214.0 367.0 216.2 370.0 217.0C373.0 217.8 375.8 216.5 379.0 216.0C382.2 215.5 385.7 212.8 389.0 214.0C392.3 215.2 395.7 220.3 399.0 223.0C402.3 225.7 405.7 228.5 409.0 230.0C412.3 231.5 415.7 231.5 419.0 232.0C422.3 232.5 426.2 232.2 429.0 233.0C431.8 233.8 433.3 236.2 435.5 237.0C437.7 237.8 439.2 238.7 442.0 238.0C444.8 237.3 448.7 234.8 452.0 233.0C455.3 231.2 458.7 227.3 462.0 227.0C465.3 226.7 469.0 230.5 472.0 231.0C475.0 231.5 477.0 230.7 480.0 230.0C483.0 229.3 486.7 227.8 490.0 227.0C493.3 226.2 496.7 224.3 500.0 225.0C503.3 225.7 505.8 231.4 510.0 231.0C514.2 230.6 520.4 225.2 525.0 222.5C529.6 219.8 533.3 217.9 537.5 215.0C541.7 212.1 545.4 208.5 550.0 205.0C554.6 201.5 560.0 195.6 565.0 193.8C570.0 191.9 575.0 194.3 580.0 193.8C585.0 193.2 590.0 191.5 595.0 190.5C600.0 189.5 605.4 187.8 610.0 187.5C614.6 187.2 618.3 189.7 622.5 188.8C626.7 187.8 629.6 184.5 635.0 182.0C640.4 179.5 650.0 174.5 655.0 173.8C660.0 173.0 661.7 175.2 665.0 177.5C668.3 179.8 671.7 185.8 675.0 187.5C678.3 189.2 681.7 188.3 685.0 187.5C688.3 186.7 691.2 181.5 695.0 182.5C698.8 183.5 703.8 190.2 707.5 193.8C711.2 197.3 714.2 202.0 717.5 203.8C720.8 205.5 723.8 202.6 727.5 204.5C731.2 206.4 736.9 213.5 740.0 215.0C743.1 216.5 743.9 212.4 746.0 213.7C748.1 214.9 750.2 219.4 752.5 222.5C754.8 225.6 756.7 230.2 760.0 232.5C763.3 234.8 767.5 237.2 772.5 236.0C777.5 234.8 785.0 225.6 790.0 225.0C795.0 224.4 798.3 229.6 802.5 232.5C806.7 235.4 811.2 239.4 815.0 242.5C818.8 245.6 821.2 250.8 825.0 251.0C828.8 251.2 834.2 244.6 837.5 243.8C840.8 242.9 841.7 243.4 845.0 246.0C848.3 248.6 853.3 258.2 857.5 259.5C861.7 260.8 865.4 255.8 870.0 253.8C874.6 251.8 879.6 249.6 885.0 247.5C890.4 245.4 897.5 241.2 902.5 241.2C907.5 241.2 911.2 247.3 915.0 247.5C918.8 247.7 921.2 241.7 925.0 242.5C928.8 243.3 933.8 253.6 937.5 252.5C941.2 251.4 943.8 239.8 947.5 236.0C951.2 232.2 955.6 232.0 960.0 230.0C964.4 228.0 969.4 226.6 973.8 223.8C978.1 220.9 984.0 214.8 986.0 213.0"/>
</g>
<path d="M56.2 424.7C57.8 423.1 62.1 417.3 66.0 414.8C69.9 412.3 75.0 411.7 79.7 409.9C84.5 408.1 89.6 406.0 94.5 404.2C99.4 402.4 104.3 401.1 109.3 398.8C114.2 396.5 119.7 392.7 124.2 390.1C128.7 387.5 131.6 386.7 136.5 383.4C141.4 380.1 148.4 373.3 153.8 370.3C159.2 367.3 163.3 367.0 168.7 365.4C174.1 363.8 181.1 362.0 186.0 360.5C190.9 359.0 193.8 357.0 198.3 356.3C202.8 355.6 208.2 356.6 213.2 356.3C218.1 356.1 221.9 356.4 228.0 354.8C234.1 353.2 244.3 347.8 250.0 346.6C255.7 345.4 257.0 346.5 262.4 347.4C267.8 348.3 275.9 350.4 282.1 351.8C288.3 353.2 293.2 353.9 299.4 355.5C305.6 357.1 312.6 360.1 319.2 361.7C325.8 363.3 332.4 363.8 339.0 365.4C345.6 367.0 352.2 369.4 358.8 371.6C365.4 373.8 372.0 376.4 378.6 378.5C385.2 380.6 392.5 383.1 398.3 384.4C404.1 385.7 408.2 385.4 413.2 386.4C418.1 387.3 423.5 388.5 428.0 390.1C432.5 391.8 436.7 394.2 440.4 396.3C444.1 398.4 445.9 401.2 450.0 402.9C454.1 404.6 458.2 405.6 464.8 406.4C471.4 407.2 480.5 407.4 489.6 407.7C498.7 408.0 510.6 408.3 519.2 408.4C527.9 408.5 534.9 409.2 541.5 408.4C548.1 407.6 552.6 404.9 558.8 403.4C565.0 401.9 572.0 400.7 578.6 399.5C585.2 398.3 592.5 396.7 598.3 396.0C604.1 395.3 608.2 396.2 613.2 395.3C618.2 394.4 621.9 391.1 628.0 390.3C634.1 389.6 642.6 391.2 650.0 390.8C657.4 390.4 666.4 388.1 672.2 388.0C678.0 387.9 680.1 389.3 684.6 390.5C689.1 391.7 693.6 392.9 699.4 395.4C705.2 397.9 712.6 402.5 719.2 405.3C725.8 408.1 732.4 409.3 739.0 412.0C745.6 414.7 752.2 418.2 758.8 421.4C765.4 424.6 772.0 428.5 778.6 431.2C785.2 433.9 791.7 435.5 798.3 437.4C804.9 439.3 811.5 440.5 818.1 442.4C824.7 444.3 832.6 447.3 837.9 448.6C843.2 449.9 846.4 449.5 850.0 450.0C853.6 450.5 854.9 451.2 859.8 451.7C864.7 452.2 872.1 453.7 879.5 453.2C886.9 452.7 896.8 450.3 904.2 448.7C911.6 447.1 917.4 445.2 924.0 443.8C930.6 442.4 937.6 441.7 943.8 440.0C950.0 438.3 954.4 435.9 961.0 433.4C967.6 430.9 979.6 426.6 983.3 425.2" fill="none" stroke="#1e1e1e" stroke-width="2.3" stroke-dasharray="7 5"/>
<path d="M56.2 387.2C57.6 386.4 61.7 384.3 64.8 382.7C67.9 381.1 71.0 379.9 74.7 377.8C78.4 375.7 83.0 372.6 87.1 370.3C91.2 368.0 94.9 366.2 99.4 364.2C103.9 362.1 108.5 360.6 114.3 358.0C120.1 355.4 128.2 351.7 134.0 348.8C139.8 345.9 144.8 343.1 148.9 340.7C153.0 338.3 154.7 336.8 158.8 334.5C162.9 332.2 168.7 329.2 173.6 327.1C178.5 325.0 183.4 323.3 188.4 322.1C193.4 320.9 197.5 320.2 203.3 319.7C209.1 319.2 217.2 320.0 223.0 319.2C228.8 318.4 233.4 316.2 237.9 314.7C242.4 313.2 246.3 311.0 250.0 310.0C253.7 309.0 255.8 308.6 259.9 308.5C264.0 308.4 269.8 308.6 274.7 309.3C279.6 310.0 283.8 311.2 289.6 312.7C295.4 314.2 302.7 316.6 309.3 318.4C315.9 320.2 322.5 321.9 329.1 323.4C335.7 324.8 343.9 325.8 348.9 327.1C353.8 328.5 354.7 329.8 358.8 331.5C362.9 333.2 368.7 335.6 373.6 337.5C378.5 339.4 382.2 341.4 388.4 343.2C394.6 345.0 404.9 346.5 410.7 348.1C416.5 349.7 418.5 351.4 423.0 353.0C427.5 354.6 433.4 356.4 437.9 358.0C442.4 359.6 446.3 361.0 450.0 362.4C453.7 363.8 456.6 365.2 459.9 366.4C463.2 367.5 464.9 369.0 469.8 369.3C474.8 369.6 481.8 368.6 489.6 368.1C497.4 367.6 508.5 366.8 516.7 366.4C524.9 366.0 532.0 366.3 539.0 365.6C546.0 364.9 552.6 363.4 558.8 362.4C565.0 361.4 570.6 361.0 576.0 359.4C581.4 357.8 585.5 354.1 590.9 352.5C596.3 350.9 602.0 350.6 608.2 349.6C614.4 348.6 621.0 347.2 628.0 346.6C635.0 346.1 643.9 346.5 650.0 346.3C656.1 346.1 660.7 345.2 664.8 345.2C668.9 345.1 671.0 345.2 674.7 346.0C678.4 346.8 682.6 348.1 687.1 350.2C691.6 352.2 697.0 355.6 701.9 358.3C706.8 361.0 711.8 364.6 716.7 366.5C721.7 368.4 726.2 367.6 731.6 369.4C737.0 371.2 742.7 374.6 748.9 377.4C755.1 380.2 762.1 383.3 768.7 386.3C775.3 389.3 781.4 393.1 788.4 395.4C795.4 397.7 804.1 398.2 810.7 400.3C817.3 402.4 823.0 405.8 828.0 407.8C833.0 409.8 835.1 411.4 840.4 412.2C845.7 413.0 853.3 412.9 859.8 412.9C866.3 412.9 871.7 412.6 879.5 412.2C887.3 411.8 899.3 411.5 906.7 410.4C914.1 409.3 917.8 406.9 924.0 405.5C930.2 404.1 938.0 403.7 943.8 402.3C949.6 400.9 953.2 399.8 958.6 397.3C964.0 394.8 971.4 388.9 975.9 387.4C980.4 385.9 984.1 388.1 985.8 388.2" fill="none" stroke="#1e1e1e" stroke-width="2.3" stroke-dasharray="12 5"/>
<path d="M56.3 258.5C56.9 256.7 58.5 250.7 60.0 247.8C61.5 244.9 63.1 243.2 65.0 241.0C66.9 238.8 69.5 235.5 71.4 234.3C73.3 233.1 74.5 233.7 76.4 234.0C78.3 234.3 81.0 236.1 83.0 236.2C85.0 236.2 86.5 234.5 88.7 234.3C90.9 234.1 94.0 236.1 96.0 235.0C98.0 233.9 98.7 229.8 101.0 228.0C103.3 226.2 106.8 225.2 110.0 224.0C113.2 222.8 116.7 222.7 120.0 221.0C123.3 219.3 126.7 216.0 130.0 214.0C133.3 212.0 136.7 210.7 140.0 209.0C143.3 207.3 146.7 205.0 150.0 204.0C153.3 203.0 157.5 203.5 160.0 203.0C162.5 202.5 162.7 202.6 165.0 201.2C167.3 199.8 171.7 195.8 174.0 194.4C176.3 193.0 176.8 193.0 178.6 192.6C180.4 192.2 182.7 192.5 185.0 192.2C187.3 191.9 189.8 191.1 192.2 190.8C194.6 190.5 197.6 190.9 199.4 190.3C201.2 189.7 202.1 187.9 203.0 187.2C203.9 186.4 203.4 185.7 204.9 185.8C206.4 185.9 209.7 187.2 212.1 187.6C214.5 188.0 217.3 188.7 219.3 188.5C221.3 188.3 222.4 186.7 223.9 186.7C225.4 186.7 227.0 188.1 228.4 188.5C229.8 188.9 230.2 189.7 232.6 189.0C234.9 188.3 239.4 183.9 242.5 184.5C245.6 185.1 248.3 191.2 251.4 192.4C254.5 193.6 257.8 192.1 261.3 191.4C264.8 190.7 268.4 187.7 272.2 188.0C276.0 188.3 281.1 191.8 284.1 193.4C287.1 195.0 288.0 196.4 290.0 197.4C292.0 198.4 293.0 199.7 296.0 199.6C299.0 199.5 305.0 196.9 308.0 197.0C311.0 197.1 311.3 197.5 314.0 200.0C316.7 202.5 321.0 209.3 324.0 212.0C327.0 214.7 329.0 216.3 332.0 216.0C335.0 215.7 339.0 211.0 342.0 210.0C345.0 209.0 346.7 209.7 350.0 210.0C353.3 210.3 358.7 211.7 362.0 212.0C365.3 212.3 367.0 211.0 370.0 212.0C373.0 213.0 376.0 216.2 380.0 218.0C384.0 219.8 390.7 221.7 394.0 223.0C397.3 224.3 397.3 224.3 400.0 226.0C402.7 227.7 407.3 232.2 410.0 233.0C412.7 233.8 413.0 229.5 416.0 231.0C419.0 232.5 424.0 238.5 428.0 242.0C432.0 245.5 436.3 248.9 440.0 252.0C443.7 255.1 447.2 259.4 450.0 260.4C452.8 261.4 454.7 258.5 457.0 258.0C459.3 257.5 461.2 259.0 464.0 257.6C466.8 256.2 471.3 250.9 474.0 249.6C476.7 248.3 477.7 250.3 480.0 249.6C482.3 248.9 485.0 244.9 488.0 245.6C491.0 246.3 494.7 253.5 498.0 254.0C501.3 254.5 504.7 250.0 508.0 248.4C511.3 246.8 513.3 246.4 518.0 244.4C522.7 242.4 531.8 237.3 536.0 236.4C540.2 235.5 539.7 240.2 543.0 239.0C546.3 237.8 551.8 231.2 556.0 229.0C560.2 226.8 564.5 227.2 568.0 226.0C571.5 224.8 573.7 221.9 577.0 221.6C580.3 221.3 585.5 224.1 588.0 224.4C590.5 224.7 590.2 221.5 592.0 223.6C593.8 225.7 596.0 235.9 599.0 237.0C602.0 238.1 606.5 232.8 610.0 230.0C613.5 227.2 616.7 223.0 620.0 220.0C623.3 217.0 626.7 212.8 630.0 212.0C633.3 211.2 636.2 213.4 640.0 215.0C643.8 216.6 650.0 222.0 653.0 221.6C656.0 221.2 656.0 212.8 658.0 212.4C660.0 212.0 662.7 214.7 665.0 219.0C667.3 223.3 669.0 234.2 672.0 238.0C675.0 241.8 679.7 241.9 683.0 242.0C686.3 242.1 689.2 240.0 692.0 238.4C694.8 236.8 698.0 232.6 700.0 232.4C702.0 232.2 702.0 235.7 704.0 237.0C706.0 238.3 709.2 238.2 712.0 240.0C714.8 241.8 718.7 247.7 721.0 248.0C723.3 248.3 723.8 239.8 726.0 242.0C728.2 244.2 731.5 257.3 734.0 261.0C736.5 264.7 737.7 264.8 741.0 264.0C744.3 263.2 749.7 254.3 754.0 256.0C758.3 257.7 763.3 270.3 767.0 274.0C770.7 277.7 772.8 277.5 776.0 278.0C779.2 278.5 783.3 276.7 786.0 277.0C788.7 277.3 789.7 278.0 792.0 280.0C794.3 282.0 797.0 285.7 800.0 289.0C803.0 292.3 806.7 297.2 810.0 300.0C813.3 302.8 816.7 304.3 820.0 305.6C823.3 306.9 826.0 305.6 830.0 308.0C834.0 310.4 840.0 317.9 844.0 320.0C848.0 322.1 850.8 318.9 854.0 320.4C857.2 321.9 858.0 327.7 863.0 329.0C868.0 330.3 879.5 329.4 884.0 328.0C888.5 326.6 887.9 323.1 890.0 320.7C892.1 318.2 894.4 314.7 896.6 313.3C898.8 311.9 901.1 313.5 903.2 312.5C905.3 311.5 907.1 307.6 909.0 307.5C910.9 307.4 912.9 311.0 914.7 311.7C916.5 312.4 917.5 312.7 919.7 311.7C921.9 310.7 925.7 306.9 927.9 305.9C930.1 304.9 930.9 305.1 932.8 305.9C934.7 306.7 937.2 309.1 939.4 310.8C941.6 312.5 944.1 314.6 946.0 315.8C947.9 317.1 949.4 318.7 951.0 318.3C952.6 317.9 954.0 315.8 955.9 313.3C957.8 310.8 960.6 306.0 962.5 303.4C964.4 300.8 965.2 300.7 967.4 297.7C969.6 294.7 973.2 287.9 975.7 285.3C978.2 282.7 980.7 282.9 982.3 282.0C983.9 281.1 985.0 280.3 985.5 280.0" fill="none" stroke="#fd8417" stroke-width="1.8" stroke-linejoin="round"/>
<path d="M56.3 275.8C57.4 274.7 60.8 271.4 63.2 269.2C65.6 266.9 68.4 263.3 70.6 262.3C72.8 261.3 74.3 264.2 76.4 263.4C78.5 262.6 80.5 260.1 83.0 257.7C85.5 255.3 88.2 251.0 91.2 249.1C94.2 247.2 97.8 246.0 101.0 246.1C104.2 246.2 107.1 251.2 110.1 249.8C113.1 248.4 116.6 240.6 119.2 237.9C121.8 235.2 123.3 236.1 125.8 233.8C128.3 231.5 131.5 225.6 134.0 223.9C136.5 222.2 137.9 225.2 140.6 223.9C143.3 222.6 147.1 218.0 150.0 216.0C152.9 214.0 155.3 213.5 158.0 212.0C160.7 210.5 163.2 207.4 166.0 207.0C168.8 206.6 172.4 210.3 175.0 209.4C177.6 208.5 179.5 204.2 181.3 201.7C183.1 199.2 184.1 197.9 185.8 194.4C187.5 190.9 189.6 183.1 191.3 180.4C193.1 177.7 195.0 178.2 196.3 178.1C197.7 177.9 198.6 178.6 199.4 179.5C200.2 180.4 200.3 182.5 201.2 183.6C202.1 184.7 203.1 186.3 204.9 185.8C206.7 185.3 209.7 181.8 212.1 180.8C214.5 179.8 216.9 180.1 219.3 179.9C221.7 179.8 224.5 180.0 226.6 179.9C228.7 179.8 231.1 179.6 232.0 179.5" fill="none" stroke="#a00000" stroke-width="3.4" stroke-linejoin="round" stroke-linecap="round"/>
<path d="M232.8 176.2C233.8 175.8 236.7 173.8 238.7 173.6C240.7 173.3 243.2 175.1 244.7 174.7C246.2 174.3 246.4 172.4 247.6 171.0C248.8 169.6 251.0 166.6 252.1 166.5C253.2 166.4 253.3 170.0 254.3 170.6C255.3 171.2 257.1 170.8 258.0 170.2C258.9 169.6 259.0 168.5 259.5 167.3C260.0 166.1 260.2 164.1 261.0 162.8C261.8 161.6 263.0 159.8 264.0 159.8C265.0 159.8 266.4 162.1 267.0 162.8C267.6 163.6 267.2 164.1 267.3 164.3" fill="none" stroke="#a00000" stroke-width="3.8" stroke-linejoin="round" stroke-linecap="round"/>
<path d="M56.0 212.0C57.0 210.0 60.0 203.7 62.0 200.0C64.0 196.3 65.7 192.2 68.0 190.0C70.3 187.8 73.5 188.3 76.0 187.0C78.5 185.7 80.7 182.6 83.0 182.4C85.3 182.2 87.5 184.4 90.0 186.0C92.5 187.6 95.7 191.7 98.0 192.0C100.3 192.3 101.7 187.7 104.0 188.0C106.3 188.3 109.5 192.5 112.0 194.0C114.5 195.5 116.7 197.5 119.0 197.0C121.3 196.5 124.0 194.2 126.0 191.0C128.0 187.8 129.5 181.7 131.0 178.0C132.5 174.3 133.3 170.0 135.0 169.0C136.7 168.0 138.8 171.8 141.0 172.0C143.2 172.2 145.8 170.2 148.0 170.0C150.2 169.8 152.7 171.3 154.0 171.0C155.3 170.7 154.5 166.3 156.0 168.0C157.5 169.7 160.7 178.7 163.0 181.0C165.3 183.3 167.8 181.6 170.0 181.6C172.2 181.6 174.3 181.6 176.0 181.0C177.7 180.4 178.2 179.5 180.0 178.0C181.8 176.5 185.3 172.8 187.0 172.0C188.7 171.2 188.2 174.0 190.0 173.0C191.8 172.0 195.0 169.1 198.0 166.0C201.0 162.9 204.9 155.5 207.9 154.3C210.9 153.1 213.5 158.0 215.8 158.8C218.1 159.6 219.5 158.6 221.8 159.3C224.1 160.0 227.1 161.7 229.7 163.2C232.3 164.7 235.5 166.8 237.6 168.2C239.7 169.6 240.5 171.6 242.5 171.7C244.5 171.8 247.0 169.7 249.5 168.7C252.0 167.7 254.9 165.9 257.4 165.7C259.9 165.4 261.3 167.4 264.3 167.2C267.3 167.0 271.7 166.3 275.2 164.7C278.7 163.1 282.3 158.1 285.1 157.8C287.9 157.5 289.9 162.3 292.0 163.0C294.1 163.7 296.2 162.7 298.0 162.0C299.8 161.3 301.3 158.8 303.0 159.0C304.7 159.2 305.8 161.2 308.0 163.0C310.2 164.8 313.0 169.1 316.0 169.6C319.0 170.1 322.3 168.3 326.0 166.0C329.7 163.7 334.7 158.1 338.0 156.0C341.3 153.9 343.3 152.9 346.0 153.6C348.7 154.3 351.0 156.6 354.0 160.0C357.0 163.4 361.3 171.7 364.0 174.0C366.7 176.3 368.2 171.9 370.0 173.6C371.8 175.3 373.2 182.4 375.0 184.0C376.8 185.6 378.5 181.0 381.0 183.0C383.5 185.0 387.2 192.3 390.0 196.0C392.8 199.7 394.7 202.8 398.0 205.0C401.3 207.2 406.3 208.0 410.0 209.0C413.7 210.0 416.7 211.0 420.0 211.0C423.3 211.0 426.7 209.3 430.0 209.0C433.3 208.7 437.0 208.3 440.0 209.0C443.0 209.7 445.0 212.3 448.0 213.0C451.0 213.7 454.7 212.2 458.0 213.0C461.3 213.8 465.2 217.7 468.0 218.0C470.8 218.3 472.0 216.3 475.0 215.0C478.0 213.7 482.2 209.3 486.0 210.0C489.8 210.7 493.7 216.7 498.0 219.0C502.3 221.3 507.7 223.7 512.0 224.0C516.3 224.3 520.3 223.3 524.0 221.0C527.7 218.7 531.3 212.2 534.0 210.0C536.7 207.8 538.2 209.1 540.0 207.6C541.8 206.1 542.8 200.9 545.0 201.0C547.2 201.1 550.5 207.3 553.0 208.0C555.5 208.7 557.2 205.4 560.0 205.0C562.8 204.6 565.8 204.1 570.0 205.6C574.2 207.1 580.7 213.4 585.0 214.0C589.3 214.6 592.5 210.3 596.0 209.0C599.5 207.7 602.7 207.2 606.0 206.0C609.3 204.8 612.7 202.1 616.0 201.6C619.3 201.1 623.2 203.4 626.0 203.0C628.8 202.6 630.7 199.2 633.0 199.0C635.3 198.8 637.2 200.5 640.0 202.0C642.8 203.5 646.0 207.1 650.0 208.0C654.0 208.9 659.7 207.3 664.0 207.6C668.3 207.9 673.0 209.8 676.0 210.0C679.0 210.2 680.0 209.0 682.0 209.0C684.0 209.0 686.0 210.2 688.0 210.0C690.0 209.8 692.0 207.3 694.0 208.0C696.0 208.7 698.0 211.3 700.0 214.0C702.0 216.7 703.3 223.7 706.0 224.0C708.7 224.3 712.7 217.3 716.0 216.0C719.3 214.7 722.0 215.0 726.0 216.0C730.0 217.0 736.8 221.5 740.0 222.0C743.2 222.5 743.0 218.8 745.0 219.0C747.0 219.2 749.2 220.3 752.0 223.0C754.8 225.7 759.3 232.8 762.0 235.0C764.7 237.2 766.5 235.2 768.0 236.0C769.5 236.8 769.3 239.5 771.0 240.0C772.7 240.5 775.5 238.2 778.0 239.0C780.5 239.8 782.7 243.2 786.0 245.0C789.3 246.8 794.7 247.2 798.0 250.0C801.3 252.8 803.0 259.2 806.0 262.0C809.0 264.8 813.7 266.7 816.0 267.0C818.3 267.3 817.8 265.0 820.0 264.0C822.2 263.0 826.0 260.2 829.0 261.0C832.0 261.8 835.5 267.2 838.0 269.0C840.5 270.8 840.8 269.0 844.0 272.0C847.2 275.0 853.0 285.8 857.0 287.0C861.0 288.2 865.7 280.2 868.0 279.0C870.3 277.8 869.2 278.4 871.0 279.6C872.8 280.8 876.2 287.4 879.0 286.0C881.8 284.6 885.8 272.7 888.0 271.0C890.2 269.3 888.9 273.8 892.0 276.0C895.1 278.2 902.8 283.2 906.5 284.5C910.2 285.8 911.8 284.4 914.0 283.6C916.2 282.8 917.4 279.8 919.7 279.5C922.0 279.2 924.9 283.1 927.9 282.0C930.9 280.9 934.2 273.6 937.8 273.0C941.4 272.4 946.3 277.8 949.3 278.7C952.3 279.6 953.9 278.0 955.9 278.7C957.9 279.4 959.8 282.9 961.0 283.0C962.2 283.1 961.7 278.3 963.0 279.0C964.3 279.7 966.9 287.2 969.0 287.0C971.1 286.8 973.5 281.1 975.7 277.9C977.9 274.7 980.6 270.8 982.3 268.0C984.0 265.2 985.4 262.2 986.0 261.0" fill="none" stroke="#8f8f8f" stroke-width="4.6" stroke-linejoin="round" stroke-linecap="round"/>
<path d="M244.7 174.7C245.2 174.1 246.4 172.4 247.6 171.0C248.8 169.6 251.0 166.6 252.1 166.5C253.2 166.4 253.3 170.0 254.3 170.6C255.3 171.2 257.1 170.8 258.0 170.2C258.9 169.6 259.0 168.5 259.5 167.3C260.0 166.1 260.2 164.1 261.0 162.8C261.8 161.6 263.5 160.3 264.0 159.8" fill="none" stroke="#a00000" stroke-width="3.4" stroke-linecap="round" stroke-dasharray="0.1 5"/>
<path d="M324.1 110.9 L287.1 136.3 L289.9 140.3 L326.9 114.9 Z" fill="#ff0000"/>
<path d="M268.2 152.8 L281.6 128.2 L295.7 148.4 Z" fill="#ff0000"/>
<path d="M919.3 91.7H931" stroke="#a00000" stroke-width="3.6" stroke-linecap="round"/>
<path d="M917.5 114.8H933" stroke="#fd8417" stroke-width="1.8"/>
<path d="M918 137.4H933.5" stroke="#8f8f8f" stroke-width="5"/>
</svg>
<div class="t m" style="left:82.5px">Jan</div>
<div class="t m" style="left:162px">Feb</div>
<div class="t m" style="left:232.5px">Mar</div>
<div class="t m" style="left:311px">Apr</div>
<div class="t m" style="left:388px">May</div>
<div class="t m" style="left:467px">Jun</div>
<div class="t m" style="left:543.6px">Jul</div>
<div class="t m" style="left:622.3px">Aug</div>
<div class="t m" style="left:702px">Sep</div>
<div class="t m" style="left:778.2px">Oct</div>
<div class="t m" style="left:857.3px">Nov</div>
<div class="t m" style="left:933.8px">Dec</div>
<div class="t yl" style="top:66px">21.5</div>
<div class="t yl" style="top:191px">21</div>
<div class="t yl" style="top:317px">20.5</div>
<div class="t yl" style="top:443px">20</div>
<div class="t yl" style="top:570px">19.5</div>
<div class="t lg" style="top:84.5px">2026</div>
<div class="t lg" style="top:107px">2025</div>
<div class="t lg" style="top:130px">2024</div>
<div class="t b" style="left:66px;top:157.5px;color:#8f8f8f">2024</div>
<div class="t b" style="left:74px;top:205.5px;color:#f7901e">2025</div>
<div class="t b" style="left:87px;top:259.5px;color:#a00000">2026</div>
<div style="position:absolute;left:318px;top:81px;width:157.5px;height:50.5px;background:#e0302c"></div>
<div class="t" style="left:318px;top:83px;width:157px;text-align:center;font-size:22.8px;line-height:22px;color:#fff">au niveau du&nbsp;<br>record de 2024</div>
</body></html>
